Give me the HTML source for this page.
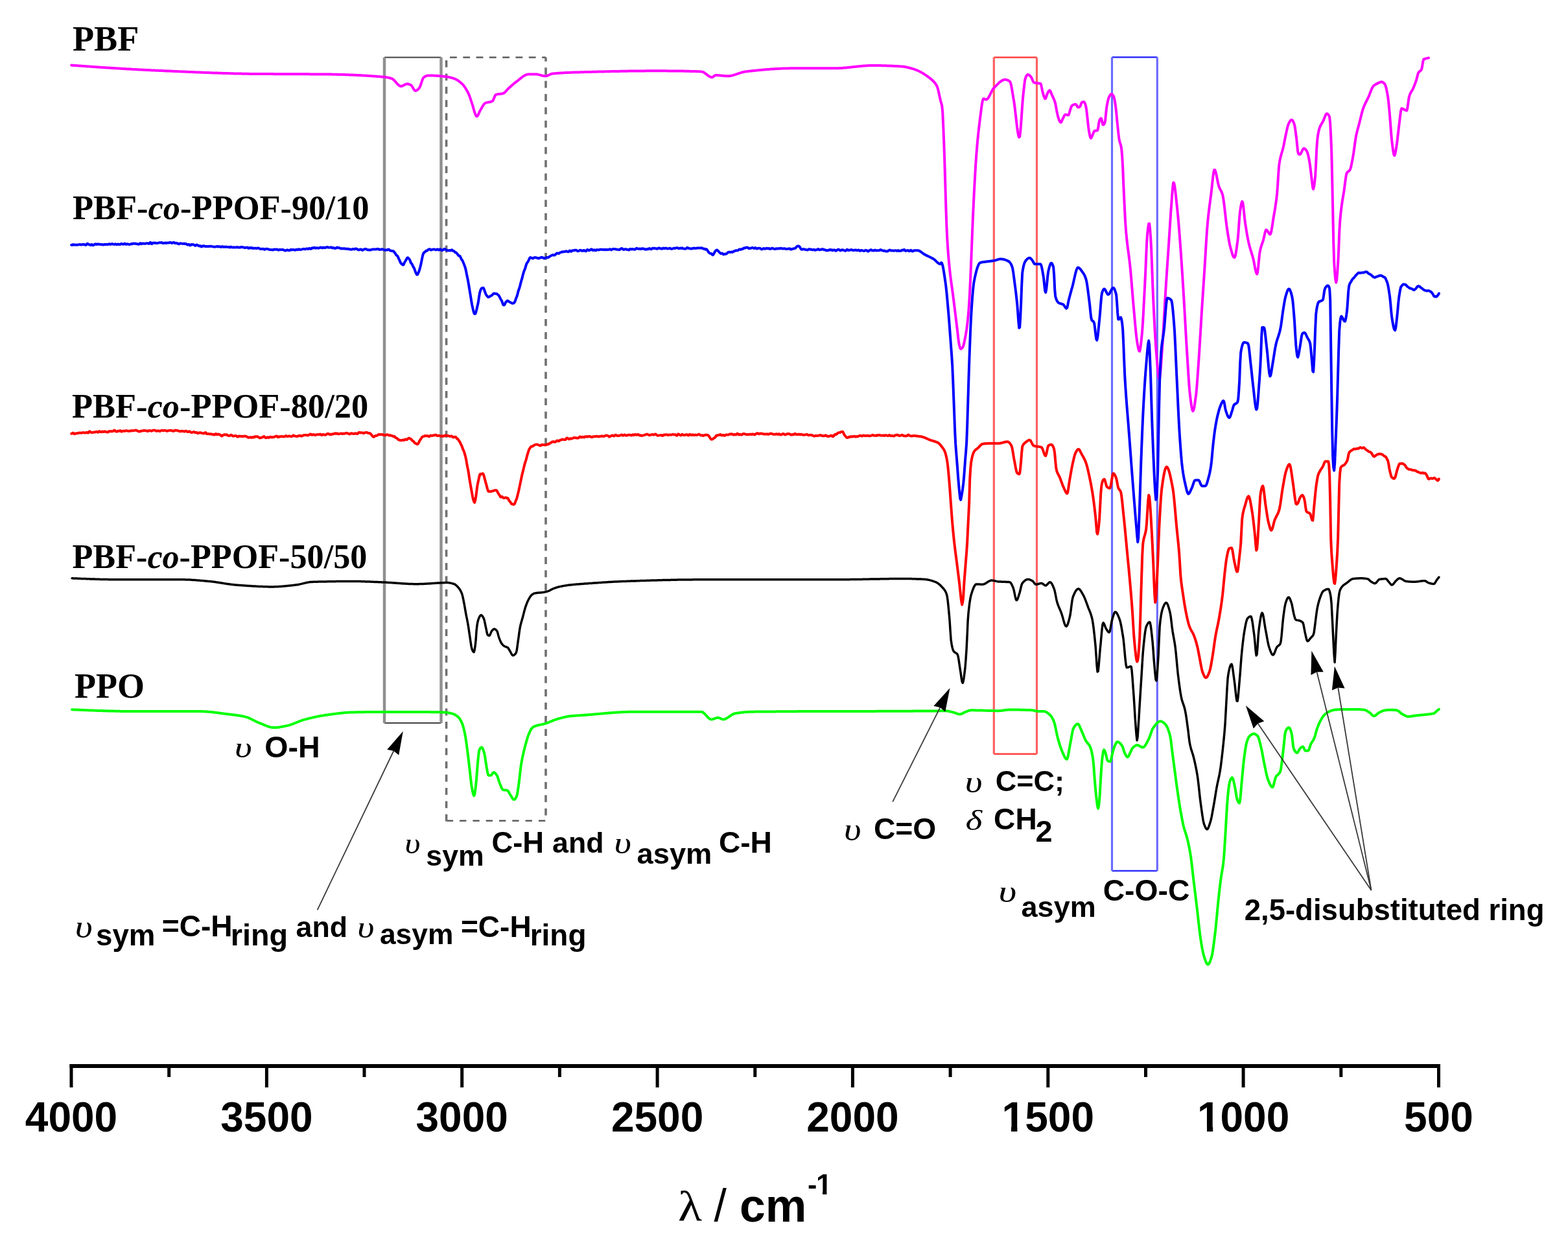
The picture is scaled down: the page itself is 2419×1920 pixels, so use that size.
<!DOCTYPE html>
<html><head><meta charset="utf-8"><title>FTIR spectra</title><style>html,body{margin:0;padding:0;background:#fff;}svg{display:block;}</style></head><body>
<svg width="2419" height="1920" viewBox="0 0 2419 1920">
<rect x="0" y="0" width="2419" height="1920" fill="#fff"/>
<defs><clipPath id="no1base"><path clip-rule="evenodd" d="M0 0H2419V1920H0Z M1548 1737.4h12v8.6h-12z M1569.4 1737.4h12v8.6h-12z M1850 1737.4h12v8.6h-12z M1871.2 1737.4h11v8.6h-11z M1260 1836.6h9v6.4h-9z M1275.4 1836.6h8v6.4h-8z"/></clipPath></defs>
<line x1="593" y1="88.5" x2="680.5" y2="88.5" stroke="#404040" stroke-width="2.2"/><line x1="593" y1="1115" x2="680.5" y2="1115" stroke="#404040" stroke-width="2.2"/><line x1="593" y1="88.5" x2="593" y2="1115" stroke="#909090" stroke-width="4.5"/><line x1="680.5" y1="88.5" x2="680.5" y2="1115" stroke="#909090" stroke-width="4.5"/>
<line x1="688.8" y1="88.5" x2="842" y2="88.5" stroke="#5c5c5c" stroke-width="2.6" stroke-dasharray="10.8 9.5" stroke-dashoffset="15.1"/>
<line x1="688.8" y1="1265.8" x2="842" y2="1265.8" stroke="#5c5c5c" stroke-width="2.6" stroke-dasharray="10.3 10" stroke-dashoffset="0"/>
<line x1="688.6" y1="88.5" x2="688.6" y2="1266.5" stroke="#707070" stroke-width="3.6" stroke-dasharray="10.8 9.6" stroke-dashoffset="15.9"/>
<line x1="842" y1="88.5" x2="842" y2="1266.5" stroke="#707070" stroke-width="3.6" stroke-dasharray="10.8 9.6" stroke-dashoffset="4.6"/>
<line x1="1533.3" y1="88.5" x2="1599.5" y2="88.5" stroke="#ff4040" stroke-width="2.6"/><line x1="1533.3" y1="1162.8" x2="1599.5" y2="1162.8" stroke="#ff4040" stroke-width="2.6"/><line x1="1533.3" y1="88.5" x2="1533.3" y2="1162.8" stroke="#ff6060" stroke-width="3.2"/><line x1="1599.5" y1="88.5" x2="1599.5" y2="1162.8" stroke="#ff6060" stroke-width="3.2"/>
<line x1="1715.5" y1="88.3" x2="1785.3" y2="88.3" stroke="#3030ff" stroke-width="2.6"/><line x1="1715.5" y1="1343" x2="1785.3" y2="1343" stroke="#3030ff" stroke-width="2.6"/><line x1="1715.5" y1="88.3" x2="1715.5" y2="1343" stroke="#6b6bff" stroke-width="3.2"/><line x1="1785.3" y1="88.3" x2="1785.3" y2="1343" stroke="#6b6bff" stroke-width="3.2"/>
<polyline fill="none" stroke="#ff00ff" stroke-width="4.0" stroke-linejoin="round" stroke-linecap="round" points="110.2,100.6 111.2,100.7 112.2,100.7 113.2,100.8 114.2,100.9 115.2,101.0 116.2,101.0 117.2,101.1 118.2,101.2 119.2,101.3 120.2,101.3 121.2,101.4 122.2,101.5 123.2,101.6 124.2,101.6 125.2,101.7 126.2,101.8 127.2,101.8 128.2,101.9 129.2,102.0 130.2,102.1 131.2,102.1 132.2,102.2 133.2,102.3 134.2,102.3 135.2,102.4 136.2,102.5 137.2,102.6 138.2,102.6 139.2,102.7 140.2,102.8 141.2,102.8 142.2,102.9 143.2,103.0 144.2,103.0 145.2,103.1 146.2,103.2 147.2,103.2 148.2,103.3 149.2,103.4 150.2,103.4 151.2,103.5 152.2,103.6 153.2,103.7 154.2,103.7 155.2,103.8 156.2,103.9 157.2,103.9 158.2,104.0 159.2,104.1 160.2,104.1 161.2,104.2 162.2,104.2 163.2,104.3 164.2,104.4 165.2,104.4 166.2,104.5 167.2,104.6 168.2,104.6 169.2,104.7 170.2,104.8 171.2,104.8 172.2,104.9 173.2,105.0 174.2,105.0 175.2,105.1 176.2,105.1 177.2,105.2 178.2,105.3 179.2,105.3 180.2,105.4 181.2,105.5 182.2,105.5 183.2,105.6 184.2,105.6 185.2,105.7 186.2,105.8 187.2,105.8 188.2,105.9 189.2,105.9 190.2,106.0 191.2,106.1 192.2,106.1 193.2,106.2 194.2,106.2 195.2,106.3 196.2,106.4 197.2,106.4 198.2,106.5 199.2,106.5 200.2,106.6 201.2,106.6 202.2,106.7 203.2,106.8 204.2,106.8 205.2,106.9 206.2,106.9 207.2,107.0 208.2,107.0 209.2,107.1 210.2,107.1 211.2,107.2 212.2,107.3 213.2,107.3 214.2,107.4 215.2,107.4 216.2,107.5 217.2,107.5 218.2,107.6 219.2,107.6 220.2,107.7 221.2,107.7 222.2,107.8 223.2,107.8 224.2,107.9 225.2,107.9 226.2,108.0 227.2,108.0 228.2,108.1 229.2,108.1 230.2,108.2 231.2,108.2 232.2,108.3 233.2,108.3 234.2,108.4 235.2,108.4 236.2,108.5 237.2,108.5 238.2,108.6 239.2,108.6 240.2,108.7 241.2,108.7 242.2,108.7 243.2,108.8 244.2,108.8 245.2,108.9 246.2,108.9 247.2,109.0 248.2,109.0 249.2,109.1 250.2,109.1 251.2,109.1 252.2,109.2 253.2,109.2 254.2,109.3 255.2,109.3 256.2,109.4 257.2,109.4 258.2,109.4 259.2,109.5 260.2,109.5 261.2,109.6 262.2,109.6 263.2,109.7 264.2,109.7 265.2,109.8 266.2,109.8 267.2,109.8 268.2,109.9 269.2,109.9 270.2,110.0 271.2,110.0 272.2,110.1 273.2,110.1 274.2,110.2 275.2,110.2 276.2,110.2 277.2,110.3 278.2,110.3 279.2,110.4 280.2,110.4 281.2,110.5 282.2,110.5 283.2,110.5 284.2,110.6 285.2,110.6 286.2,110.7 287.2,110.7 288.2,110.8 289.2,110.8 290.2,110.8 291.2,110.9 292.2,110.9 293.2,111.0 294.2,111.0 295.2,111.1 296.2,111.1 297.2,111.1 298.2,111.2 299.2,111.2 300.2,111.3 301.2,111.3 302.2,111.4 303.2,111.4 304.2,111.4 305.2,111.5 306.2,111.5 307.2,111.6 308.2,111.6 309.2,111.6 310.2,111.7 311.2,111.7 312.2,111.8 313.2,111.8 314.2,111.8 315.2,111.9 316.2,111.9 317.2,112.0 318.2,112.0 319.2,112.0 320.2,112.1 321.2,112.1 322.2,112.1 323.2,112.2 324.2,112.2 325.2,112.3 326.2,112.3 327.2,112.3 328.2,112.4 329.2,112.4 330.2,112.4 331.2,112.5 332.2,112.5 333.2,112.5 334.2,112.6 335.2,112.6 336.2,112.6 337.2,112.7 338.2,112.7 339.2,112.7 340.2,112.8 341.2,112.8 342.2,112.8 343.2,112.9 344.2,112.9 345.2,112.9 346.2,113.0 347.2,113.0 348.2,113.0 349.2,113.1 350.2,113.1 351.2,113.1 352.2,113.1 353.2,113.2 354.2,113.2 355.2,113.2 356.2,113.3 357.2,113.3 358.2,113.3 359.2,113.3 360.2,113.4 361.2,113.4 362.2,113.4 363.2,113.4 364.2,113.5 365.2,113.5 366.2,113.5 367.2,113.5 368.2,113.6 369.2,113.6 370.2,113.6 371.2,113.6 372.2,113.6 373.2,113.7 374.2,113.7 375.2,113.7 376.2,113.7 377.2,113.7 378.2,113.8 379.2,113.8 380.2,113.8 381.2,113.8 382.2,113.8 383.2,113.8 384.2,113.9 385.2,113.9 386.2,113.9 387.2,113.9 388.2,113.9 389.2,113.9 390.2,113.9 391.2,113.9 392.2,114.0 393.2,114.0 394.2,114.0 395.2,114.0 396.2,114.0 397.2,114.0 398.2,114.0 399.2,114.0 400.2,114.0 401.2,114.0 402.2,114.0 403.2,114.0 404.2,114.1 405.2,114.1 406.2,114.1 407.2,114.1 408.2,114.1 409.2,114.1 410.2,114.1 411.2,114.1 412.2,114.1 413.2,114.1 414.2,114.1 415.2,114.1 416.2,114.1 417.2,114.1 418.2,114.1 419.2,114.1 420.2,114.1 421.2,114.1 422.2,114.2 423.2,114.2 424.2,114.2 425.2,114.2 426.2,114.2 427.2,114.2 428.2,114.2 429.2,114.2 430.2,114.2 431.2,114.2 432.2,114.2 433.2,114.2 434.2,114.2 435.2,114.2 436.2,114.2 437.2,114.2 438.2,114.2 439.2,114.2 440.2,114.2 441.2,114.2 442.2,114.2 443.2,114.2 444.2,114.2 445.2,114.2 446.2,114.2 447.2,114.2 448.2,114.2 449.2,114.2 450.2,114.2 451.2,114.2 452.2,114.3 453.2,114.3 454.2,114.3 455.2,114.3 456.2,114.3 457.2,114.3 458.2,114.3 459.2,114.3 460.2,114.3 461.2,114.3 462.2,114.3 463.2,114.3 464.2,114.3 465.2,114.3 466.2,114.3 467.2,114.3 468.2,114.3 469.2,114.3 470.2,114.3 471.2,114.3 472.2,114.3 473.2,114.3 474.2,114.3 475.2,114.3 476.2,114.3 477.2,114.3 478.2,114.4 479.2,114.4 480.2,114.4 481.2,114.4 482.2,114.4 483.2,114.4 484.2,114.4 485.2,114.4 486.2,114.4 487.2,114.4 488.2,114.4 489.2,114.4 490.2,114.4 491.2,114.4 492.2,114.4 493.2,114.4 494.2,114.5 495.2,114.5 496.2,114.5 497.2,114.5 498.2,114.5 499.2,114.5 500.2,114.5 501.2,114.5 502.2,114.5 503.2,114.5 504.2,114.5 505.2,114.6 506.2,114.6 507.2,114.6 508.2,114.6 509.2,114.6 510.2,114.6 511.2,114.6 512.2,114.7 513.2,114.7 514.2,114.7 515.2,114.7 516.2,114.7 517.2,114.8 518.2,114.8 519.2,114.8 520.2,114.8 521.2,114.9 522.2,114.9 523.2,114.9 524.2,114.9 525.2,115.0 526.2,115.0 527.2,115.0 528.2,115.0 529.2,115.1 530.2,115.1 531.2,115.1 532.2,115.2 533.2,115.2 534.2,115.2 535.2,115.3 536.2,115.3 537.2,115.3 538.2,115.4 539.2,115.4 540.2,115.5 541.2,115.5 542.2,115.5 543.2,115.6 544.2,115.6 545.2,115.7 546.2,115.7 547.2,115.8 548.2,115.8 549.2,115.8 550.2,115.9 551.2,115.9 552.2,116.0 553.2,116.0 554.2,116.1 555.2,116.1 556.2,116.2 557.2,116.3 558.2,116.3 559.2,116.4 560.2,116.4 561.2,116.5 562.2,116.5 563.2,116.6 564.2,116.7 565.2,116.7 566.2,116.8 567.2,116.8 568.2,116.9 569.2,117.0 570.2,117.0 571.2,117.1 572.2,117.2 573.2,117.2 574.2,117.3 575.2,117.4 576.2,117.4 577.2,117.5 578.2,117.6 579.2,117.7 580.2,117.7 581.2,117.8 582.2,117.9 583.2,118.0 584.2,118.0 585.2,118.1 586.2,118.2 587.2,118.3 588.2,118.4 589.2,118.4 590.2,118.5 591.2,118.6 592.2,118.7 593.2,118.8 594.2,118.9 595.2,119.1 596.2,119.2 597.2,119.4 598.2,119.6 599.2,119.8 600.2,120.0 601.2,120.2 602.2,120.5 603.2,120.8 604.2,121.1 605.2,121.5 606.2,122.2 607.2,123.0 608.2,124.0 609.2,125.1 610.2,126.2 611.2,127.4 612.2,128.5 613.2,129.6 614.2,130.6 615.2,131.5 616.2,132.2 617.2,132.7 618.2,133.0 619.2,133.0 620.2,132.7 621.2,132.4 622.2,131.9 623.2,131.3 624.2,130.7 625.2,130.2 626.2,129.8 627.2,129.5 628.2,129.4 629.2,129.5 630.2,129.7 631.2,130.0 632.2,130.4 633.2,130.8 634.2,131.4 635.2,132.5 636.2,134.0 637.2,135.7 638.2,137.4 639.2,138.8 640.2,139.7 641.2,140.0 642.2,139.7 643.2,139.2 644.2,138.4 645.2,137.5 646.2,136.4 647.2,135.2 648.2,133.1 649.2,130.4 650.2,127.4 651.2,124.4 652.2,121.8 653.2,119.9 654.2,118.9 655.2,118.3 656.2,117.7 657.2,117.3 658.2,116.9 659.2,116.6 660.2,116.4 661.2,116.4 662.2,116.4 663.2,116.4 664.2,116.4 665.2,116.5 666.2,116.5 667.2,116.5 668.2,116.6 669.2,116.6 670.2,116.7 671.2,116.7 672.2,116.8 673.2,116.8 674.2,116.9 675.2,117.0 676.2,117.1 677.2,117.1 678.2,117.2 679.2,117.3 680.2,117.4 681.2,117.5 682.2,117.6 683.2,117.7 684.2,117.8 685.2,117.9 686.2,118.0 687.2,118.1 688.2,118.2 689.2,118.4 690.2,118.5 691.2,118.7 692.2,118.9 693.2,119.1 694.2,119.4 695.2,119.6 696.2,119.9 697.2,120.2 698.2,120.4 699.2,120.7 700.2,121.1 701.2,121.4 702.2,121.8 703.2,122.3 704.2,122.8 705.2,123.4 706.2,124.0 707.2,124.7 708.2,125.4 709.2,126.2 710.2,127.0 711.2,127.8 712.2,128.7 713.2,129.6 714.2,130.6 715.2,131.8 716.2,133.1 717.2,134.5 718.2,136.0 719.2,137.7 720.2,139.4 721.2,141.3 722.2,143.2 723.2,145.3 724.2,147.9 725.2,150.7 726.2,153.7 727.2,156.7 728.2,159.6 729.2,162.7 730.2,166.2 731.2,169.8 732.2,173.2 733.2,176.1 734.2,178.2 735.2,179.4 736.2,179.3 737.2,178.0 738.2,176.1 739.2,173.7 740.2,171.5 741.2,169.7 742.2,168.0 743.2,166.2 744.2,164.5 745.2,162.8 746.2,161.3 747.2,160.1 748.2,159.2 749.2,158.7 750.2,158.4 751.2,158.1 752.2,157.9 753.2,157.7 754.2,157.6 755.2,157.4 756.2,157.2 757.2,157.0 758.2,156.6 759.2,156.2 760.2,155.6 761.2,153.8 762.2,151.3 763.2,148.7 764.2,146.8 765.2,145.9 766.2,145.6 767.2,145.4 768.2,145.2 769.2,145.1 770.2,145.0 771.2,144.9 772.2,144.8 773.2,144.7 774.2,144.5 775.2,144.3 776.2,144.1 777.2,143.6 778.2,142.9 779.2,142.0 780.2,141.0 781.2,139.8 782.2,138.7 783.2,137.6 784.2,136.6 785.2,135.7 786.2,134.8 787.2,133.9 788.2,133.0 789.2,132.1 790.2,131.2 791.2,130.3 792.2,129.5 793.2,128.6 794.2,127.8 795.2,127.0 796.2,126.3 797.2,125.6 798.2,124.8 799.2,124.0 800.2,123.2 801.2,122.4 802.2,121.6 803.2,120.8 804.2,120.0 805.2,119.2 806.2,118.4 807.2,117.7 808.2,117.1 809.2,116.5 810.2,115.9 811.2,115.5 812.2,115.1 813.2,114.8 814.2,114.6 815.2,114.5 816.2,114.5 817.2,114.5 818.2,114.5 819.2,114.5 820.2,114.5 821.2,114.5 822.2,114.5 823.2,114.5 824.2,114.5 825.2,114.5 826.2,114.5 827.2,114.5 828.2,114.6 829.2,114.7 830.2,114.9 831.2,115.2 832.2,115.4 833.2,115.7 834.2,116.0 835.2,116.2 836.2,116.5 837.2,116.8 838.2,117.0 839.2,117.1 840.2,117.2 841.2,117.3 842.2,117.3 843.2,117.1 844.2,116.8 845.2,116.4 846.2,115.9 847.2,115.5 848.2,115.0 849.2,114.6 850.2,114.2 851.2,113.8 852.2,113.6 853.2,113.5 854.2,113.4 855.2,113.3 856.2,113.2 857.2,113.2 858.2,113.1 859.2,113.0 860.2,112.9 861.2,112.8 862.2,112.7 863.2,112.7 864.2,112.6 865.2,112.5 866.2,112.5 867.2,112.4 868.2,112.4 869.2,112.3 870.2,112.2 871.2,112.2 872.2,112.1 873.2,112.1 874.2,112.0 875.2,112.0 876.2,111.9 877.2,111.9 878.2,111.9 879.2,111.8 880.2,111.8 881.2,111.8 882.2,111.7 883.2,111.7 884.2,111.6 885.2,111.6 886.2,111.6 887.2,111.6 888.2,111.5 889.2,111.5 890.2,111.5 891.2,111.4 892.2,111.4 893.2,111.4 894.2,111.4 895.2,111.3 896.2,111.3 897.2,111.3 898.2,111.2 899.2,111.2 900.2,111.2 901.2,111.2 902.2,111.1 903.2,111.1 904.2,111.1 905.2,111.1 906.2,111.0 907.2,111.0 908.2,111.0 909.2,111.0 910.2,110.9 911.2,110.9 912.2,110.9 913.2,110.8 914.2,110.8 915.2,110.8 916.2,110.8 917.2,110.7 918.2,110.7 919.2,110.7 920.2,110.7 921.2,110.6 922.2,110.6 923.2,110.6 924.2,110.6 925.2,110.5 926.2,110.5 927.2,110.5 928.2,110.5 929.2,110.4 930.2,110.4 931.2,110.4 932.2,110.4 933.2,110.3 934.2,110.3 935.2,110.3 936.2,110.3 937.2,110.3 938.2,110.2 939.2,110.2 940.2,110.2 941.2,110.2 942.2,110.1 943.2,110.1 944.2,110.1 945.2,110.1 946.2,110.1 947.2,110.0 948.2,110.0 949.2,110.0 950.2,110.0 951.2,110.0 952.2,109.9 953.2,109.9 954.2,109.9 955.2,109.9 956.2,109.9 957.2,109.8 958.2,109.8 959.2,109.8 960.2,109.8 961.2,109.8 962.2,109.7 963.2,109.7 964.2,109.7 965.2,109.7 966.2,109.7 967.2,109.7 968.2,109.7 969.2,109.6 970.2,109.6 971.2,109.6 972.2,109.6 973.2,109.6 974.2,109.6 975.2,109.6 976.2,109.5 977.2,109.5 978.2,109.5 979.2,109.5 980.2,109.5 981.2,109.5 982.2,109.5 983.2,109.5 984.2,109.4 985.2,109.4 986.2,109.4 987.2,109.4 988.2,109.4 989.2,109.4 990.2,109.4 991.2,109.4 992.2,109.4 993.2,109.4 994.2,109.4 995.2,109.4 996.2,109.3 997.2,109.3 998.2,109.3 999.2,109.3 1000.2,109.3 1001.2,109.3 1002.2,109.3 1003.2,109.3 1004.2,109.3 1005.2,109.3 1006.2,109.3 1007.2,109.3 1008.2,109.3 1009.2,109.3 1010.2,109.3 1011.2,109.3 1012.2,109.3 1013.2,109.3 1014.2,109.3 1015.2,109.3 1016.2,109.3 1017.2,109.3 1018.2,109.3 1019.2,109.3 1020.2,109.3 1021.2,109.3 1022.2,109.3 1023.2,109.3 1024.2,109.3 1025.2,109.3 1026.2,109.3 1027.2,109.3 1028.2,109.3 1029.2,109.3 1030.2,109.4 1031.2,109.4 1032.2,109.4 1033.2,109.4 1034.2,109.4 1035.2,109.4 1036.2,109.4 1037.2,109.4 1038.2,109.4 1039.2,109.4 1040.2,109.4 1041.2,109.5 1042.2,109.5 1043.2,109.5 1044.2,109.5 1045.2,109.5 1046.2,109.5 1047.2,109.5 1048.2,109.5 1049.2,109.6 1050.2,109.6 1051.2,109.6 1052.2,109.6 1053.2,109.6 1054.2,109.6 1055.2,109.7 1056.2,109.7 1057.2,109.7 1058.2,109.7 1059.2,109.7 1060.2,109.8 1061.2,109.8 1062.2,109.8 1063.2,109.8 1064.2,109.9 1065.2,109.9 1066.2,109.9 1067.2,109.9 1068.2,110.0 1069.2,110.0 1070.2,110.0 1071.2,110.0 1072.2,110.1 1073.2,110.1 1074.2,110.1 1075.2,110.2 1076.2,110.2 1077.2,110.2 1078.2,110.3 1079.2,110.3 1080.2,110.3 1081.2,110.4 1082.2,110.4 1083.2,110.6 1084.2,110.9 1085.2,111.3 1086.2,111.9 1087.2,112.6 1088.2,113.3 1089.2,114.1 1090.2,114.8 1091.2,115.6 1092.2,116.4 1093.2,117.1 1094.2,117.7 1095.2,118.3 1096.2,118.7 1097.2,119.0 1098.2,119.2 1099.2,119.1 1100.2,118.5 1101.2,117.6 1102.2,116.8 1103.2,116.2 1104.2,116.0 1105.2,116.0 1106.2,116.1 1107.2,116.1 1108.2,116.2 1109.2,116.2 1110.2,116.3 1111.2,116.4 1112.2,116.5 1113.2,116.6 1114.2,116.7 1115.2,116.8 1116.2,116.9 1117.2,117.0 1118.2,117.1 1119.2,117.2 1120.2,117.2 1121.2,117.3 1122.2,117.3 1123.2,117.3 1124.2,117.2 1125.2,117.2 1126.2,117.0 1127.2,116.9 1128.2,116.7 1129.2,116.5 1130.2,116.2 1131.2,116.0 1132.2,115.7 1133.2,115.4 1134.2,115.0 1135.2,114.7 1136.2,114.4 1137.2,114.0 1138.2,113.7 1139.2,113.3 1140.2,113.0 1141.2,112.7 1142.2,112.4 1143.2,112.0 1144.2,111.7 1145.2,111.5 1146.2,111.2 1147.2,111.0 1148.2,110.8 1149.2,110.6 1150.2,110.4 1151.2,110.3 1152.2,110.2 1153.2,110.1 1154.2,110.0 1155.2,109.9 1156.2,109.7 1157.2,109.6 1158.2,109.5 1159.2,109.4 1160.2,109.3 1161.2,109.2 1162.2,109.1 1163.2,109.0 1164.2,108.9 1165.2,108.8 1166.2,108.7 1167.2,108.6 1168.2,108.5 1169.2,108.4 1170.2,108.3 1171.2,108.2 1172.2,108.1 1173.2,108.0 1174.2,107.9 1175.2,107.8 1176.2,107.7 1177.2,107.6 1178.2,107.5 1179.2,107.4 1180.2,107.3 1181.2,107.3 1182.2,107.2 1183.2,107.1 1184.2,107.0 1185.2,106.9 1186.2,106.9 1187.2,106.8 1188.2,106.7 1189.2,106.6 1190.2,106.6 1191.2,106.5 1192.2,106.4 1193.2,106.4 1194.2,106.3 1195.2,106.2 1196.2,106.2 1197.2,106.1 1198.2,106.1 1199.2,106.0 1200.2,106.0 1201.2,105.9 1202.2,105.9 1203.2,105.8 1204.2,105.8 1205.2,105.7 1206.2,105.7 1207.2,105.6 1208.2,105.6 1209.2,105.6 1210.2,105.5 1211.2,105.5 1212.2,105.5 1213.2,105.5 1214.2,105.4 1215.2,105.4 1216.2,105.4 1217.2,105.4 1218.2,105.3 1219.2,105.3 1220.2,105.3 1221.2,105.3 1222.2,105.3 1223.2,105.3 1224.2,105.3 1225.2,105.3 1226.2,105.3 1227.2,105.3 1228.2,105.3 1229.2,105.3 1230.2,105.3 1231.2,105.3 1232.2,105.3 1233.2,105.3 1234.2,105.3 1235.2,105.3 1236.2,105.3 1237.2,105.3 1238.2,105.3 1239.2,105.3 1240.2,105.3 1241.2,105.3 1242.2,105.3 1243.2,105.3 1244.2,105.3 1245.2,105.3 1246.2,105.3 1247.2,105.3 1248.2,105.3 1249.2,105.3 1250.2,105.3 1251.2,105.3 1252.2,105.3 1253.2,105.3 1254.2,105.3 1255.2,105.3 1256.2,105.3 1257.2,105.3 1258.2,105.3 1259.2,105.3 1260.2,105.3 1261.2,105.3 1262.2,105.3 1263.2,105.3 1264.2,105.3 1265.2,105.3 1266.2,105.3 1267.2,105.3 1268.2,105.3 1269.2,105.3 1270.2,105.3 1271.2,105.3 1272.2,105.3 1273.2,105.3 1274.2,105.3 1275.2,105.3 1276.2,105.3 1277.2,105.3 1278.2,105.3 1279.2,105.3 1280.2,105.3 1281.2,105.3 1282.2,105.3 1283.2,105.3 1284.2,105.3 1285.2,105.3 1286.2,105.3 1287.2,105.3 1288.2,105.3 1289.2,105.3 1290.2,105.3 1291.2,105.3 1292.2,105.2 1293.2,105.2 1294.2,105.2 1295.2,105.1 1296.2,105.1 1297.2,105.0 1298.2,104.9 1299.2,104.9 1300.2,104.8 1301.2,104.7 1302.2,104.6 1303.2,104.5 1304.2,104.5 1305.2,104.4 1306.2,104.3 1307.2,104.2 1308.2,104.1 1309.2,104.0 1310.2,103.9 1311.2,103.8 1312.2,103.7 1313.2,103.6 1314.2,103.4 1315.2,103.3 1316.2,103.2 1317.2,103.1 1318.2,103.0 1319.2,102.9 1320.2,102.8 1321.2,102.7 1322.2,102.6 1323.2,102.5 1324.2,102.4 1325.2,102.3 1326.2,102.2 1327.2,102.1 1328.2,102.0 1329.2,101.9 1330.2,101.8 1331.2,101.7 1332.2,101.6 1333.2,101.5 1334.2,101.5 1335.2,101.4 1336.2,101.3 1337.2,101.3 1338.2,101.2 1339.2,101.2 1340.2,101.1 1341.2,101.1 1342.2,101.1 1343.2,101.0 1344.2,101.0 1345.2,101.0 1346.2,101.0 1347.2,101.0 1348.2,101.0 1349.2,101.0 1350.2,101.0 1351.2,101.0 1352.2,101.0 1353.2,101.0 1354.2,101.1 1355.2,101.1 1356.2,101.1 1357.2,101.1 1358.2,101.1 1359.2,101.1 1360.2,101.2 1361.2,101.2 1362.2,101.2 1363.2,101.2 1364.2,101.3 1365.2,101.3 1366.2,101.3 1367.2,101.3 1368.2,101.4 1369.2,101.4 1370.2,101.4 1371.2,101.5 1372.2,101.5 1373.2,101.6 1374.2,101.6 1375.2,101.6 1376.2,101.7 1377.2,101.7 1378.2,101.8 1379.2,101.8 1380.2,101.9 1381.2,101.9 1382.2,102.0 1383.2,102.0 1384.2,102.1 1385.2,102.1 1386.2,102.2 1387.2,102.2 1388.2,102.3 1389.2,102.4 1390.2,102.4 1391.2,102.5 1392.2,102.6 1393.2,102.7 1394.2,102.8 1395.2,103.0 1396.2,103.2 1397.2,103.3 1398.2,103.5 1399.2,103.7 1400.2,104.0 1401.2,104.2 1402.2,104.5 1403.2,104.7 1404.2,105.0 1405.2,105.3 1406.2,105.5 1407.2,105.8 1408.2,106.1 1409.2,106.4 1410.2,106.7 1411.2,107.1 1412.2,107.4 1413.2,107.8 1414.2,108.2 1415.2,108.6 1416.2,109.0 1417.2,109.5 1418.2,109.9 1419.2,110.5 1420.2,111.0 1421.2,111.5 1422.2,112.1 1423.2,112.7 1424.2,113.3 1425.2,113.9 1426.2,114.6 1427.2,115.2 1428.2,115.9 1429.2,116.6 1430.2,117.3 1431.2,118.0 1432.2,118.8 1433.2,119.5 1434.2,120.3 1435.2,121.1 1436.2,121.9 1437.2,122.7 1438.2,123.5 1439.2,124.5 1440.2,125.5 1441.2,126.6 1442.2,127.8 1443.2,129.2 1444.2,130.7 1445.2,132.5 1446.2,134.7 1447.2,138.1 1448.2,142.4 1449.2,147.1 1450.2,151.7 1451.2,156.0 1452.2,159.2 1453.2,162.9 1454.2,172.8 1455.2,194.0 1456.2,218.5 1457.2,247.0 1458.2,280.0 1459.2,314.9 1460.2,344.6 1461.2,366.4 1462.2,382.4 1463.2,395.6 1464.2,406.8 1465.2,416.7 1466.2,425.4 1467.2,433.2 1468.2,440.5 1469.2,447.7 1470.2,455.1 1471.2,463.0 1472.2,471.0 1473.2,479.0 1474.2,487.1 1475.2,495.2 1476.2,503.3 1477.2,511.5 1478.2,520.7 1479.2,528.4 1480.2,533.2 1481.2,536.9 1482.2,538.0 1483.2,537.6 1484.2,536.8 1485.2,535.7 1486.2,533.4 1487.2,529.6 1488.2,524.9 1489.2,519.9 1490.2,514.4 1491.2,508.0 1492.2,500.5 1493.2,491.7 1494.2,481.3 1495.2,466.8 1496.2,448.5 1497.2,428.1 1498.2,403.3 1499.2,378.0 1500.2,352.8 1501.2,329.6 1502.2,308.5 1503.2,289.0 1504.2,271.0 1505.2,254.1 1506.2,239.5 1507.2,227.3 1508.2,216.2 1509.2,206.2 1510.2,197.2 1511.2,189.1 1512.2,181.1 1513.2,173.0 1514.2,165.3 1515.2,158.8 1516.2,154.2 1517.2,152.3 1518.2,152.4 1519.2,152.8 1520.2,153.2 1521.2,153.5 1522.2,153.4 1523.2,152.7 1524.2,151.6 1525.2,150.1 1526.2,148.3 1527.2,146.3 1528.2,144.3 1529.2,142.2 1530.2,140.3 1531.2,138.5 1532.2,137.0 1533.2,135.8 1534.2,134.8 1535.2,133.7 1536.2,132.7 1537.2,131.6 1538.2,130.6 1539.2,129.6 1540.2,128.6 1541.2,127.7 1542.2,126.8 1543.2,126.0 1544.2,125.3 1545.2,124.6 1546.2,124.1 1547.2,123.6 1548.2,123.2 1549.2,122.9 1550.2,122.8 1551.2,122.8 1552.2,122.9 1553.2,123.2 1554.2,123.5 1555.2,124.0 1556.2,124.5 1557.2,125.2 1558.2,126.0 1559.2,128.4 1560.2,132.5 1561.2,137.9 1562.2,144.0 1563.2,150.1 1564.2,155.9 1565.2,162.9 1566.2,171.2 1567.2,180.0 1568.2,188.8 1569.2,197.0 1570.2,203.9 1571.2,209.1 1572.2,211.7 1573.2,210.6 1574.2,202.9 1575.2,190.6 1576.2,176.1 1577.2,161.6 1578.2,149.6 1579.2,140.2 1580.2,130.9 1581.2,123.6 1582.2,119.9 1583.2,117.6 1584.2,116.0 1585.2,115.1 1586.2,115.1 1587.2,115.5 1588.2,116.2 1589.2,117.1 1590.2,118.1 1591.2,119.6 1592.2,121.9 1593.2,124.3 1594.2,126.3 1595.2,127.2 1596.2,127.5 1597.2,127.8 1598.2,128.0 1599.2,128.2 1600.2,128.3 1601.2,128.4 1602.2,128.5 1603.2,128.6 1604.2,128.7 1605.2,129.0 1606.2,130.9 1607.2,135.6 1608.2,140.8 1609.2,144.6 1610.2,147.7 1611.2,150.4 1612.2,152.2 1613.2,151.9 1614.2,149.0 1615.2,145.6 1616.2,143.5 1617.2,141.5 1618.2,140.0 1619.2,139.3 1620.2,140.1 1621.2,142.2 1622.2,144.8 1623.2,147.2 1624.2,149.3 1625.2,151.4 1626.2,153.7 1627.2,156.4 1628.2,160.0 1629.2,165.2 1630.2,170.9 1631.2,175.6 1632.2,179.7 1633.2,183.3 1634.2,185.9 1635.2,187.6 1636.2,188.8 1637.2,188.5 1638.2,186.4 1639.2,183.8 1640.2,181.8 1641.2,179.8 1642.2,177.9 1643.2,176.8 1644.2,176.7 1645.2,176.9 1646.2,177.2 1647.2,177.5 1648.2,177.6 1649.2,176.1 1650.2,172.3 1651.2,168.9 1652.2,166.1 1653.2,163.6 1654.2,162.5 1655.2,161.9 1656.2,161.5 1657.2,161.1 1658.2,160.9 1659.2,160.8 1660.2,161.2 1661.2,162.8 1662.2,164.5 1663.2,165.5 1664.2,165.4 1665.2,165.0 1666.2,164.4 1667.2,162.2 1668.2,159.1 1669.2,157.9 1670.2,157.4 1671.2,157.2 1672.2,157.1 1673.2,158.1 1674.2,160.5 1675.2,163.8 1676.2,169.6 1677.2,178.7 1678.2,187.6 1679.2,196.7 1680.2,203.4 1681.2,208.5 1682.2,212.3 1683.2,213.1 1684.2,211.3 1685.2,208.7 1686.2,206.5 1687.2,204.0 1688.2,202.2 1689.2,201.8 1690.2,201.6 1691.2,201.5 1692.2,201.3 1693.2,201.0 1694.2,197.0 1695.2,189.9 1696.2,185.7 1697.2,183.8 1698.2,182.5 1699.2,182.9 1700.2,187.5 1701.2,192.0 1702.2,192.5 1703.2,191.6 1704.2,190.2 1705.2,185.2 1706.2,174.5 1707.2,165.5 1708.2,160.0 1709.2,155.3 1710.2,151.6 1711.2,149.2 1712.2,147.4 1713.2,145.9 1714.2,145.0 1715.2,145.0 1716.2,145.8 1717.2,147.3 1718.2,149.2 1719.2,152.3 1720.2,157.9 1721.2,164.8 1722.2,173.5 1723.2,184.3 1724.2,194.4 1725.2,203.9 1726.2,212.6 1727.2,218.2 1728.2,221.2 1729.2,224.1 1730.2,229.8 1731.2,240.9 1732.2,258.6 1733.2,283.3 1734.2,304.8 1735.2,325.7 1736.2,344.0 1737.2,357.4 1738.2,368.0 1739.2,376.8 1740.2,384.7 1741.2,392.1 1742.2,399.8 1743.2,408.2 1744.2,418.2 1745.2,429.5 1746.2,441.6 1747.2,454.0 1748.2,466.0 1749.2,477.2 1750.2,488.3 1751.2,499.6 1752.2,510.2 1753.2,519.5 1754.2,526.8 1755.2,532.5 1756.2,537.6 1757.2,541.2 1758.2,541.7 1759.2,537.6 1760.2,530.0 1761.2,520.9 1762.2,510.1 1763.2,495.3 1764.2,477.7 1765.2,458.5 1766.2,439.1 1767.2,419.0 1768.2,394.9 1769.2,373.0 1770.2,359.5 1771.2,350.8 1772.2,344.9 1773.2,344.7 1774.2,353.6 1775.2,367.2 1776.2,385.0 1777.2,410.9 1778.2,438.7 1779.2,461.9 1780.2,482.3 1781.2,501.7 1782.2,519.5 1783.2,535.1 1784.2,547.9 1785.2,559.9 1786.2,571.3 1787.2,580.1 1788.2,584.7 1789.2,583.1 1790.2,574.7 1791.2,562.2 1792.2,547.8 1793.2,534.0 1794.2,519.0 1795.2,501.8 1796.2,483.8 1797.2,465.8 1798.2,449.0 1799.2,433.5 1800.2,418.5 1801.2,403.8 1802.2,389.2 1803.2,374.5 1804.2,359.2 1805.2,343.4 1806.2,328.2 1807.2,315.0 1808.2,301.2 1809.2,288.6 1810.2,281.5 1811.2,282.1 1812.2,286.9 1813.2,294.4 1814.2,303.5 1815.2,313.0 1816.2,322.1 1817.2,332.2 1818.2,343.5 1819.2,355.7 1820.2,368.5 1821.2,381.7 1822.2,395.6 1823.2,410.4 1824.2,425.8 1825.2,441.7 1826.2,457.8 1827.2,474.6 1828.2,492.2 1829.2,509.9 1830.2,527.1 1831.2,543.1 1832.2,559.1 1833.2,575.1 1834.2,589.9 1835.2,602.4 1836.2,611.6 1837.2,619.5 1838.2,626.6 1839.2,631.7 1840.2,634.0 1841.2,632.7 1842.2,628.8 1843.2,622.9 1844.2,615.9 1845.2,608.4 1846.2,598.4 1847.2,585.6 1848.2,571.4 1849.2,557.2 1850.2,542.1 1851.2,526.0 1852.2,509.3 1853.2,492.6 1854.2,476.5 1855.2,461.3 1856.2,446.5 1857.2,431.7 1858.2,416.5 1859.2,400.3 1860.2,383.7 1861.2,367.7 1862.2,353.4 1863.2,341.7 1864.2,332.0 1865.2,323.5 1866.2,315.7 1867.2,308.3 1868.2,300.8 1869.2,292.3 1870.2,282.7 1871.2,273.5 1872.2,266.1 1873.2,262.0 1874.2,262.0 1875.2,264.3 1876.2,268.1 1877.2,272.9 1878.2,278.0 1879.2,282.8 1880.2,286.8 1881.2,289.5 1882.2,291.6 1883.2,293.4 1884.2,295.3 1885.2,297.6 1886.2,300.7 1887.2,305.8 1888.2,312.8 1889.2,321.0 1890.2,329.9 1891.2,338.8 1892.2,347.0 1893.2,353.9 1894.2,360.3 1895.2,366.6 1896.2,372.4 1897.2,377.4 1898.2,381.4 1899.2,385.1 1900.2,388.7 1901.2,392.0 1902.2,394.7 1903.2,396.5 1904.2,397.3 1905.2,396.1 1906.2,392.4 1907.2,386.7 1908.2,379.8 1909.2,372.3 1910.2,362.8 1911.2,348.5 1912.2,334.2 1913.2,325.0 1914.2,318.6 1915.2,313.4 1916.2,310.7 1917.2,312.1 1918.2,318.6 1919.2,327.9 1920.2,337.5 1921.2,345.1 1922.2,351.5 1923.2,357.7 1924.2,363.5 1925.2,368.8 1926.2,373.6 1927.2,377.7 1928.2,381.4 1929.2,384.8 1930.2,388.1 1931.2,391.3 1932.2,394.6 1933.2,398.2 1934.2,402.6 1935.2,407.8 1936.2,413.1 1937.2,417.8 1938.2,421.2 1939.2,422.7 1940.2,419.6 1941.2,411.0 1942.2,400.2 1943.2,390.8 1944.2,385.5 1945.2,381.6 1946.2,378.4 1947.2,375.5 1948.2,372.6 1949.2,369.3 1950.2,365.0 1951.2,360.3 1952.2,356.4 1953.2,354.5 1954.2,354.7 1955.2,355.9 1956.2,357.5 1957.2,359.2 1958.2,360.6 1959.2,361.4 1960.2,360.6 1961.2,357.1 1962.2,351.7 1963.2,345.2 1964.2,338.6 1965.2,332.7 1966.2,327.0 1967.2,321.0 1968.2,314.4 1969.2,306.9 1970.2,298.0 1971.2,284.3 1972.2,268.3 1973.2,255.4 1974.2,248.7 1975.2,243.7 1976.2,239.7 1977.2,236.3 1978.2,233.0 1979.2,229.4 1980.2,225.1 1981.2,220.1 1982.2,214.9 1983.2,210.0 1984.2,205.3 1985.2,200.6 1986.2,196.3 1987.2,192.8 1988.2,190.4 1989.2,188.5 1990.2,186.7 1991.2,185.5 1992.2,184.8 1993.2,184.9 1994.2,185.9 1995.2,187.7 1996.2,190.0 1997.2,193.2 1998.2,199.1 1999.2,206.4 2000.2,214.2 2001.2,224.6 2002.2,233.7 2003.2,237.1 2004.2,238.0 2005.2,238.3 2006.2,237.7 2007.2,236.1 2008.2,234.0 2009.2,231.8 2010.2,230.0 2011.2,228.9 2012.2,228.9 2013.2,229.5 2014.2,230.5 2015.2,231.9 2016.2,233.4 2017.2,235.8 2018.2,239.5 2019.2,244.2 2020.2,249.4 2021.2,256.0 2022.2,264.2 2023.2,273.0 2024.2,281.0 2025.2,289.5 2026.2,291.6 2027.2,287.4 2028.2,280.0 2029.2,270.8 2030.2,252.3 2031.2,229.9 2032.2,216.0 2033.2,208.5 2034.2,202.9 2035.2,198.9 2036.2,196.1 2037.2,193.8 2038.2,191.9 2039.2,190.2 2040.2,188.6 2041.2,186.8 2042.2,184.6 2043.2,182.1 2044.2,179.4 2045.2,177.2 2046.2,175.6 2047.2,175.2 2048.2,175.7 2049.2,176.7 2050.2,178.3 2051.2,180.7 2052.2,190.8 2053.2,209.5 2054.2,233.6 2055.2,276.0 2056.2,323.7 2057.2,373.3 2058.2,404.3 2059.2,419.8 2060.2,430.9 2061.2,435.7 2062.2,431.7 2063.2,420.3 2064.2,405.6 2065.2,385.4 2066.2,358.7 2067.2,341.7 2068.2,330.7 2069.2,322.0 2070.2,314.3 2071.2,307.8 2072.2,302.0 2073.2,296.1 2074.2,288.8 2075.2,280.9 2076.2,273.7 2077.2,268.4 2078.2,266.1 2079.2,265.0 2080.2,264.3 2081.2,263.6 2082.2,262.6 2083.2,260.7 2084.2,257.3 2085.2,252.7 2086.2,247.4 2087.2,242.0 2088.2,236.1 2089.2,228.9 2090.2,221.5 2091.2,214.6 2092.2,209.0 2093.2,204.5 2094.2,200.6 2095.2,196.9 2096.2,193.3 2097.2,189.4 2098.2,185.3 2099.2,181.2 2100.2,177.1 2101.2,173.2 2102.2,169.7 2103.2,166.7 2104.2,164.2 2105.2,161.8 2106.2,159.7 2107.2,157.6 2108.2,155.7 2109.2,153.7 2110.2,151.7 2111.2,149.6 2112.2,147.2 2113.2,144.6 2114.2,142.0 2115.2,139.5 2116.2,137.1 2117.2,135.1 2118.2,133.4 2119.2,132.3 2120.2,131.5 2121.2,130.7 2122.2,130.1 2123.2,129.6 2124.2,129.1 2125.2,128.6 2126.2,128.1 2127.2,127.6 2128.2,127.2 2129.2,126.7 2130.2,126.5 2131.2,126.3 2132.2,126.4 2133.2,126.8 2134.2,127.4 2135.2,128.3 2136.2,129.4 2137.2,131.3 2138.2,134.5 2139.2,138.8 2140.2,143.9 2141.2,149.6 2142.2,157.9 2143.2,168.4 2144.2,179.5 2145.2,192.3 2146.2,206.0 2147.2,217.0 2148.2,225.0 2149.2,232.4 2150.2,237.9 2151.2,240.0 2152.2,237.9 2153.2,232.9 2154.2,226.9 2155.2,220.3 2156.2,212.0 2157.2,203.0 2158.2,194.7 2159.2,186.6 2160.2,177.8 2161.2,170.6 2162.2,167.3 2163.2,167.5 2164.2,167.9 2165.2,168.4 2166.2,168.9 2167.2,169.4 2168.2,169.9 2169.2,170.3 2170.2,170.5 2171.2,167.5 2172.2,160.6 2173.2,153.0 2174.2,148.1 2175.2,145.4 2176.2,143.3 2177.2,141.5 2178.2,139.9 2179.2,138.2 2180.2,136.2 2181.2,133.8 2182.2,131.3 2183.2,128.6 2184.2,125.8 2185.2,122.8 2186.2,119.0 2187.2,115.0 2188.2,112.2 2189.2,110.8 2190.2,110.0 2191.2,109.3 2192.2,108.4 2193.2,106.8 2194.2,101.7 2195.2,95.2 2196.2,91.6 2197.2,91.1 2198.2,90.7 2199.2,90.4 2200.2,90.2 2201.2,89.9 2202.2,89.7 2203.2,89.4 2204.1,89.2"/>
<polyline fill="none" stroke="#0000ff" stroke-width="4.0" stroke-linejoin="round" stroke-linecap="round" points="110.2,377.7 111.2,377.9 112.2,377.4 113.2,377.1 114.2,377.6 115.2,377.7 116.2,377.4 117.2,377.6 118.2,377.7 119.2,377.6 120.2,377.6 121.2,377.4 122.2,377.1 123.2,377.0 124.2,377.2 125.2,377.5 126.2,377.4 127.2,377.0 128.2,376.8 129.2,377.0 130.2,377.2 131.2,377.5 132.2,378.0 133.2,377.4 134.2,375.9 135.2,375.8 136.2,376.7 137.2,377.1 138.2,377.3 139.2,377.9 140.2,378.0 141.2,377.1 142.2,377.2 143.2,378.2 144.2,378.1 145.2,377.5 146.2,376.7 147.2,376.3 148.2,376.9 149.2,376.9 150.2,376.4 151.2,376.5 152.2,376.7 153.2,376.6 154.2,376.8 155.2,377.1 156.2,377.0 157.2,376.9 158.2,377.4 159.2,377.6 160.2,377.1 161.2,376.8 162.2,377.0 163.2,377.1 164.2,377.0 165.2,376.8 166.2,377.1 167.2,376.8 168.2,376.2 169.2,376.5 170.2,376.9 171.2,376.7 172.2,376.2 173.2,376.1 174.2,376.5 175.2,376.7 176.2,376.9 177.2,376.8 178.2,376.2 179.2,376.7 180.2,377.2 181.2,376.6 182.2,376.4 183.2,376.9 184.2,377.1 185.2,377.0 186.2,376.3 187.2,375.8 188.2,376.1 189.2,376.5 190.2,376.8 191.2,376.4 192.2,375.6 193.2,375.8 194.2,376.8 195.2,376.8 196.2,376.3 197.2,376.4 198.2,376.7 199.2,376.9 200.2,376.9 201.2,376.6 202.2,376.2 203.2,376.4 204.2,376.1 205.2,375.4 206.2,375.6 207.2,375.8 208.2,375.5 209.2,375.8 210.2,376.0 211.2,376.2 212.2,376.3 213.2,376.5 214.2,376.7 215.2,376.1 216.2,375.2 217.2,375.3 218.2,376.2 219.2,375.9 220.2,375.4 221.2,375.5 222.2,375.7 223.2,375.9 224.2,375.7 225.2,375.3 226.2,375.2 227.2,375.2 228.2,375.2 229.2,375.7 230.2,375.8 231.2,374.4 232.2,373.9 233.2,375.5 234.2,376.2 235.2,375.0 236.2,374.4 237.2,374.8 238.2,374.7 239.2,374.5 240.2,374.8 241.2,375.0 242.2,374.9 243.2,374.9 244.2,374.6 245.2,374.3 246.2,374.2 247.2,374.3 248.2,374.3 249.2,374.0 250.2,374.3 251.2,375.1 252.2,375.0 253.2,374.7 254.2,374.8 255.2,374.5 256.2,374.5 257.2,374.8 258.2,374.6 259.2,374.3 260.2,374.6 261.2,374.3 262.2,373.8 263.2,373.9 264.2,374.6 265.2,375.0 266.2,374.6 267.2,374.0 268.2,373.8 269.2,374.5 270.2,375.2 271.2,374.9 272.2,374.7 273.2,375.2 274.2,375.6 275.2,376.1 276.2,376.4 277.2,375.8 278.2,375.2 279.2,375.4 280.2,375.6 281.2,375.8 282.2,375.9 283.2,375.7 284.2,375.6 285.2,376.1 286.2,376.0 287.2,375.9 288.2,376.9 289.2,377.5 290.2,377.4 291.2,376.9 292.2,377.3 293.2,378.5 294.2,378.1 295.2,377.0 296.2,377.0 297.2,377.2 298.2,377.2 299.2,377.6 300.2,378.2 301.2,378.9 302.2,378.4 303.2,377.4 304.2,377.6 305.2,378.2 306.2,379.0 307.2,379.4 308.2,379.1 309.2,379.2 310.2,380.3 311.2,380.4 312.2,379.5 313.2,379.3 314.2,379.4 315.2,379.3 316.2,379.6 317.2,380.2 318.2,379.9 319.2,379.8 320.2,380.1 321.2,379.9 322.2,379.8 323.2,379.9 324.2,379.8 325.2,379.7 326.2,379.9 327.2,380.1 328.2,380.3 329.2,380.4 330.2,380.6 331.2,380.8 332.2,380.6 333.2,380.3 334.2,380.2 335.2,380.0 336.2,380.2 337.2,380.5 338.2,380.2 339.2,380.3 340.2,380.9 341.2,381.1 342.2,380.4 343.2,380.0 344.2,380.8 345.2,380.9 346.2,380.6 347.2,380.9 348.2,380.7 349.2,380.5 350.2,380.9 351.2,381.1 352.2,380.9 353.2,380.9 354.2,381.6 355.2,381.1 356.2,380.6 357.2,381.2 358.2,381.4 359.2,381.4 360.2,381.3 361.2,381.4 362.2,381.4 363.2,381.4 364.2,381.5 365.2,381.3 366.2,381.1 367.2,381.5 368.2,381.8 369.2,381.5 370.2,381.4 371.2,381.4 372.2,380.9 373.2,381.0 374.2,381.3 375.2,381.3 376.2,381.6 377.2,382.1 378.2,382.2 379.2,381.7 380.2,381.7 381.2,381.6 382.2,381.8 383.2,382.9 384.2,382.5 385.2,382.1 386.2,382.6 387.2,382.2 388.2,381.9 389.2,382.7 390.2,383.1 391.2,382.7 392.2,382.7 393.2,382.8 394.2,382.7 395.2,383.1 396.2,383.1 397.2,382.6 398.2,382.4 399.2,382.7 400.2,383.2 401.2,383.8 402.2,384.0 403.2,384.1 404.2,384.0 405.2,383.8 406.2,383.7 407.2,384.5 408.2,384.9 409.2,384.2 410.2,383.8 411.2,384.0 412.2,383.9 413.2,384.0 414.2,384.3 415.2,384.8 416.2,385.2 417.2,385.1 418.2,385.1 419.2,385.3 420.2,385.3 421.2,385.4 422.2,384.9 423.2,384.5 424.2,384.8 425.2,384.8 426.2,384.6 427.2,384.6 428.2,385.0 429.2,385.7 430.2,385.6 431.2,385.0 432.2,384.9 433.2,385.2 434.2,385.2 435.2,384.9 436.2,385.0 437.2,385.3 438.2,385.7 439.2,386.3 440.2,386.5 441.2,386.2 442.2,385.7 443.2,385.4 444.2,385.8 445.2,386.0 446.2,386.3 447.2,386.1 448.2,385.1 449.2,385.0 450.2,385.3 451.2,385.3 452.2,385.0 453.2,385.0 454.2,385.5 455.2,385.7 456.2,385.2 457.2,384.7 458.2,384.9 459.2,385.3 460.2,384.7 461.2,384.3 462.2,384.8 463.2,385.2 464.2,384.9 465.2,384.7 466.2,384.4 467.2,384.1 468.2,384.0 469.2,384.1 470.2,384.3 471.2,384.2 472.2,383.6 473.2,383.4 474.2,383.7 475.2,384.1 476.2,383.6 477.2,382.9 478.2,383.1 479.2,383.9 480.2,383.6 481.2,382.4 482.2,382.3 483.2,382.7 484.2,381.9 485.2,381.7 486.2,382.5 487.2,382.7 488.2,382.2 489.2,382.2 490.2,382.5 491.2,382.7 492.2,382.5 493.2,382.1 494.2,381.6 495.2,381.5 496.2,381.9 497.2,382.4 498.2,382.1 499.2,381.6 500.2,382.0 501.2,382.2 502.2,381.8 503.2,381.5 504.2,381.2 505.2,381.0 506.2,381.6 507.2,381.8 508.2,381.7 509.2,381.7 510.2,381.4 511.2,381.3 512.2,382.2 513.2,382.5 514.2,382.0 515.2,382.3 516.2,382.9 517.2,383.0 518.2,382.8 519.2,381.8 520.2,381.5 521.2,382.2 522.2,382.2 523.2,382.1 524.2,382.5 525.2,383.3 526.2,383.4 527.2,383.1 528.2,383.4 529.2,383.4 530.2,383.3 531.2,383.3 532.2,383.5 533.2,383.8 534.2,383.8 535.2,383.8 536.2,383.9 537.2,383.8 538.2,383.9 539.2,384.5 540.2,384.6 541.2,384.5 542.2,384.8 543.2,384.6 544.2,384.0 545.2,384.0 546.2,384.4 547.2,384.2 548.2,383.6 549.2,383.5 550.2,383.8 551.2,384.3 552.2,385.1 553.2,385.5 554.2,385.3 555.2,384.8 556.2,384.4 557.2,384.6 558.2,385.4 559.2,385.9 560.2,385.3 561.2,384.6 562.2,384.3 563.2,384.1 564.2,384.0 565.2,384.3 566.2,385.0 567.2,385.4 568.2,385.2 569.2,385.5 570.2,385.6 571.2,385.3 572.2,385.4 573.2,385.1 574.2,384.5 575.2,384.5 576.2,384.5 577.2,384.4 578.2,384.4 579.2,384.6 580.2,384.5 581.2,384.2 582.2,384.0 583.2,383.9 584.2,384.4 585.2,384.9 586.2,384.8 587.2,384.8 588.2,384.7 589.2,384.3 590.2,384.4 591.2,384.9 592.2,385.2 593.2,385.5 594.2,385.8 595.2,385.4 596.2,385.4 597.2,385.6 598.2,385.1 599.2,384.6 600.2,384.8 601.2,385.8 602.2,386.6 603.2,386.8 604.2,386.8 605.2,387.1 606.2,387.2 607.2,387.4 608.2,388.7 609.2,390.0 610.2,391.4 611.2,393.3 612.2,394.0 613.2,394.6 614.2,396.7 615.2,399.1 616.2,401.1 617.2,403.4 618.2,405.6 619.2,406.7 620.2,407.3 621.2,408.4 622.2,408.6 623.2,406.7 624.2,404.5 625.2,403.0 626.2,401.2 627.2,399.5 628.2,397.9 629.2,397.4 630.2,398.4 631.2,399.4 632.2,400.7 633.2,403.6 634.2,405.9 635.2,406.6 636.2,408.5 637.2,410.9 638.2,412.4 639.2,414.3 640.2,417.2 641.2,419.9 642.2,422.1 643.2,423.5 644.2,423.3 645.2,421.2 646.2,418.9 647.2,416.0 648.2,412.3 649.2,408.2 650.2,403.4 651.2,398.3 652.2,393.7 653.2,390.6 654.2,389.4 655.2,388.9 656.2,387.9 657.2,386.8 658.2,386.7 659.2,386.5 660.2,385.4 661.2,384.7 662.2,384.3 663.2,384.3 664.2,385.1 665.2,385.6 666.2,385.2 667.2,384.8 668.2,384.6 669.2,384.4 670.2,384.5 671.2,385.0 672.2,385.4 673.2,385.1 674.2,384.6 675.2,384.5 676.2,385.1 677.2,385.6 678.2,384.9 679.2,384.1 680.2,385.1 681.2,386.1 682.2,386.0 683.2,385.7 684.2,385.0 685.2,384.0 686.2,383.9 687.2,384.5 688.2,385.3 689.2,386.0 690.2,386.1 691.2,386.2 692.2,386.4 693.2,386.1 694.2,386.1 695.2,386.5 696.2,385.9 697.2,385.4 698.2,386.4 699.2,387.0 700.2,387.0 701.2,388.2 702.2,389.2 703.2,389.3 704.2,390.0 705.2,391.1 706.2,392.5 707.2,394.0 708.2,394.5 709.2,394.6 710.2,396.0 711.2,398.4 712.2,400.4 713.2,401.5 714.2,403.4 715.2,406.1 716.2,408.5 717.2,411.1 718.2,414.4 719.2,419.0 720.2,424.2 721.2,428.7 722.2,433.8 723.2,439.6 724.2,445.9 725.2,452.0 726.2,458.0 727.2,464.4 728.2,470.1 729.2,474.7 730.2,479.1 731.2,482.5 732.2,484.1 733.2,483.9 734.2,481.6 735.2,477.8 736.2,473.3 737.2,469.2 738.2,464.0 739.2,456.8 740.2,451.1 741.2,447.9 742.2,445.5 743.2,444.4 744.2,444.2 745.2,443.7 746.2,444.7 747.2,447.2 748.2,450.3 749.2,452.9 750.2,455.0 751.2,456.2 752.2,457.3 753.2,458.2 754.2,458.1 755.2,457.5 756.2,456.8 757.2,456.1 758.2,455.8 759.2,455.3 760.2,454.0 761.2,452.8 762.2,452.5 763.2,452.7 764.2,453.0 765.2,452.9 766.2,452.9 767.2,453.8 768.2,454.6 769.2,455.3 770.2,456.8 771.2,458.8 772.2,461.0 773.2,462.5 774.2,464.2 775.2,467.3 776.2,469.9 777.2,470.6 778.2,470.1 779.2,468.2 780.2,466.1 781.2,465.2 782.2,464.1 783.2,463.7 784.2,464.6 785.2,465.2 786.2,465.6 787.2,466.3 788.2,466.8 789.2,467.3 790.2,467.7 791.2,467.8 792.2,467.6 793.2,466.9 794.2,465.4 795.2,462.9 796.2,459.9 797.2,457.5 798.2,454.6 799.2,450.4 800.2,447.1 801.2,444.5 802.2,441.0 803.2,437.1 804.2,433.3 805.2,429.9 806.2,426.1 807.2,422.1 808.2,418.9 809.2,416.3 810.2,413.7 811.2,410.4 812.2,407.2 813.2,405.2 814.2,404.0 815.2,402.2 816.2,400.0 817.2,397.8 818.2,397.0 819.2,397.6 820.2,397.8 821.2,398.4 822.2,398.6 823.2,397.8 824.2,397.3 825.2,397.2 826.2,397.1 827.2,397.4 828.2,397.7 829.2,398.0 830.2,398.4 831.2,398.4 832.2,397.9 833.2,397.7 834.2,397.2 835.2,396.8 836.2,396.8 837.2,397.1 838.2,397.9 839.2,398.4 840.2,398.3 841.2,397.8 842.2,397.5 843.2,397.0 844.2,396.9 845.2,397.2 846.2,396.8 847.2,396.1 848.2,395.5 849.2,394.7 850.2,394.2 851.2,393.9 852.2,393.3 853.2,393.2 854.2,393.5 855.2,393.6 856.2,393.1 857.2,392.1 858.2,391.1 859.2,390.6 860.2,390.5 861.2,390.8 862.2,391.0 863.2,390.2 864.2,389.4 865.2,389.1 866.2,388.8 867.2,388.3 868.2,388.4 869.2,388.4 870.2,388.0 871.2,387.9 872.2,387.9 873.2,387.4 874.2,387.5 875.2,388.0 876.2,388.3 877.2,388.2 878.2,387.1 879.2,386.6 880.2,387.6 881.2,387.8 882.2,386.8 883.2,386.3 884.2,386.4 885.2,386.2 886.2,386.0 887.2,385.8 888.2,385.8 889.2,385.8 890.2,386.6 891.2,387.3 892.2,387.1 893.2,386.8 894.2,386.3 895.2,385.7 896.2,385.9 897.2,386.6 898.2,387.0 899.2,386.9 900.2,386.1 901.2,386.0 902.2,386.6 903.2,387.3 904.2,387.2 905.2,386.0 906.2,385.0 907.2,385.3 908.2,386.2 909.2,386.1 910.2,385.6 911.2,385.1 912.2,384.3 913.2,384.6 914.2,385.8 915.2,386.1 916.2,385.6 917.2,385.3 918.2,386.0 919.2,386.2 920.2,385.3 921.2,385.1 922.2,385.3 923.2,385.4 924.2,385.3 925.2,385.0 926.2,384.8 927.2,384.8 928.2,384.8 929.2,384.9 930.2,385.1 931.2,385.2 932.2,384.8 933.2,384.9 934.2,385.3 935.2,385.0 936.2,384.9 937.2,385.2 938.2,385.1 939.2,384.9 940.2,384.5 941.2,384.3 942.2,384.9 943.2,385.4 944.2,384.8 945.2,384.0 946.2,384.1 947.2,384.1 948.2,384.2 949.2,384.2 950.2,384.2 951.2,384.7 952.2,384.8 953.2,384.8 954.2,385.1 955.2,385.3 956.2,384.7 957.2,383.8 958.2,383.4 959.2,383.1 960.2,383.6 961.2,384.6 962.2,385.0 963.2,384.8 964.2,384.3 965.2,384.1 966.2,384.4 967.2,385.0 968.2,384.9 969.2,385.0 970.2,385.6 971.2,384.7 972.2,383.9 973.2,384.3 974.2,384.5 975.2,384.2 976.2,384.0 977.2,384.4 978.2,384.5 979.2,384.8 980.2,384.5 981.2,383.3 982.2,382.8 983.2,383.2 984.2,383.7 985.2,383.9 986.2,383.7 987.2,383.5 988.2,384.0 989.2,384.1 990.2,383.3 991.2,383.3 992.2,383.7 993.2,383.6 994.2,383.9 995.2,384.6 996.2,384.8 997.2,384.1 998.2,383.9 999.2,384.5 1000.2,384.1 1001.2,383.3 1002.2,383.1 1003.2,383.7 1004.2,384.4 1005.2,384.1 1006.2,383.1 1007.2,382.7 1008.2,383.0 1009.2,382.9 1010.2,382.8 1011.2,383.2 1012.2,383.3 1013.2,383.8 1014.2,383.7 1015.2,382.8 1016.2,382.5 1017.2,382.6 1018.2,383.1 1019.2,383.4 1020.2,383.3 1021.2,383.7 1022.2,383.3 1023.2,382.6 1024.2,383.1 1025.2,383.3 1026.2,382.8 1027.2,382.6 1028.2,382.9 1029.2,383.5 1030.2,383.4 1031.2,383.2 1032.2,383.2 1033.2,382.7 1034.2,383.1 1035.2,383.8 1036.2,383.8 1037.2,383.7 1038.2,383.3 1039.2,382.8 1040.2,382.8 1041.2,383.0 1042.2,382.7 1043.2,382.4 1044.2,382.2 1045.2,382.2 1046.2,382.8 1047.2,383.4 1048.2,383.0 1049.2,382.6 1050.2,383.0 1051.2,382.9 1052.2,382.4 1053.2,382.9 1054.2,383.5 1055.2,383.6 1056.2,383.6 1057.2,383.8 1058.2,383.6 1059.2,382.7 1060.2,381.8 1061.2,382.2 1062.2,382.8 1063.2,383.0 1064.2,383.3 1065.2,383.4 1066.2,383.5 1067.2,383.6 1068.2,383.1 1069.2,383.0 1070.2,382.7 1071.2,382.6 1072.2,382.9 1073.2,382.9 1074.2,382.9 1075.2,382.6 1076.2,382.5 1077.2,382.5 1078.2,382.5 1079.2,382.4 1080.2,382.4 1081.2,382.6 1082.2,382.3 1083.2,382.4 1084.2,383.3 1085.2,383.7 1086.2,383.5 1087.2,384.1 1088.2,384.6 1089.2,384.3 1090.2,384.5 1091.2,385.9 1092.2,387.5 1093.2,388.9 1094.2,390.0 1095.2,390.8 1096.2,390.9 1097.2,390.9 1098.2,391.9 1099.2,393.2 1100.2,393.0 1101.2,391.3 1102.2,389.4 1103.2,387.7 1104.2,386.6 1105.2,385.6 1106.2,385.4 1107.2,386.3 1108.2,387.4 1109.2,388.4 1110.2,389.4 1111.2,390.3 1112.2,391.0 1113.2,391.1 1114.2,390.6 1115.2,391.5 1116.2,392.4 1117.2,391.9 1118.2,391.7 1119.2,391.8 1120.2,391.5 1121.2,391.1 1122.2,390.0 1123.2,389.1 1124.2,388.8 1125.2,388.8 1126.2,389.0 1127.2,389.0 1128.2,388.5 1129.2,388.5 1130.2,388.9 1131.2,388.2 1132.2,387.5 1133.2,387.3 1134.2,386.7 1135.2,386.2 1136.2,386.3 1137.2,386.4 1138.2,386.2 1139.2,385.6 1140.2,384.7 1141.2,384.5 1142.2,384.9 1143.2,384.4 1144.2,384.1 1145.2,384.3 1146.2,383.8 1147.2,382.7 1148.2,382.4 1149.2,382.6 1150.2,382.1 1151.2,381.7 1152.2,381.7 1153.2,381.6 1154.2,382.5 1155.2,383.3 1156.2,383.0 1157.2,382.7 1158.2,382.9 1159.2,382.5 1160.2,382.0 1161.2,382.1 1162.2,382.4 1163.2,383.1 1164.2,382.9 1165.2,382.1 1166.2,382.5 1167.2,383.4 1168.2,383.5 1169.2,383.0 1170.2,382.7 1171.2,382.9 1172.2,382.7 1173.2,383.2 1174.2,384.2 1175.2,384.5 1176.2,384.1 1177.2,383.6 1178.2,383.1 1179.2,383.2 1180.2,383.7 1181.2,383.5 1182.2,382.9 1183.2,382.7 1184.2,383.2 1185.2,383.5 1186.2,383.0 1187.2,383.3 1188.2,384.0 1189.2,383.8 1190.2,383.1 1191.2,382.7 1192.2,382.9 1193.2,383.5 1194.2,383.9 1195.2,383.9 1196.2,383.9 1197.2,383.4 1198.2,383.3 1199.2,383.7 1200.2,383.4 1201.2,383.0 1202.2,383.4 1203.2,383.3 1204.2,382.8 1205.2,383.0 1206.2,383.3 1207.2,383.5 1208.2,383.6 1209.2,383.3 1210.2,383.2 1211.2,383.6 1212.2,383.8 1213.2,383.9 1214.2,383.9 1215.2,383.7 1216.2,383.7 1217.2,383.4 1218.2,383.3 1219.2,384.1 1220.2,384.7 1221.2,384.3 1222.2,383.8 1223.2,383.9 1224.2,383.5 1225.2,383.2 1226.2,383.1 1227.2,382.7 1228.2,381.6 1229.2,380.3 1230.2,379.7 1231.2,379.5 1232.2,379.5 1233.2,380.1 1234.2,381.5 1235.2,383.4 1236.2,384.5 1237.2,384.7 1238.2,384.5 1239.2,384.3 1240.2,384.2 1241.2,384.6 1242.2,385.0 1243.2,385.1 1244.2,385.2 1245.2,385.4 1246.2,385.4 1247.2,384.7 1248.2,384.1 1249.2,384.6 1250.2,384.7 1251.2,384.6 1252.2,385.1 1253.2,385.3 1254.2,385.2 1255.2,385.0 1256.2,385.1 1257.2,385.6 1258.2,385.8 1259.2,385.2 1260.2,385.1 1261.2,384.9 1262.2,384.1 1263.2,384.6 1264.2,385.4 1265.2,385.1 1266.2,384.9 1267.2,384.9 1268.2,384.3 1269.2,384.1 1270.2,384.7 1271.2,385.2 1272.2,385.1 1273.2,385.4 1274.2,386.2 1275.2,386.3 1276.2,386.0 1277.2,386.2 1278.2,386.1 1279.2,385.2 1280.2,385.1 1281.2,385.6 1282.2,385.2 1283.2,385.3 1284.2,386.2 1285.2,386.1 1286.2,385.5 1287.2,385.4 1288.2,385.8 1289.2,386.7 1290.2,386.7 1291.2,385.7 1292.2,385.1 1293.2,384.7 1294.2,384.9 1295.2,385.7 1296.2,386.5 1297.2,386.2 1298.2,385.4 1299.2,385.3 1300.2,385.5 1301.2,385.8 1302.2,386.0 1303.2,386.5 1304.2,386.9 1305.2,386.3 1306.2,385.2 1307.2,384.8 1308.2,385.5 1309.2,386.2 1310.2,385.9 1311.2,385.6 1312.2,385.6 1313.2,385.1 1314.2,385.3 1315.2,385.9 1316.2,385.9 1317.2,385.8 1318.2,385.9 1319.2,385.7 1320.2,385.5 1321.2,385.8 1322.2,386.3 1323.2,386.0 1324.2,385.5 1325.2,385.8 1326.2,386.7 1327.2,386.8 1328.2,386.1 1329.2,386.0 1330.2,386.3 1331.2,386.6 1332.2,386.9 1333.2,387.0 1334.2,386.6 1335.2,385.9 1336.2,385.9 1337.2,386.3 1338.2,387.0 1339.2,387.7 1340.2,387.2 1341.2,386.1 1342.2,385.8 1343.2,385.3 1344.2,385.3 1345.2,386.3 1346.2,386.4 1347.2,386.2 1348.2,386.5 1349.2,385.9 1350.2,385.6 1351.2,386.3 1352.2,386.4 1353.2,386.2 1354.2,386.2 1355.2,386.3 1356.2,386.2 1357.2,385.7 1358.2,385.1 1359.2,385.4 1360.2,386.1 1361.2,386.2 1362.2,386.6 1363.2,386.9 1364.2,386.5 1365.2,386.8 1366.2,387.4 1367.2,387.5 1368.2,387.6 1369.2,387.6 1370.2,386.9 1371.2,386.2 1372.2,385.6 1373.2,385.7 1374.2,386.4 1375.2,386.6 1376.2,386.5 1377.2,386.5 1378.2,386.5 1379.2,386.7 1380.2,386.6 1381.2,386.3 1382.2,386.3 1383.2,386.8 1384.2,387.0 1385.2,386.2 1386.2,386.3 1387.2,387.1 1388.2,386.8 1389.2,386.7 1390.2,386.8 1391.2,385.9 1392.2,385.6 1393.2,385.9 1394.2,385.2 1395.2,385.1 1396.2,386.3 1397.2,387.0 1398.2,386.7 1399.2,386.3 1400.2,386.1 1401.2,386.3 1402.2,387.0 1403.2,387.2 1404.2,386.4 1405.2,385.8 1406.2,386.6 1407.2,387.4 1408.2,387.4 1409.2,386.9 1410.2,386.4 1411.2,386.1 1412.2,386.3 1413.2,386.3 1414.2,386.3 1415.2,386.3 1416.2,386.3 1417.2,386.5 1418.2,386.9 1419.2,387.4 1420.2,388.0 1421.2,388.7 1422.2,389.5 1423.2,390.3 1424.2,391.0 1425.2,391.7 1426.2,392.3 1427.2,392.9 1428.2,393.4 1429.2,393.9 1430.2,394.4 1431.2,394.9 1432.2,395.3 1433.2,395.8 1434.2,396.3 1435.2,396.8 1436.2,397.2 1437.2,397.8 1438.2,398.3 1439.2,398.9 1440.2,399.4 1441.2,400.1 1442.2,400.9 1443.2,401.9 1444.2,402.8 1445.2,403.8 1446.2,404.8 1447.2,405.6 1448.2,406.3 1449.2,406.9 1450.2,407.2 1451.2,407.0 1452.2,405.0 1453.2,406.0 1454.2,409.1 1455.2,413.9 1456.2,419.8 1457.2,426.4 1458.2,433.2 1459.2,440.4 1460.2,449.5 1461.2,459.8 1462.2,471.0 1463.2,482.5 1464.2,494.6 1465.2,507.9 1466.2,521.6 1467.2,535.2 1468.2,548.0 1469.2,563.7 1470.2,586.5 1471.2,612.5 1472.2,638.4 1473.2,665.1 1474.2,684.9 1475.2,698.2 1476.2,710.3 1477.2,723.7 1478.2,737.0 1479.2,748.8 1480.2,759.3 1481.2,768.6 1482.2,770.8 1483.2,765.7 1484.2,760.1 1485.2,753.6 1486.2,745.8 1487.2,735.3 1488.2,721.4 1489.2,707.8 1490.2,696.2 1491.2,681.8 1492.2,655.9 1493.2,623.8 1494.2,590.9 1495.2,560.0 1496.2,532.7 1497.2,507.5 1498.2,486.9 1499.2,471.2 1500.2,457.2 1501.2,445.5 1502.2,436.9 1503.2,431.4 1504.2,426.6 1505.2,422.2 1506.2,418.3 1507.2,414.7 1508.2,411.7 1509.2,409.2 1510.2,407.2 1511.2,405.8 1512.2,405.1 1513.2,404.8 1514.2,404.5 1515.2,404.4 1516.2,404.2 1517.2,404.1 1518.2,403.9 1519.2,403.8 1520.2,403.7 1521.2,403.5 1522.2,403.4 1523.2,403.3 1524.2,403.2 1525.2,403.0 1526.2,402.9 1527.2,402.8 1528.2,402.7 1529.2,402.6 1530.2,402.5 1531.2,402.3 1532.2,402.2 1533.2,402.0 1534.2,401.8 1535.2,401.6 1536.2,401.3 1537.2,401.0 1538.2,400.6 1539.2,400.3 1540.2,400.0 1541.2,399.8 1542.2,399.6 1543.2,399.5 1544.2,399.5 1545.2,399.6 1546.2,399.7 1547.2,399.8 1548.2,400.0 1549.2,400.2 1550.2,400.5 1551.2,400.9 1552.2,401.2 1553.2,401.7 1554.2,402.1 1555.2,402.6 1556.2,403.1 1557.2,403.9 1558.2,405.0 1559.2,406.5 1560.2,408.3 1561.2,410.6 1562.2,414.2 1563.2,420.1 1564.2,427.4 1565.2,435.2 1566.2,442.8 1567.2,450.8 1568.2,459.4 1569.2,468.7 1570.2,481.2 1571.2,495.6 1572.2,505.7 1573.2,504.8 1574.2,488.6 1575.2,467.2 1576.2,440.5 1577.2,420.7 1578.2,414.5 1579.2,409.7 1580.2,406.3 1581.2,403.9 1582.2,402.3 1583.2,401.1 1584.2,400.0 1585.2,399.1 1586.2,398.4 1587.2,397.9 1588.2,397.7 1589.2,397.9 1590.2,398.6 1591.2,399.8 1592.2,401.1 1593.2,402.4 1594.2,404.3 1595.2,406.2 1596.2,407.3 1597.2,407.3 1598.2,407.3 1599.2,407.3 1600.2,407.3 1601.2,407.3 1602.2,407.3 1603.2,407.3 1604.2,407.3 1605.2,407.3 1606.2,408.8 1607.2,412.5 1608.2,417.7 1609.2,423.3 1610.2,430.0 1611.2,439.9 1612.2,448.5 1613.2,451.0 1614.2,446.1 1615.2,436.8 1616.2,426.6 1617.2,418.8 1618.2,414.6 1619.2,410.8 1620.2,407.8 1621.2,405.9 1622.2,405.7 1623.2,406.8 1624.2,409.1 1625.2,412.2 1626.2,424.6 1627.2,446.2 1628.2,457.2 1629.2,460.5 1630.2,463.0 1631.2,464.9 1632.2,466.2 1633.2,467.0 1634.2,467.6 1635.2,467.9 1636.2,468.2 1637.2,468.5 1638.2,468.8 1639.2,469.1 1640.2,469.6 1641.2,470.5 1642.2,472.0 1643.2,473.6 1644.2,474.9 1645.2,475.7 1646.2,474.7 1647.2,470.6 1648.2,465.4 1649.2,460.9 1650.2,457.2 1651.2,453.5 1652.2,449.9 1653.2,446.3 1654.2,442.8 1655.2,438.9 1656.2,434.6 1657.2,430.1 1658.2,425.6 1659.2,421.4 1660.2,417.7 1661.2,414.9 1662.2,413.1 1663.2,412.6 1664.2,412.9 1665.2,413.6 1666.2,414.6 1667.2,415.8 1668.2,417.1 1669.2,418.5 1670.2,419.9 1671.2,421.3 1672.2,422.9 1673.2,424.8 1674.2,427.1 1675.2,429.8 1676.2,433.7 1677.2,439.5 1678.2,446.6 1679.2,454.4 1680.2,462.2 1681.2,470.4 1682.2,480.6 1683.2,489.6 1684.2,493.6 1685.2,494.7 1686.2,495.3 1687.2,496.2 1688.2,499.0 1689.2,506.3 1690.2,515.3 1691.2,522.6 1692.2,524.7 1693.2,520.6 1694.2,512.5 1695.2,502.4 1696.2,492.4 1697.2,481.5 1698.2,468.4 1699.2,457.1 1700.2,451.4 1701.2,448.6 1702.2,446.6 1703.2,445.6 1704.2,445.8 1705.2,447.2 1706.2,449.1 1707.2,451.3 1708.2,453.1 1709.2,454.2 1710.2,454.1 1711.2,453.2 1712.2,451.6 1713.2,449.7 1714.2,447.8 1715.2,446.0 1716.2,444.6 1717.2,443.8 1718.2,444.1 1719.2,445.6 1720.2,448.0 1721.2,451.3 1722.2,455.4 1723.2,467.3 1724.2,483.0 1725.2,492.6 1726.2,492.5 1727.2,491.1 1728.2,489.8 1729.2,489.5 1730.2,492.6 1731.2,498.7 1732.2,508.7 1733.2,529.5 1734.2,555.3 1735.2,578.7 1736.2,595.4 1737.2,610.0 1738.2,623.3 1739.2,635.8 1740.2,648.1 1741.2,660.6 1742.2,673.7 1743.2,687.0 1744.2,700.4 1745.2,713.7 1746.2,726.8 1747.2,739.8 1748.2,752.6 1749.2,765.3 1750.2,777.9 1751.2,790.3 1752.2,802.3 1753.2,813.6 1754.2,825.9 1755.2,836.0 1756.2,829.6 1757.2,804.9 1758.2,778.6 1759.2,747.0 1760.2,716.0 1761.2,689.6 1762.2,664.8 1763.2,642.2 1764.2,622.6 1765.2,605.3 1766.2,589.5 1767.2,575.4 1768.2,563.2 1769.2,551.2 1770.2,539.4 1771.2,530.1 1772.2,525.4 1773.2,533.3 1774.2,556.1 1775.2,582.2 1776.2,615.5 1777.2,647.4 1778.2,674.3 1779.2,699.0 1780.2,721.7 1781.2,742.6 1782.2,758.6 1783.2,770.7 1784.2,767.5 1785.2,750.5 1786.2,725.4 1787.2,673.7 1788.2,623.9 1789.2,584.2 1790.2,560.4 1791.2,543.6 1792.2,533.2 1793.2,526.0 1794.2,520.0 1795.2,513.5 1796.2,504.7 1797.2,492.6 1798.2,479.6 1799.2,468.3 1800.2,461.0 1801.2,459.6 1802.2,459.8 1803.2,460.1 1804.2,460.6 1805.2,461.3 1806.2,462.2 1807.2,463.3 1808.2,467.8 1809.2,476.1 1810.2,486.9 1811.2,498.8 1812.2,513.6 1813.2,533.5 1814.2,555.9 1815.2,578.0 1816.2,598.7 1817.2,620.3 1818.2,641.3 1819.2,660.3 1820.2,675.9 1821.2,690.1 1822.2,703.0 1823.2,713.9 1824.2,722.5 1825.2,729.5 1826.2,735.4 1827.2,740.5 1828.2,745.0 1829.2,749.4 1830.2,753.8 1831.2,757.7 1832.2,760.4 1833.2,761.6 1834.2,761.2 1835.2,759.8 1836.2,757.9 1837.2,755.7 1838.2,753.5 1839.2,751.3 1840.2,748.4 1841.2,745.3 1842.2,742.6 1843.2,740.9 1844.2,740.6 1845.2,740.6 1846.2,740.6 1847.2,740.6 1848.2,740.6 1849.2,740.6 1850.2,741.7 1851.2,743.9 1852.2,746.4 1853.2,748.4 1854.2,749.4 1855.2,749.4 1856.2,749.4 1857.2,749.4 1858.2,749.4 1859.2,749.4 1860.2,749.1 1861.2,747.4 1862.2,744.7 1863.2,741.2 1864.2,737.5 1865.2,733.8 1866.2,729.6 1867.2,724.5 1868.2,718.5 1869.2,710.2 1870.2,699.4 1871.2,688.4 1872.2,679.3 1873.2,671.1 1874.2,663.6 1875.2,657.0 1876.2,651.3 1877.2,646.3 1878.2,641.8 1879.2,637.7 1880.2,633.9 1881.2,630.4 1882.2,627.4 1883.2,624.9 1884.2,622.7 1885.2,620.6 1886.2,618.9 1887.2,618.0 1888.2,618.9 1889.2,623.6 1890.2,629.6 1891.2,633.9 1892.2,636.7 1893.2,639.4 1894.2,641.8 1895.2,643.4 1896.2,644.2 1897.2,643.6 1898.2,641.6 1899.2,638.6 1900.2,635.4 1901.2,632.3 1902.2,628.4 1903.2,625.3 1904.2,623.9 1905.2,623.1 1906.2,622.6 1907.2,622.1 1908.2,621.4 1909.2,620.1 1910.2,615.6 1911.2,602.8 1912.2,586.3 1913.2,559.3 1914.2,543.6 1915.2,537.9 1916.2,533.6 1917.2,530.5 1918.2,528.6 1919.2,528.0 1920.2,528.0 1921.2,528.2 1922.2,528.4 1923.2,528.7 1924.2,529.1 1925.2,529.6 1926.2,532.4 1927.2,539.4 1928.2,548.8 1929.2,558.6 1930.2,567.3 1931.2,576.7 1932.2,586.3 1933.2,595.0 1934.2,603.7 1935.2,613.0 1936.2,621.7 1937.2,628.3 1938.2,631.8 1939.2,630.1 1940.2,622.0 1941.2,609.7 1942.2,595.7 1943.2,582.3 1944.2,566.9 1945.2,546.3 1946.2,519.0 1947.2,505.0 1948.2,505.0 1949.2,505.0 1950.2,505.3 1951.2,509.6 1952.2,517.5 1953.2,527.0 1954.2,535.9 1955.2,545.0 1956.2,555.9 1957.2,566.8 1958.2,575.5 1959.2,580.2 1960.2,579.3 1961.2,574.4 1962.2,567.9 1963.2,561.9 1964.2,555.9 1965.2,549.5 1966.2,543.1 1967.2,537.1 1968.2,532.0 1969.2,527.8 1970.2,524.3 1971.2,521.3 1972.2,518.3 1973.2,515.2 1974.2,511.7 1975.2,507.5 1976.2,502.0 1977.2,495.1 1978.2,487.6 1979.2,480.2 1980.2,473.8 1981.2,467.7 1982.2,462.1 1983.2,457.8 1984.2,454.4 1985.2,451.2 1986.2,448.4 1987.2,446.4 1988.2,445.5 1989.2,445.9 1990.2,447.4 1991.2,449.9 1992.2,453.2 1993.2,457.0 1994.2,462.8 1995.2,472.6 1996.2,484.5 1997.2,497.9 1998.2,515.2 1999.2,531.2 2000.2,541.1 2001.2,548.6 2002.2,550.9 2003.2,547.9 2004.2,542.3 2005.2,536.7 2006.2,530.6 2007.2,523.6 2008.2,517.6 2009.2,514.6 2010.2,513.8 2011.2,513.2 2012.2,513.0 2013.2,513.5 2014.2,514.9 2015.2,517.0 2016.2,519.2 2017.2,521.2 2018.2,522.8 2019.2,524.4 2020.2,526.5 2021.2,529.6 2022.2,537.5 2023.2,548.8 2024.2,560.0 2025.2,572.3 2026.2,573.6 2027.2,556.7 2028.2,534.3 2029.2,506.0 2030.2,484.6 2031.2,476.9 2032.2,471.7 2033.2,468.0 2034.2,465.9 2035.2,465.1 2036.2,464.6 2037.2,464.3 2038.2,464.0 2039.2,463.6 2040.2,463.0 2041.2,461.5 2042.2,455.3 2043.2,448.1 2044.2,444.7 2045.2,443.1 2046.2,441.8 2047.2,440.9 2048.2,440.4 2049.2,440.6 2050.2,442.1 2051.2,445.3 2052.2,463.1 2053.2,532.0 2054.2,600.8 2055.2,663.9 2056.2,705.8 2057.2,720.7 2058.2,725.6 2059.2,713.8 2060.2,690.3 2061.2,665.9 2062.2,640.1 2063.2,610.4 2064.2,574.0 2065.2,538.7 2066.2,509.8 2067.2,497.9 2068.2,490.6 2069.2,487.8 2070.2,488.5 2071.2,490.2 2072.2,492.3 2073.2,494.3 2074.2,495.5 2075.2,495.4 2076.2,491.6 2077.2,485.6 2078.2,478.1 2079.2,464.2 2080.2,449.0 2081.2,441.0 2082.2,437.9 2083.2,436.0 2084.2,434.5 2085.2,432.8 2086.2,431.1 2087.2,429.7 2088.2,429.0 2089.2,427.9 2090.2,426.6 2091.2,425.3 2092.2,424.1 2093.2,423.1 2094.2,422.1 2095.2,421.1 2096.2,420.6 2097.2,420.8 2098.2,421.0 2099.2,420.9 2100.2,420.6 2101.2,420.6 2102.2,420.5 2103.2,420.4 2104.2,420.2 2105.2,419.6 2106.2,419.4 2107.2,419.3 2108.2,419.2 2109.2,419.8 2110.2,421.0 2111.2,421.7 2112.2,422.2 2113.2,422.9 2114.2,423.3 2115.2,423.8 2116.2,424.8 2117.2,425.9 2118.2,426.7 2119.2,427.3 2120.2,427.8 2121.2,427.9 2122.2,427.5 2123.2,426.8 2124.2,426.4 2125.2,426.3 2126.2,425.9 2127.2,425.4 2128.2,425.3 2129.2,425.0 2130.2,424.8 2131.2,425.1 2132.2,425.5 2133.2,426.2 2134.2,427.1 2135.2,427.4 2136.2,427.7 2137.2,428.9 2138.2,431.0 2139.2,433.3 2140.2,436.0 2141.2,439.5 2142.2,445.0 2143.2,451.5 2144.2,458.3 2145.2,468.3 2146.2,479.8 2147.2,489.0 2148.2,495.4 2149.2,501.0 2150.2,505.5 2151.2,508.4 2152.2,509.4 2153.2,505.7 2154.2,497.9 2155.2,489.2 2156.2,479.2 2157.2,467.6 2158.2,458.6 2159.2,452.4 2160.2,446.4 2161.2,442.4 2162.2,441.2 2163.2,440.0 2164.2,438.8 2165.2,438.4 2166.2,438.5 2167.2,438.8 2168.2,439.0 2169.2,439.5 2170.2,440.8 2171.2,442.0 2172.2,442.5 2173.2,443.1 2174.2,444.1 2175.2,444.6 2176.2,444.7 2177.2,445.1 2178.2,445.5 2179.2,445.9 2180.2,446.8 2181.2,447.4 2182.2,446.8 2183.2,445.9 2184.2,445.2 2185.2,443.9 2186.2,442.5 2187.2,441.6 2188.2,441.2 2189.2,441.4 2190.2,442.0 2191.2,442.9 2192.2,443.8 2193.2,444.4 2194.2,445.1 2195.2,446.0 2196.2,446.8 2197.2,447.3 2198.2,447.7 2199.2,448.1 2200.2,448.5 2201.2,448.5 2202.2,448.4 2203.2,448.2 2204.2,448.3 2205.2,448.7 2206.2,449.2 2207.2,449.8 2208.2,450.5 2209.2,451.7 2210.2,453.1 2211.2,454.9 2212.2,456.7 2213.2,457.4 2214.2,457.3 2215.2,457.5 2216.2,457.5 2217.2,456.6 2218.2,455.3 2219.2,453.8 2219.9,452.6"/>
<polyline fill="none" stroke="#ff0000" stroke-width="4.0" stroke-linejoin="round" stroke-linecap="round" points="110.2,668.8 111.2,668.4 112.2,667.8 113.2,667.7 114.2,669.0 115.2,669.2 116.2,668.6 117.2,668.5 118.2,668.3 119.2,668.1 120.2,668.2 121.2,667.9 122.2,667.4 123.2,667.4 124.2,667.6 125.2,667.7 126.2,667.6 127.2,667.3 128.2,667.1 129.2,667.1 130.2,667.4 131.2,667.5 132.2,667.4 133.2,667.0 134.2,666.8 135.2,667.5 136.2,667.5 137.2,666.1 138.2,665.2 139.2,665.8 140.2,666.6 141.2,667.0 142.2,667.1 143.2,667.0 144.2,666.7 145.2,666.4 146.2,666.4 147.2,666.3 148.2,665.7 149.2,665.7 150.2,666.4 151.2,666.7 152.2,665.8 153.2,665.1 154.2,665.6 155.2,666.1 156.2,666.2 157.2,665.8 158.2,665.4 159.2,665.9 160.2,666.0 161.2,665.2 162.2,665.5 163.2,666.1 164.2,666.0 165.2,666.4 166.2,666.7 167.2,665.9 168.2,665.0 169.2,665.0 170.2,665.3 171.2,665.2 172.2,665.0 173.2,665.2 174.2,665.1 175.2,664.4 176.2,663.5 177.2,663.8 178.2,665.0 179.2,665.6 180.2,665.6 181.2,665.1 182.2,664.6 183.2,664.9 184.2,664.6 185.2,664.0 186.2,664.5 187.2,665.4 188.2,665.4 189.2,664.9 190.2,664.5 191.2,664.5 192.2,664.9 193.2,664.6 194.2,664.2 195.2,664.2 196.2,664.2 197.2,664.7 198.2,664.9 199.2,664.7 200.2,664.8 201.2,664.5 202.2,664.2 203.2,664.1 204.2,664.2 205.2,664.3 206.2,664.1 207.2,663.8 208.2,663.8 209.2,663.5 210.2,663.4 211.2,664.0 212.2,664.7 213.2,665.0 214.2,665.4 215.2,665.7 216.2,664.9 217.2,664.6 218.2,664.8 219.2,664.5 220.2,664.3 221.2,664.2 222.2,663.8 223.2,663.7 224.2,664.2 225.2,664.2 226.2,664.2 227.2,665.0 228.2,665.0 229.2,664.3 230.2,663.9 231.2,664.0 232.2,664.3 233.2,664.7 234.2,664.6 235.2,664.0 236.2,663.7 237.2,663.6 238.2,663.4 239.2,663.6 240.2,664.2 241.2,664.8 242.2,664.8 243.2,664.3 244.2,664.2 245.2,664.6 246.2,665.0 247.2,664.8 248.2,664.2 249.2,663.7 250.2,663.7 251.2,664.0 252.2,664.2 253.2,663.9 254.2,663.7 255.2,663.9 256.2,664.3 257.2,664.7 258.2,664.7 259.2,664.3 260.2,663.9 261.2,663.9 262.2,663.8 263.2,663.8 264.2,664.0 265.2,664.2 266.2,664.5 267.2,664.8 268.2,664.7 269.2,664.1 270.2,663.6 271.2,663.7 272.2,663.7 273.2,663.7 274.2,664.4 275.2,664.6 276.2,664.7 277.2,665.2 278.2,665.3 279.2,664.9 280.2,664.6 281.2,665.0 282.2,665.1 283.2,665.0 284.2,665.6 285.2,665.3 286.2,664.6 287.2,664.8 288.2,665.2 289.2,666.0 290.2,666.1 291.2,665.3 292.2,665.3 293.2,665.8 294.2,666.4 295.2,667.0 296.2,666.9 297.2,666.6 298.2,666.2 299.2,665.9 300.2,666.6 301.2,667.2 302.2,666.9 303.2,666.8 304.2,667.6 305.2,668.3 306.2,667.6 307.2,667.3 308.2,667.5 309.2,667.2 310.2,667.4 311.2,667.9 312.2,668.1 313.2,668.2 314.2,668.6 315.2,668.3 316.2,667.2 317.2,667.1 318.2,668.3 319.2,669.2 320.2,669.1 321.2,668.9 322.2,669.0 323.2,669.4 324.2,669.5 325.2,669.2 326.2,669.2 327.2,670.0 328.2,670.1 329.2,669.8 330.2,670.6 331.2,670.5 332.2,669.3 333.2,669.1 334.2,670.0 335.2,670.3 336.2,669.6 337.2,669.5 338.2,670.3 339.2,670.3 340.2,670.8 341.2,672.2 342.2,672.5 343.2,671.5 344.2,671.0 345.2,670.6 346.2,670.2 347.2,670.5 348.2,670.6 349.2,670.2 350.2,670.5 351.2,671.4 352.2,671.8 353.2,672.0 354.2,672.0 355.2,671.4 356.2,670.8 357.2,670.9 358.2,671.8 359.2,672.5 360.2,672.6 361.2,672.4 362.2,672.0 363.2,672.0 364.2,672.0 365.2,672.5 366.2,673.6 367.2,673.6 368.2,672.7 369.2,672.6 370.2,672.7 371.2,672.7 372.2,672.9 373.2,672.9 374.2,672.8 375.2,672.9 376.2,672.9 377.2,672.6 378.2,672.5 379.2,672.9 380.2,673.3 381.2,673.7 382.2,674.3 383.2,674.9 384.2,674.7 385.2,674.4 386.2,674.3 387.2,674.4 388.2,674.9 389.2,674.6 390.2,674.0 391.2,674.6 392.2,674.3 393.2,673.2 394.2,673.3 395.2,673.6 396.2,673.2 397.2,673.3 398.2,673.8 399.2,674.5 400.2,675.2 401.2,675.5 402.2,675.0 403.2,674.8 404.2,674.7 405.2,674.2 406.2,673.4 407.2,673.0 408.2,673.7 409.2,674.8 410.2,675.3 411.2,675.0 412.2,674.4 413.2,674.2 414.2,674.9 415.2,674.9 416.2,674.1 417.2,673.7 418.2,673.9 419.2,674.5 420.2,674.4 421.2,674.0 422.2,674.1 423.2,674.0 424.2,673.4 425.2,672.8 426.2,672.5 427.2,672.7 428.2,673.9 429.2,674.3 430.2,673.3 431.2,673.3 432.2,673.4 433.2,673.1 434.2,673.0 435.2,673.1 436.2,673.4 437.2,673.2 438.2,673.2 439.2,673.3 440.2,672.6 441.2,672.0 442.2,672.5 443.2,673.1 444.2,673.0 445.2,672.6 446.2,672.3 447.2,672.6 448.2,673.0 449.2,673.1 450.2,673.3 451.2,672.5 452.2,671.5 453.2,671.6 454.2,672.4 455.2,672.6 456.2,672.7 457.2,672.9 458.2,673.1 459.2,672.8 460.2,672.1 461.2,672.1 462.2,672.0 463.2,671.7 464.2,672.3 465.2,672.7 466.2,672.2 467.2,671.7 468.2,671.3 469.2,670.9 470.2,670.9 471.2,671.0 472.2,671.0 473.2,671.0 474.2,671.4 475.2,671.3 476.2,670.9 477.2,670.6 478.2,669.7 479.2,669.4 480.2,670.2 481.2,670.8 482.2,670.5 483.2,670.0 484.2,670.2 485.2,670.8 486.2,671.0 487.2,670.8 488.2,670.4 489.2,670.0 490.2,669.9 491.2,670.1 492.2,670.2 493.2,669.7 494.2,669.6 495.2,670.5 496.2,671.1 497.2,670.6 498.2,670.1 499.2,670.1 500.2,670.4 501.2,670.7 502.2,670.8 503.2,670.1 504.2,669.3 505.2,669.0 506.2,668.8 507.2,669.2 508.2,670.1 509.2,670.0 510.2,669.6 511.2,670.1 512.2,669.8 513.2,669.2 514.2,669.3 515.2,669.2 516.2,668.5 517.2,668.3 518.2,668.9 519.2,668.8 520.2,668.2 521.2,669.0 522.2,669.4 523.2,669.0 524.2,668.9 525.2,668.7 526.2,668.4 527.2,668.9 528.2,669.1 529.2,668.6 530.2,668.7 531.2,668.8 532.2,668.4 533.2,668.1 534.2,667.8 535.2,668.0 536.2,668.5 537.2,668.5 538.2,668.9 539.2,669.6 540.2,669.0 541.2,668.4 542.2,668.3 543.2,668.5 544.2,668.8 545.2,668.7 546.2,669.1 547.2,668.9 548.2,668.3 549.2,668.4 550.2,668.8 551.2,669.2 552.2,668.4 553.2,667.2 554.2,666.8 555.2,667.0 556.2,667.4 557.2,667.3 558.2,667.2 559.2,667.4 560.2,668.1 561.2,668.3 562.2,667.5 563.2,667.2 564.2,667.1 565.2,666.8 566.2,666.9 567.2,667.5 568.2,668.1 569.2,668.0 570.2,667.9 571.2,668.5 572.2,669.4 573.2,670.7 574.2,672.0 575.2,673.1 576.2,673.8 577.2,673.6 578.2,672.5 579.2,671.9 580.2,671.9 581.2,671.8 582.2,671.4 583.2,670.5 584.2,670.0 585.2,670.0 586.2,670.2 587.2,670.2 588.2,669.9 589.2,669.9 590.2,670.3 591.2,670.5 592.2,670.9 593.2,671.3 594.2,671.3 595.2,671.0 596.2,670.5 597.2,670.2 598.2,670.4 599.2,671.0 600.2,671.5 601.2,671.3 602.2,671.2 603.2,671.8 604.2,671.9 605.2,672.1 606.2,672.9 607.2,673.2 608.2,672.8 609.2,673.6 610.2,674.9 611.2,675.4 612.2,675.7 613.2,676.7 614.2,677.8 615.2,678.1 616.2,678.7 617.2,679.0 618.2,679.0 619.2,679.1 620.2,679.0 621.2,678.5 622.2,678.6 623.2,678.9 624.2,678.4 625.2,677.6 626.2,677.6 627.2,678.1 628.2,677.8 629.2,676.7 630.2,675.9 631.2,675.6 632.2,676.3 633.2,676.7 634.2,677.1 635.2,678.7 636.2,679.7 637.2,680.1 638.2,681.0 639.2,682.3 640.2,683.4 641.2,683.8 642.2,684.2 643.2,685.0 644.2,684.9 645.2,684.0 646.2,682.4 647.2,680.1 648.2,678.4 649.2,677.0 650.2,675.5 651.2,674.0 652.2,673.3 653.2,673.1 654.2,672.8 655.2,672.2 656.2,672.0 657.2,672.2 658.2,672.2 659.2,672.1 660.2,672.4 661.2,672.9 662.2,673.3 663.2,672.4 664.2,671.6 665.2,671.7 666.2,671.9 667.2,671.8 668.2,671.5 669.2,671.3 670.2,671.3 671.2,671.0 672.2,670.6 673.2,671.0 674.2,671.8 675.2,672.2 676.2,671.8 677.2,671.6 678.2,672.0 679.2,672.5 680.2,672.7 681.2,672.4 682.2,672.2 683.2,672.8 684.2,672.8 685.2,672.1 686.2,671.6 687.2,671.3 688.2,671.4 689.2,671.7 690.2,671.9 691.2,672.1 692.2,672.2 693.2,672.6 694.2,672.9 695.2,672.8 696.2,672.4 697.2,672.6 698.2,673.9 699.2,674.4 700.2,674.1 701.2,674.0 702.2,673.7 703.2,674.0 704.2,675.4 705.2,676.6 706.2,676.9 707.2,678.2 708.2,680.1 709.2,681.2 710.2,683.3 711.2,685.5 712.2,687.1 713.2,690.0 714.2,692.9 715.2,694.8 716.2,697.4 717.2,700.9 718.2,704.3 719.2,709.0 720.2,715.1 721.2,720.4 722.2,725.1 723.2,731.1 724.2,738.1 725.2,744.2 726.2,749.8 727.2,755.4 728.2,761.0 729.2,766.5 730.2,770.7 731.2,773.7 732.2,774.9 733.2,771.7 734.2,765.8 735.2,758.4 736.2,750.5 737.2,745.0 738.2,740.4 739.2,735.8 740.2,731.9 741.2,730.9 742.2,731.5 743.2,731.0 744.2,730.3 745.2,730.4 746.2,732.5 747.2,736.1 748.2,740.0 749.2,743.6 750.2,747.1 751.2,750.9 752.2,754.8 753.2,757.6 754.2,758.0 755.2,757.6 756.2,758.0 757.2,758.1 758.2,757.7 759.2,757.3 760.2,757.1 761.2,757.0 762.2,756.7 763.2,756.1 764.2,755.9 765.2,756.0 766.2,756.4 767.2,757.9 768.2,760.0 769.2,761.7 770.2,763.1 771.2,764.8 772.2,766.4 773.2,766.5 774.2,765.8 775.2,766.3 776.2,767.7 777.2,768.1 778.2,767.8 779.2,767.5 780.2,767.2 781.2,767.7 782.2,768.2 783.2,768.1 784.2,769.4 785.2,771.7 786.2,773.1 787.2,774.0 788.2,775.7 789.2,777.2 790.2,777.4 791.2,777.5 792.2,778.0 793.2,777.8 794.2,776.5 795.2,773.7 796.2,771.0 797.2,768.8 798.2,765.1 799.2,760.9 800.2,756.9 801.2,752.2 802.2,747.4 803.2,742.6 804.2,737.8 805.2,733.1 806.2,729.1 807.2,725.0 808.2,720.9 809.2,716.7 810.2,713.1 811.2,710.3 812.2,706.9 813.2,702.6 814.2,699.4 815.2,696.2 816.2,693.2 817.2,691.6 818.2,690.2 819.2,688.9 820.2,688.4 821.2,688.4 822.2,688.0 823.2,687.1 824.2,686.5 825.2,686.0 826.2,685.6 827.2,685.4 828.2,685.4 829.2,685.5 830.2,686.0 831.2,686.4 832.2,686.6 833.2,687.3 834.2,687.2 835.2,685.9 836.2,685.8 837.2,686.1 838.2,685.9 839.2,685.8 840.2,686.2 841.2,686.4 842.2,686.1 843.2,686.0 844.2,685.2 845.2,684.7 846.2,685.0 847.2,684.5 848.2,683.6 849.2,683.3 850.2,682.3 851.2,681.6 852.2,681.6 853.2,681.2 854.2,681.0 855.2,681.5 856.2,681.7 857.2,681.4 858.2,680.4 859.2,679.6 860.2,679.6 861.2,680.2 862.2,680.3 863.2,679.4 864.2,678.7 865.2,678.6 866.2,678.2 867.2,677.6 868.2,677.7 869.2,677.9 870.2,677.9 871.2,678.1 872.2,678.0 873.2,677.0 874.2,675.5 875.2,675.4 876.2,676.2 877.2,676.9 878.2,677.3 879.2,676.6 880.2,676.2 881.2,676.6 882.2,676.5 883.2,676.0 884.2,675.5 885.2,674.9 886.2,675.0 887.2,675.3 888.2,675.1 889.2,675.4 890.2,675.7 891.2,675.6 892.2,675.6 893.2,674.8 894.2,673.6 895.2,673.6 896.2,674.3 897.2,674.5 898.2,674.0 899.2,673.7 900.2,674.3 901.2,674.4 902.2,673.5 903.2,673.3 904.2,673.5 905.2,673.2 906.2,673.5 907.2,673.4 908.2,672.9 909.2,673.0 910.2,673.2 911.2,673.5 912.2,674.1 913.2,674.2 914.2,673.8 915.2,673.3 916.2,673.1 917.2,673.3 918.2,673.2 919.2,672.7 920.2,672.8 921.2,672.9 922.2,673.0 923.2,673.3 924.2,673.4 925.2,673.0 926.2,672.7 927.2,672.7 928.2,672.7 929.2,672.5 930.2,672.8 931.2,672.9 932.2,672.7 933.2,672.2 934.2,671.7 935.2,671.5 936.2,671.5 937.2,671.9 938.2,672.1 939.2,673.1 940.2,673.6 941.2,672.8 942.2,672.5 943.2,672.2 944.2,671.5 945.2,671.4 946.2,672.1 947.2,672.5 948.2,671.8 949.2,670.8 950.2,670.7 951.2,671.5 952.2,672.1 953.2,671.9 954.2,671.9 955.2,671.9 956.2,671.5 957.2,671.2 958.2,670.8 959.2,670.5 960.2,671.1 961.2,671.7 962.2,671.4 963.2,670.6 964.2,670.6 965.2,671.3 966.2,671.7 967.2,671.5 968.2,670.9 969.2,670.7 970.2,670.7 971.2,670.7 972.2,670.8 973.2,671.2 974.2,671.6 975.2,670.9 976.2,670.3 977.2,670.9 978.2,670.9 979.2,670.1 980.2,670.1 981.2,670.6 982.2,670.8 983.2,670.2 984.2,669.9 985.2,670.4 986.2,671.3 987.2,671.5 988.2,671.2 989.2,671.8 990.2,672.0 991.2,671.5 992.2,671.4 993.2,671.2 994.2,670.9 995.2,670.5 996.2,670.2 997.2,669.8 998.2,669.6 999.2,670.0 1000.2,670.4 1001.2,671.0 1002.2,671.3 1003.2,670.8 1004.2,670.6 1005.2,670.3 1006.2,669.9 1007.2,670.3 1008.2,670.7 1009.2,670.3 1010.2,669.6 1011.2,669.4 1012.2,670.1 1013.2,671.0 1014.2,671.5 1015.2,671.7 1016.2,671.6 1017.2,671.4 1018.2,671.2 1019.2,670.9 1020.2,671.0 1021.2,671.8 1022.2,672.1 1023.2,671.0 1024.2,670.4 1025.2,670.8 1026.2,670.5 1027.2,670.3 1028.2,670.2 1029.2,670.4 1030.2,671.1 1031.2,671.0 1032.2,670.5 1033.2,670.4 1034.2,670.6 1035.2,670.7 1036.2,670.4 1037.2,670.0 1038.2,670.0 1039.2,670.3 1040.2,670.4 1041.2,670.2 1042.2,670.5 1043.2,671.3 1044.2,671.9 1045.2,670.8 1046.2,669.3 1047.2,669.6 1048.2,670.4 1049.2,671.0 1050.2,671.5 1051.2,670.8 1052.2,669.8 1053.2,670.2 1054.2,670.8 1055.2,671.1 1056.2,671.1 1057.2,670.7 1058.2,670.5 1059.2,670.1 1060.2,670.3 1061.2,671.3 1062.2,671.6 1063.2,670.4 1064.2,669.8 1065.2,670.4 1066.2,670.8 1067.2,671.0 1068.2,670.4 1069.2,670.3 1070.2,671.0 1071.2,671.1 1072.2,670.7 1073.2,670.6 1074.2,670.9 1075.2,670.9 1076.2,670.6 1077.2,670.0 1078.2,669.6 1079.2,670.2 1080.2,671.0 1081.2,671.4 1082.2,671.3 1083.2,671.1 1084.2,671.8 1085.2,672.0 1086.2,671.2 1087.2,670.9 1088.2,670.9 1089.2,670.6 1090.2,670.7 1091.2,671.0 1092.2,671.1 1093.2,671.8 1094.2,673.3 1095.2,674.8 1096.2,676.6 1097.2,677.6 1098.2,677.5 1099.2,677.3 1100.2,676.6 1101.2,675.7 1102.2,675.3 1103.2,674.6 1104.2,673.1 1105.2,671.5 1106.2,671.4 1107.2,671.6 1108.2,671.0 1109.2,670.8 1110.2,670.6 1111.2,670.0 1112.2,670.7 1113.2,671.6 1114.2,671.2 1115.2,670.9 1116.2,671.2 1117.2,671.8 1118.2,671.7 1119.2,670.8 1120.2,670.4 1121.2,670.6 1122.2,670.6 1123.2,670.6 1124.2,670.3 1125.2,669.8 1126.2,669.4 1127.2,669.5 1128.2,669.3 1129.2,669.4 1130.2,669.9 1131.2,670.5 1132.2,670.4 1133.2,669.9 1134.2,670.2 1135.2,670.5 1136.2,669.8 1137.2,668.7 1138.2,668.8 1139.2,670.0 1140.2,670.5 1141.2,669.9 1142.2,669.7 1143.2,670.5 1144.2,670.6 1145.2,669.9 1146.2,669.2 1147.2,668.9 1148.2,669.2 1149.2,669.2 1150.2,669.7 1151.2,670.1 1152.2,670.1 1153.2,670.2 1154.2,669.9 1155.2,669.9 1156.2,670.1 1157.2,669.7 1158.2,669.6 1159.2,670.0 1160.2,669.9 1161.2,669.4 1162.2,669.4 1163.2,670.0 1164.2,670.5 1165.2,669.9 1166.2,669.1 1167.2,668.6 1168.2,668.2 1169.2,668.3 1170.2,669.1 1171.2,669.2 1172.2,668.6 1173.2,668.4 1174.2,668.8 1175.2,668.8 1176.2,668.7 1177.2,669.2 1178.2,669.5 1179.2,669.6 1180.2,669.6 1181.2,669.6 1182.2,669.6 1183.2,669.3 1184.2,669.5 1185.2,669.7 1186.2,669.5 1187.2,669.2 1188.2,668.6 1189.2,668.4 1190.2,668.8 1191.2,669.2 1192.2,669.6 1193.2,669.7 1194.2,669.8 1195.2,669.8 1196.2,669.7 1197.2,669.5 1198.2,669.3 1199.2,669.7 1200.2,670.0 1201.2,669.2 1202.2,669.3 1203.2,670.1 1204.2,670.3 1205.2,670.5 1206.2,669.9 1207.2,669.1 1208.2,668.9 1209.2,669.2 1210.2,670.1 1211.2,670.5 1212.2,670.0 1213.2,669.8 1214.2,669.4 1215.2,668.9 1216.2,668.9 1217.2,668.9 1218.2,669.3 1219.2,670.0 1220.2,670.5 1221.2,670.6 1222.2,670.1 1223.2,670.1 1224.2,670.3 1225.2,669.7 1226.2,668.7 1227.2,669.2 1228.2,670.0 1229.2,669.8 1230.2,670.2 1231.2,670.1 1232.2,669.5 1233.2,669.8 1234.2,670.3 1235.2,670.0 1236.2,669.7 1237.2,670.1 1238.2,670.4 1239.2,670.8 1240.2,670.8 1241.2,670.5 1242.2,670.4 1243.2,670.3 1244.2,669.9 1245.2,669.9 1246.2,670.6 1247.2,671.2 1248.2,671.2 1249.2,670.9 1250.2,670.7 1251.2,670.9 1252.2,671.0 1253.2,671.2 1254.2,671.9 1255.2,672.3 1256.2,672.6 1257.2,672.4 1258.2,671.7 1259.2,671.9 1260.2,672.0 1261.2,672.1 1262.2,672.0 1263.2,671.6 1264.2,671.3 1265.2,671.2 1266.2,671.1 1267.2,671.6 1268.2,672.1 1269.2,672.2 1270.2,672.1 1271.2,672.2 1272.2,672.0 1273.2,671.3 1274.2,671.5 1275.2,672.2 1276.2,672.7 1277.2,673.0 1278.2,672.8 1279.2,672.7 1280.2,672.5 1281.2,672.1 1282.2,671.7 1283.2,671.8 1284.2,673.0 1285.2,673.3 1286.2,672.1 1287.2,670.9 1288.2,670.0 1289.2,669.8 1290.2,669.9 1291.2,669.2 1292.2,668.0 1293.2,667.4 1294.2,667.2 1295.2,667.1 1296.2,666.8 1297.2,666.1 1298.2,665.9 1299.2,665.6 1300.2,665.9 1301.2,667.7 1302.2,670.0 1303.2,671.4 1304.2,672.5 1305.2,674.0 1306.2,674.8 1307.2,675.1 1308.2,675.0 1309.2,673.9 1310.2,673.7 1311.2,674.1 1312.2,673.4 1313.2,673.1 1314.2,673.4 1315.2,673.4 1316.2,673.3 1317.2,673.0 1318.2,672.8 1319.2,673.3 1320.2,673.6 1321.2,673.1 1322.2,673.2 1323.2,673.2 1324.2,672.7 1325.2,672.3 1326.2,671.8 1327.2,671.8 1328.2,672.1 1329.2,672.5 1330.2,672.4 1331.2,671.7 1332.2,671.5 1333.2,671.7 1334.2,672.1 1335.2,672.2 1336.2,671.9 1337.2,672.0 1338.2,671.8 1339.2,671.9 1340.2,672.2 1341.2,672.2 1342.2,672.2 1343.2,672.0 1344.2,671.7 1345.2,671.3 1346.2,670.8 1347.2,671.1 1348.2,671.8 1349.2,671.6 1350.2,671.4 1351.2,672.0 1352.2,671.9 1353.2,671.1 1354.2,671.1 1355.2,671.3 1356.2,670.9 1357.2,671.0 1358.2,671.5 1359.2,671.6 1360.2,671.7 1361.2,671.6 1362.2,671.3 1363.2,671.7 1364.2,672.1 1365.2,671.4 1366.2,671.1 1367.2,671.4 1368.2,671.6 1369.2,672.0 1370.2,672.1 1371.2,671.4 1372.2,670.8 1373.2,671.8 1374.2,672.2 1375.2,671.8 1376.2,672.0 1377.2,672.2 1378.2,672.4 1379.2,672.6 1380.2,671.8 1381.2,671.1 1382.2,671.0 1383.2,670.8 1384.2,670.7 1385.2,670.9 1386.2,671.3 1387.2,672.1 1388.2,672.0 1389.2,671.6 1390.2,671.5 1391.2,670.9 1392.2,670.8 1393.2,671.6 1394.2,672.2 1395.2,672.2 1396.2,672.2 1397.2,672.4 1398.2,672.5 1399.2,672.1 1400.2,671.1 1401.2,670.5 1402.2,671.2 1403.2,671.9 1404.2,672.1 1405.2,672.3 1406.2,672.4 1407.2,672.4 1408.2,672.2 1409.2,672.0 1410.2,672.1 1411.2,671.9 1412.2,672.2 1413.2,672.3 1414.2,672.4 1415.2,672.6 1416.2,672.7 1417.2,672.8 1418.2,672.9 1419.2,673.1 1420.2,673.2 1421.2,673.3 1422.2,673.5 1423.2,673.8 1424.2,674.1 1425.2,674.4 1426.2,674.8 1427.2,675.2 1428.2,675.6 1429.2,676.1 1430.2,676.5 1431.2,677.0 1432.2,677.5 1433.2,677.9 1434.2,678.3 1435.2,678.7 1436.2,679.0 1437.2,679.3 1438.2,679.6 1439.2,679.9 1440.2,680.2 1441.2,680.5 1442.2,680.8 1443.2,681.2 1444.2,681.5 1445.2,681.9 1446.2,682.4 1447.2,682.9 1448.2,683.6 1449.2,684.5 1450.2,685.5 1451.2,686.7 1452.2,687.9 1453.2,689.3 1454.2,690.6 1455.2,692.0 1456.2,693.5 1457.2,695.4 1458.2,697.9 1459.2,701.4 1460.2,705.7 1461.2,711.0 1462.2,718.3 1463.2,728.2 1464.2,739.6 1465.2,752.0 1466.2,766.3 1467.2,780.1 1468.2,793.7 1469.2,806.2 1470.2,817.3 1471.2,827.5 1472.2,836.9 1473.2,845.4 1474.2,853.3 1475.2,860.8 1476.2,868.5 1477.2,876.4 1478.2,884.4 1479.2,892.5 1480.2,900.9 1481.2,910.4 1482.2,919.7 1483.2,927.6 1484.2,932.5 1485.2,928.6 1486.2,919.8 1487.2,902.4 1488.2,888.5 1489.2,875.8 1490.2,863.0 1491.2,850.8 1492.2,836.1 1493.2,814.8 1494.2,795.3 1495.2,774.7 1496.2,739.0 1497.2,722.6 1498.2,712.9 1499.2,707.4 1500.2,703.1 1501.2,699.8 1502.2,697.4 1503.2,695.7 1504.2,694.5 1505.2,693.5 1506.2,692.8 1507.2,692.1 1508.2,691.3 1509.2,690.4 1510.2,689.4 1511.2,688.3 1512.2,687.2 1513.2,686.2 1514.2,685.4 1515.2,684.8 1516.2,684.6 1517.2,684.5 1518.2,684.3 1519.2,684.2 1520.2,684.1 1521.2,684.0 1522.2,683.9 1523.2,683.9 1524.2,683.8 1525.2,683.8 1526.2,683.8 1527.2,683.8 1528.2,683.8 1529.2,683.8 1530.2,683.8 1531.2,683.8 1532.2,683.8 1533.2,683.8 1534.2,683.8 1535.2,683.8 1536.2,683.8 1537.2,683.8 1538.2,683.8 1539.2,683.8 1540.2,683.8 1541.2,683.8 1542.2,683.7 1543.2,683.5 1544.2,683.3 1545.2,683.1 1546.2,682.8 1547.2,682.5 1548.2,682.3 1549.2,682.0 1550.2,681.7 1551.2,681.5 1552.2,681.4 1553.2,681.2 1554.2,681.2 1555.2,681.4 1556.2,681.9 1557.2,682.8 1558.2,683.9 1559.2,685.3 1560.2,687.0 1561.2,689.6 1562.2,694.6 1563.2,700.7 1564.2,706.8 1565.2,712.0 1566.2,717.5 1567.2,722.8 1568.2,727.2 1569.2,729.4 1570.2,730.2 1571.2,730.8 1572.2,731.2 1573.2,729.9 1574.2,721.7 1575.2,711.0 1576.2,697.9 1577.2,688.7 1578.2,686.5 1579.2,684.9 1580.2,683.8 1581.2,682.9 1582.2,682.2 1583.2,681.4 1584.2,680.6 1585.2,679.9 1586.2,679.3 1587.2,678.8 1588.2,678.6 1589.2,678.9 1590.2,680.1 1591.2,681.9 1592.2,684.0 1593.2,685.8 1594.2,687.0 1595.2,687.5 1596.2,687.8 1597.2,688.1 1598.2,688.3 1599.2,688.4 1600.2,688.5 1601.2,688.7 1602.2,688.8 1603.2,688.9 1604.2,689.1 1605.2,689.4 1606.2,689.7 1607.2,690.2 1608.2,691.9 1609.2,694.6 1610.2,697.7 1611.2,700.5 1612.2,702.5 1613.2,703.0 1614.2,700.4 1615.2,695.6 1616.2,690.6 1617.2,687.5 1618.2,686.8 1619.2,686.2 1620.2,685.9 1621.2,685.6 1622.2,685.7 1623.2,686.4 1624.2,687.9 1625.2,690.0 1626.2,692.6 1627.2,699.5 1628.2,710.9 1629.2,721.2 1630.2,726.0 1631.2,728.8 1632.2,730.9 1633.2,732.8 1634.2,734.6 1635.2,736.9 1636.2,739.5 1637.2,742.3 1638.2,745.0 1639.2,747.7 1640.2,750.2 1641.2,752.4 1642.2,754.6 1643.2,756.8 1644.2,758.8 1645.2,760.3 1646.2,761.0 1647.2,759.2 1648.2,753.4 1649.2,746.2 1650.2,740.0 1651.2,734.4 1652.2,728.6 1653.2,723.0 1654.2,717.8 1655.2,713.2 1656.2,708.9 1657.2,704.8 1658.2,701.2 1659.2,698.5 1660.2,696.6 1661.2,695.0 1662.2,693.6 1663.2,692.8 1664.2,692.7 1665.2,693.6 1666.2,695.3 1667.2,697.4 1668.2,699.4 1669.2,701.2 1670.2,702.9 1671.2,704.7 1672.2,706.5 1673.2,708.6 1674.2,710.8 1675.2,713.3 1676.2,716.3 1677.2,719.9 1678.2,724.0 1679.2,728.3 1680.2,732.9 1681.2,737.5 1682.2,742.3 1683.2,747.5 1684.2,753.0 1685.2,758.9 1686.2,765.4 1687.2,772.6 1688.2,780.5 1689.2,788.9 1690.2,797.8 1691.2,809.9 1692.2,821.5 1693.2,823.6 1694.2,818.7 1695.2,809.9 1696.2,798.9 1697.2,780.5 1698.2,761.4 1699.2,750.1 1700.2,744.4 1701.2,741.7 1702.2,739.8 1703.2,739.0 1704.2,739.7 1705.2,742.7 1706.2,746.6 1707.2,749.9 1708.2,751.3 1709.2,751.9 1710.2,752.4 1711.2,752.8 1712.2,752.9 1713.2,751.1 1714.2,746.0 1715.2,739.5 1716.2,733.6 1717.2,730.2 1718.2,730.3 1719.2,731.4 1720.2,733.2 1721.2,735.4 1722.2,738.0 1723.2,742.6 1724.2,748.1 1725.2,752.4 1726.2,754.3 1727.2,755.5 1728.2,756.7 1729.2,759.0 1730.2,764.7 1731.2,773.1 1732.2,783.0 1733.2,792.9 1734.2,802.2 1735.2,812.2 1736.2,822.6 1737.2,833.3 1738.2,844.1 1739.2,854.8 1740.2,865.1 1741.2,875.3 1742.2,886.0 1743.2,897.0 1744.2,908.2 1745.2,920.0 1746.2,932.5 1747.2,946.7 1748.2,963.3 1749.2,979.2 1750.2,991.0 1751.2,1001.0 1752.2,1010.2 1753.2,1017.2 1754.2,1020.5 1755.2,1018.4 1756.2,1010.6 1757.2,998.7 1758.2,983.6 1759.2,954.2 1760.2,919.3 1761.2,888.1 1762.2,856.9 1763.2,839.1 1764.2,832.5 1765.2,828.3 1766.2,825.0 1767.2,821.4 1768.2,815.8 1769.2,804.2 1770.2,787.5 1771.2,771.9 1772.2,763.5 1773.2,766.3 1774.2,776.9 1775.2,792.3 1776.2,809.3 1777.2,826.5 1778.2,847.4 1779.2,868.3 1780.2,893.1 1781.2,916.4 1782.2,929.0 1783.2,924.7 1784.2,908.7 1785.2,887.2 1786.2,865.7 1787.2,839.9 1788.2,815.8 1789.2,796.9 1790.2,779.6 1791.2,764.9 1792.2,754.2 1793.2,746.9 1794.2,740.2 1795.2,734.2 1796.2,729.0 1797.2,724.8 1798.2,721.8 1799.2,720.2 1800.2,720.1 1801.2,721.1 1802.2,723.0 1803.2,725.7 1804.2,729.1 1805.2,733.0 1806.2,737.5 1807.2,742.3 1808.2,747.4 1809.2,752.6 1810.2,759.2 1811.2,768.1 1812.2,778.6 1813.2,790.0 1814.2,801.5 1815.2,812.7 1816.2,822.7 1817.2,832.1 1818.2,842.0 1819.2,853.4 1820.2,869.1 1821.2,886.1 1822.2,896.2 1823.2,904.2 1824.2,911.0 1825.2,917.5 1826.2,924.3 1827.2,930.7 1828.2,936.7 1829.2,942.2 1830.2,947.1 1831.2,951.8 1832.2,956.2 1833.2,960.3 1834.2,963.8 1835.2,966.7 1836.2,969.1 1837.2,971.1 1838.2,972.9 1839.2,974.6 1840.2,976.4 1841.2,978.4 1842.2,980.8 1843.2,983.6 1844.2,986.6 1845.2,989.9 1846.2,993.5 1847.2,997.4 1848.2,1001.8 1849.2,1007.0 1850.2,1012.3 1851.2,1017.3 1852.2,1022.8 1853.2,1028.2 1854.2,1033.0 1855.2,1036.4 1856.2,1038.9 1857.2,1041.2 1858.2,1043.2 1859.2,1044.6 1860.2,1045.2 1861.2,1044.9 1862.2,1043.9 1863.2,1042.2 1864.2,1040.0 1865.2,1037.6 1866.2,1034.9 1867.2,1031.0 1868.2,1026.0 1869.2,1020.4 1870.2,1014.7 1871.2,1008.5 1872.2,1001.5 1873.2,994.3 1874.2,987.2 1875.2,980.9 1876.2,975.5 1877.2,970.6 1878.2,966.0 1879.2,961.3 1880.2,956.2 1881.2,950.6 1882.2,944.6 1883.2,938.4 1884.2,931.7 1885.2,924.4 1886.2,916.3 1887.2,906.4 1888.2,895.6 1889.2,885.6 1890.2,876.9 1891.2,868.5 1892.2,861.3 1893.2,856.1 1894.2,851.6 1895.2,847.9 1896.2,845.9 1897.2,845.5 1898.2,845.2 1899.2,845.0 1900.2,845.1 1901.2,848.0 1902.2,853.7 1903.2,860.3 1904.2,865.9 1905.2,870.4 1906.2,875.1 1907.2,879.2 1908.2,881.7 1909.2,881.3 1910.2,875.6 1911.2,866.7 1912.2,857.5 1913.2,849.1 1914.2,838.6 1915.2,818.8 1916.2,800.8 1917.2,793.5 1918.2,788.4 1919.2,784.7 1920.2,781.5 1921.2,778.1 1922.2,774.5 1923.2,771.0 1924.2,768.0 1925.2,766.0 1926.2,765.2 1927.2,766.5 1928.2,769.8 1929.2,774.7 1930.2,780.3 1931.2,786.3 1932.2,792.4 1933.2,800.0 1934.2,808.6 1935.2,817.6 1936.2,827.2 1937.2,839.8 1938.2,848.7 1939.2,846.4 1940.2,834.5 1941.2,818.2 1942.2,802.4 1943.2,782.8 1944.2,765.4 1945.2,758.2 1946.2,753.5 1947.2,750.4 1948.2,749.4 1949.2,752.7 1950.2,760.0 1951.2,768.8 1952.2,777.1 1953.2,783.8 1954.2,790.5 1955.2,796.9 1956.2,802.4 1957.2,806.7 1958.2,810.5 1959.2,814.1 1960.2,816.7 1961.2,817.8 1962.2,816.9 1963.2,814.2 1964.2,810.4 1965.2,806.4 1966.2,802.8 1967.2,800.3 1968.2,798.2 1969.2,796.3 1970.2,794.4 1971.2,792.4 1972.2,790.0 1973.2,787.2 1974.2,783.3 1975.2,777.5 1976.2,770.7 1977.2,763.4 1978.2,756.5 1979.2,750.6 1980.2,744.8 1981.2,739.1 1982.2,733.8 1983.2,729.3 1984.2,726.0 1985.2,723.2 1986.2,720.5 1987.2,718.2 1988.2,716.7 1989.2,716.0 1990.2,717.4 1991.2,721.5 1992.2,727.5 1993.2,734.5 1994.2,741.5 1995.2,748.3 1996.2,756.3 1997.2,764.4 1998.2,771.0 1999.2,776.7 2000.2,777.7 2001.2,777.1 2002.2,776.1 2003.2,773.9 2004.2,770.8 2005.2,768.3 2006.2,766.6 2007.2,765.1 2008.2,764.0 2009.2,763.6 2010.2,764.5 2011.2,766.7 2012.2,769.6 2013.2,774.7 2014.2,782.4 2015.2,788.1 2016.2,789.5 2017.2,790.1 2018.2,790.5 2019.2,790.8 2020.2,791.3 2021.2,792.3 2022.2,795.0 2023.2,798.8 2024.2,802.0 2025.2,802.7 2026.2,794.2 2027.2,782.0 2028.2,771.7 2029.2,761.0 2030.2,751.7 2031.2,744.6 2032.2,738.5 2033.2,733.7 2034.2,730.6 2035.2,728.5 2036.2,726.7 2037.2,725.0 2038.2,723.4 2039.2,722.0 2040.2,720.4 2041.2,718.6 2042.2,716.1 2043.2,713.5 2044.2,711.8 2045.2,711.5 2046.2,711.5 2047.2,711.5 2048.2,711.5 2049.2,711.5 2050.2,716.3 2051.2,733.9 2052.2,775.2 2053.2,831.7 2054.2,852.6 2055.2,866.3 2056.2,878.8 2057.2,890.5 2058.2,898.6 2059.2,900.0 2060.2,893.1 2061.2,880.9 2062.2,867.3 2063.2,850.9 2064.2,828.3 2065.2,785.9 2066.2,745.5 2067.2,729.7 2068.2,721.5 2069.2,719.9 2070.2,718.9 2071.2,718.3 2072.2,717.8 2073.2,717.4 2074.2,716.7 2075.2,715.4 2076.2,714.1 2077.2,712.6 2078.2,710.8 2079.2,707.6 2080.2,701.8 2081.2,698.4 2082.2,696.9 2083.2,695.8 2084.2,695.1 2085.2,694.6 2086.2,694.0 2087.2,693.3 2088.2,692.5 2089.2,692.3 2090.2,692.5 2091.2,692.6 2092.2,692.2 2093.2,691.7 2094.2,691.7 2095.2,692.0 2096.2,691.4 2097.2,690.5 2098.2,690.1 2099.2,690.1 2100.2,690.7 2101.2,691.1 2102.2,690.8 2103.2,690.3 2104.2,690.3 2105.2,691.1 2106.2,692.4 2107.2,693.4 2108.2,694.0 2109.2,694.6 2110.2,695.3 2111.2,696.1 2112.2,696.7 2113.2,697.0 2114.2,697.2 2115.2,698.0 2116.2,699.3 2117.2,701.1 2118.2,702.8 2119.2,703.8 2120.2,703.9 2121.2,703.4 2122.2,702.6 2123.2,701.8 2124.2,701.1 2125.2,700.7 2126.2,700.6 2127.2,700.1 2128.2,699.9 2129.2,700.2 2130.2,700.2 2131.2,700.4 2132.2,700.9 2133.2,701.5 2134.2,702.1 2135.2,703.1 2136.2,703.8 2137.2,704.0 2138.2,704.9 2139.2,706.8 2140.2,708.7 2141.2,710.7 2142.2,715.3 2143.2,721.6 2144.2,726.6 2145.2,730.5 2146.2,734.3 2147.2,736.3 2148.2,736.8 2149.2,737.6 2150.2,738.1 2151.2,737.8 2152.2,736.5 2153.2,733.5 2154.2,729.4 2155.2,725.6 2156.2,722.4 2157.2,719.3 2158.2,716.8 2159.2,715.1 2160.2,714.8 2161.2,715.1 2162.2,714.9 2163.2,714.6 2164.2,714.9 2165.2,715.8 2166.2,716.4 2167.2,717.0 2168.2,718.5 2169.2,720.2 2170.2,721.6 2171.2,722.3 2172.2,723.0 2173.2,723.7 2174.2,723.9 2175.2,724.0 2176.2,724.1 2177.2,724.3 2178.2,724.8 2179.2,725.2 2180.2,725.1 2181.2,725.3 2182.2,725.6 2183.2,725.5 2184.2,725.8 2185.2,726.7 2186.2,727.3 2187.2,727.6 2188.2,728.1 2189.2,728.5 2190.2,728.8 2191.2,729.4 2192.2,729.7 2193.2,729.5 2194.2,729.1 2195.2,729.1 2196.2,729.7 2197.2,729.7 2198.2,729.5 2199.2,730.3 2200.2,731.6 2201.2,733.3 2202.2,735.6 2203.2,738.1 2204.2,738.7 2205.2,738.5 2206.2,738.1 2207.2,737.5 2208.2,737.5 2209.2,737.9 2210.2,738.0 2211.2,737.5 2212.2,737.1 2213.2,737.2 2214.2,737.9 2215.2,739.0 2216.2,739.8 2217.2,740.6 2218.2,741.2 2219.2,740.1 2219.9,738.5"/>
<polyline fill="none" stroke="#000000" stroke-width="3.5" stroke-linejoin="round" stroke-linecap="round" points="111.1,891.8 112.1,891.8 113.1,891.9 114.1,891.9 115.1,892.0 116.1,892.0 117.1,892.0 118.1,892.1 119.1,892.1 120.1,892.2 121.1,892.2 122.1,892.2 123.1,892.3 124.1,892.3 125.1,892.4 126.1,892.4 127.1,892.4 128.1,892.5 129.1,892.5 130.1,892.5 131.1,892.6 132.1,892.6 133.1,892.7 134.1,892.7 135.1,892.7 136.1,892.8 137.1,892.8 138.1,892.8 139.1,892.9 140.1,892.9 141.1,893.0 142.1,893.0 143.1,893.0 144.1,893.1 145.1,893.1 146.1,893.1 147.1,893.2 148.1,893.2 149.1,893.2 150.1,893.2 151.1,893.3 152.1,893.3 153.1,893.3 154.1,893.4 155.1,893.4 156.1,893.4 157.1,893.4 158.1,893.5 159.1,893.5 160.1,893.5 161.1,893.5 162.1,893.6 163.1,893.6 164.1,893.6 165.1,893.6 166.1,893.6 167.1,893.7 168.1,893.7 169.1,893.7 170.1,893.7 171.1,893.7 172.1,893.7 173.1,893.7 174.1,893.7 175.1,893.8 176.1,893.8 177.1,893.8 178.1,893.8 179.1,893.8 180.1,893.8 181.1,893.8 182.1,893.8 183.1,893.8 184.1,893.8 185.1,893.8 186.1,893.8 187.1,893.8 188.1,893.8 189.1,893.8 190.1,893.8 191.1,893.8 192.1,893.8 193.1,893.8 194.1,893.8 195.1,893.8 196.1,893.8 197.1,893.8 198.1,893.8 199.1,893.8 200.1,893.8 201.1,893.8 202.1,893.8 203.1,893.8 204.1,893.8 205.1,893.8 206.1,893.8 207.1,893.8 208.1,893.8 209.1,893.8 210.1,893.8 211.1,893.8 212.1,893.8 213.1,893.8 214.1,893.8 215.1,893.8 216.1,893.8 217.1,893.8 218.1,893.8 219.1,893.8 220.1,893.8 221.1,893.8 222.1,893.8 223.1,893.8 224.1,893.8 225.1,893.8 226.1,893.8 227.1,893.8 228.1,893.8 229.1,893.8 230.1,893.8 231.1,893.8 232.1,893.8 233.1,893.8 234.1,893.8 235.1,893.8 236.1,893.8 237.1,893.8 238.1,893.8 239.1,893.8 240.1,893.8 241.1,893.8 242.1,893.8 243.1,893.8 244.1,893.8 245.1,893.8 246.1,893.8 247.1,893.8 248.1,893.8 249.1,893.8 250.1,893.8 251.1,893.8 252.1,893.8 253.1,893.8 254.1,893.8 255.1,893.8 256.1,893.8 257.1,893.8 258.1,893.8 259.1,893.8 260.1,893.8 261.1,893.8 262.1,893.8 263.1,893.8 264.1,893.8 265.1,893.8 266.1,893.8 267.1,893.8 268.1,893.8 269.1,893.8 270.1,893.8 271.1,893.8 272.1,893.8 273.1,893.8 274.1,893.8 275.1,893.8 276.1,893.8 277.1,893.8 278.1,893.8 279.1,893.8 280.1,893.8 281.1,893.8 282.1,893.8 283.1,893.8 284.1,893.8 285.1,893.8 286.1,893.9 287.1,893.9 288.1,893.9 289.1,894.0 290.1,894.0 291.1,894.0 292.1,894.1 293.1,894.1 294.1,894.2 295.1,894.2 296.1,894.3 297.1,894.4 298.1,894.4 299.1,894.5 300.1,894.6 301.1,894.6 302.1,894.7 303.1,894.8 304.1,894.9 305.1,895.0 306.1,895.0 307.1,895.1 308.1,895.2 309.1,895.3 310.1,895.4 311.1,895.5 312.1,895.6 313.1,895.6 314.1,895.7 315.1,895.8 316.1,895.9 317.1,896.0 318.1,896.1 319.1,896.2 320.1,896.3 321.1,896.4 322.1,896.4 323.1,896.5 324.1,896.6 325.1,896.7 326.1,896.8 327.1,896.9 328.1,897.1 329.1,897.2 330.1,897.3 331.1,897.5 332.1,897.6 333.1,897.7 334.1,897.9 335.1,898.0 336.1,898.2 337.1,898.3 338.1,898.5 339.1,898.7 340.1,898.8 341.1,899.0 342.1,899.1 343.1,899.3 344.1,899.5 345.1,899.6 346.1,899.8 347.1,899.9 348.1,900.1 349.1,900.2 350.1,900.4 351.1,900.5 352.1,900.7 353.1,900.8 354.1,901.0 355.1,901.1 356.1,901.2 357.1,901.4 358.1,901.5 359.1,901.6 360.1,901.7 361.1,901.8 362.1,901.9 363.1,902.0 364.1,902.1 365.1,902.2 366.1,902.2 367.1,902.3 368.1,902.4 369.1,902.5 370.1,902.5 371.1,902.6 372.1,902.7 373.1,902.7 374.1,902.8 375.1,902.9 376.1,903.0 377.1,903.0 378.1,903.1 379.1,903.2 380.1,903.2 381.1,903.3 382.1,903.4 383.1,903.5 384.1,903.5 385.1,903.6 386.1,903.6 387.1,903.7 388.1,903.8 389.1,903.8 390.1,903.9 391.1,904.0 392.1,904.0 393.1,904.1 394.1,904.1 395.1,904.2 396.1,904.2 397.1,904.3 398.1,904.3 399.1,904.4 400.1,904.4 401.1,904.5 402.1,904.5 403.1,904.5 404.1,904.6 405.1,904.6 406.1,904.7 407.1,904.7 408.1,904.7 409.1,904.7 410.1,904.8 411.1,904.8 412.1,904.8 413.1,904.8 414.1,904.9 415.1,904.9 416.1,904.9 417.1,904.9 418.1,904.9 419.1,904.9 420.1,904.9 421.1,904.9 422.1,904.9 423.1,904.9 424.1,904.8 425.1,904.8 426.1,904.8 427.1,904.7 428.1,904.7 429.1,904.7 430.1,904.6 431.1,904.5 432.1,904.5 433.1,904.4 434.1,904.3 435.1,904.3 436.1,904.2 437.1,904.1 438.1,904.0 439.1,903.9 440.1,903.8 441.1,903.7 442.1,903.6 443.1,903.5 444.1,903.4 445.1,903.3 446.1,903.2 447.1,903.1 448.1,903.0 449.1,902.9 450.1,902.8 451.1,902.7 452.1,902.6 453.1,902.4 454.1,902.3 455.1,902.2 456.1,902.1 457.1,902.0 458.1,901.8 459.1,901.7 460.1,901.5 461.1,901.3 462.1,901.1 463.1,900.9 464.1,900.6 465.1,900.4 466.1,900.1 467.1,899.9 468.1,899.7 469.1,899.4 470.1,899.2 471.1,898.9 472.1,898.7 473.1,898.5 474.1,898.3 475.1,898.1 476.1,897.9 477.1,897.8 478.1,897.6 479.1,897.5 480.1,897.5 481.1,897.4 482.1,897.4 483.1,897.3 484.1,897.3 485.1,897.3 486.1,897.3 487.1,897.2 488.1,897.2 489.1,897.2 490.1,897.2 491.1,897.1 492.1,897.1 493.1,897.1 494.1,897.1 495.1,897.0 496.1,897.0 497.1,897.0 498.1,897.0 499.1,897.0 500.1,896.9 501.1,896.9 502.1,896.9 503.1,896.9 504.1,896.9 505.1,896.8 506.1,896.8 507.1,896.8 508.1,896.8 509.1,896.8 510.1,896.8 511.1,896.7 512.1,896.7 513.1,896.7 514.1,896.7 515.1,896.7 516.1,896.7 517.1,896.7 518.1,896.7 519.1,896.6 520.1,896.6 521.1,896.6 522.1,896.6 523.1,896.6 524.1,896.6 525.1,896.6 526.1,896.6 527.1,896.6 528.1,896.6 529.1,896.6 530.1,896.5 531.1,896.5 532.1,896.5 533.1,896.5 534.1,896.5 535.1,896.5 536.1,896.5 537.1,896.5 538.1,896.5 539.1,896.5 540.1,896.5 541.1,896.5 542.1,896.5 543.1,896.5 544.1,896.5 545.1,896.5 546.1,896.5 547.1,896.5 548.1,896.5 549.1,896.5 550.1,896.5 551.1,896.5 552.1,896.6 553.1,896.6 554.1,896.6 555.1,896.6 556.1,896.6 557.1,896.7 558.1,896.7 559.1,896.7 560.1,896.7 561.1,896.8 562.1,896.8 563.1,896.8 564.1,896.9 565.1,896.9 566.1,896.9 567.1,897.0 568.1,897.0 569.1,897.0 570.1,897.1 571.1,897.1 572.1,897.2 573.1,897.2 574.1,897.2 575.1,897.3 576.1,897.3 577.1,897.4 578.1,897.4 579.1,897.5 580.1,897.5 581.1,897.5 582.1,897.6 583.1,897.6 584.1,897.7 585.1,897.7 586.1,897.8 587.1,897.8 588.1,897.8 589.1,897.9 590.1,897.9 591.1,898.0 592.1,898.0 593.1,898.0 594.1,898.1 595.1,898.1 596.1,898.2 597.1,898.3 598.1,898.3 599.1,898.4 600.1,898.4 601.1,898.5 602.1,898.6 603.1,898.6 604.1,898.7 605.1,898.8 606.1,898.8 607.1,898.9 608.1,899.0 609.1,899.1 610.1,899.1 611.1,899.2 612.1,899.3 613.1,899.3 614.1,899.4 615.1,899.5 616.1,899.5 617.1,899.6 618.1,899.7 619.1,899.8 620.1,899.8 621.1,899.9 622.1,899.9 623.1,900.0 624.1,900.1 625.1,900.1 626.1,900.2 627.1,900.2 628.1,900.3 629.1,900.3 630.1,900.4 631.1,900.4 632.1,900.5 633.1,900.5 634.1,900.5 635.1,900.6 636.1,900.6 637.1,900.6 638.1,900.7 639.1,900.7 640.1,900.7 641.1,900.7 642.1,900.7 643.1,900.7 644.1,900.7 645.1,900.7 646.1,900.7 647.1,900.6 648.1,900.6 649.1,900.6 650.1,900.6 651.1,900.5 652.1,900.5 653.1,900.4 654.1,900.4 655.1,900.3 656.1,900.3 657.1,900.2 658.1,900.2 659.1,900.1 660.1,900.1 661.1,900.0 662.1,899.9 663.1,899.9 664.1,899.8 665.1,899.7 666.1,899.7 667.1,899.6 668.1,899.5 669.1,899.5 670.1,899.4 671.1,899.3 672.1,899.3 673.1,899.2 674.1,899.2 675.1,899.1 676.1,899.0 677.1,899.0 678.1,898.9 679.1,898.9 680.1,898.8 681.1,898.8 682.1,898.8 683.1,898.7 684.1,898.7 685.1,898.7 686.1,898.6 687.1,898.6 688.1,898.6 689.1,898.6 690.1,898.6 691.1,898.6 692.1,898.7 693.1,898.8 694.1,898.9 695.1,899.1 696.1,899.4 697.1,899.6 698.1,899.9 699.1,900.2 700.1,900.5 701.1,900.9 702.1,901.4 703.1,902.1 704.1,903.0 705.1,903.9 706.1,905.0 707.1,906.1 708.1,907.3 709.1,908.7 710.1,910.3 711.1,912.2 712.1,914.4 713.1,917.1 714.1,921.2 715.1,926.2 716.1,931.2 717.1,936.8 718.1,942.6 719.1,948.1 720.1,953.0 721.1,958.0 722.1,963.6 723.1,970.1 724.1,977.0 725.1,983.5 726.1,990.4 727.1,996.8 728.1,1000.9 729.1,1003.3 730.1,1005.1 731.1,1005.7 732.1,1002.6 733.1,996.1 734.1,987.0 735.1,972.2 736.1,963.6 737.1,958.4 738.1,954.9 739.1,952.6 740.1,950.6 741.1,949.2 742.1,948.6 743.1,948.9 744.1,949.9 745.1,951.5 746.1,953.3 747.1,956.1 748.1,960.7 749.1,965.6 750.1,970.2 751.1,975.3 752.1,978.8 753.1,979.6 754.1,980.1 755.1,980.2 756.1,978.9 757.1,976.3 758.1,973.9 759.1,972.5 760.1,971.5 761.1,970.6 762.1,970.1 763.1,970.0 764.1,970.5 765.1,971.3 766.1,972.4 767.1,973.8 768.1,977.1 769.1,981.0 770.1,984.1 771.1,986.7 772.1,989.1 773.1,991.1 774.1,992.7 775.1,993.9 776.1,995.0 777.1,995.9 778.1,996.6 779.1,997.0 780.1,997.4 781.1,997.7 782.1,998.1 783.1,998.6 784.1,999.6 785.1,1001.2 786.1,1003.0 787.1,1004.7 788.1,1006.5 789.1,1008.4 790.1,1010.0 791.1,1010.8 792.1,1010.7 793.1,1010.2 794.1,1009.4 795.1,1008.3 796.1,1007.0 797.1,1003.8 798.1,997.0 799.1,989.4 800.1,982.4 801.1,975.0 802.1,968.5 803.1,963.7 804.1,959.9 805.1,956.5 806.1,953.1 807.1,949.3 808.1,945.3 809.1,941.4 810.1,937.9 811.1,934.8 812.1,932.1 813.1,929.6 814.1,927.3 815.1,925.3 816.1,923.4 817.1,921.6 818.1,920.0 819.1,918.7 820.1,917.7 821.1,916.9 822.1,916.2 823.1,915.6 824.1,915.1 825.1,914.9 826.1,914.7 827.1,914.5 828.1,914.4 829.1,914.3 830.1,914.2 831.1,914.1 832.1,914.0 833.1,913.9 834.1,913.9 835.1,913.8 836.1,913.7 837.1,913.6 838.1,913.4 839.1,913.3 840.1,913.1 841.1,912.9 842.1,912.7 843.1,912.4 844.1,912.1 845.1,911.9 846.1,911.5 847.1,911.1 848.1,910.6 849.1,910.0 850.1,909.5 851.1,908.9 852.1,908.4 853.1,908.0 854.1,907.6 855.1,907.2 856.1,906.9 857.1,906.5 858.1,906.2 859.1,905.9 860.1,905.6 861.1,905.3 862.1,905.1 863.1,904.8 864.1,904.6 865.1,904.4 866.1,904.2 867.1,904.0 868.1,903.8 869.1,903.6 870.1,903.4 871.1,903.2 872.1,903.1 873.1,902.9 874.1,902.8 875.1,902.6 876.1,902.5 877.1,902.3 878.1,902.2 879.1,902.1 880.1,902.0 881.1,901.9 882.1,901.8 883.1,901.7 884.1,901.6 885.1,901.5 886.1,901.4 887.1,901.3 888.1,901.2 889.1,901.1 890.1,901.0 891.1,901.0 892.1,900.9 893.1,900.8 894.1,900.7 895.1,900.7 896.1,900.6 897.1,900.5 898.1,900.4 899.1,900.4 900.1,900.3 901.1,900.2 902.1,900.1 903.1,900.1 904.1,900.0 905.1,899.9 906.1,899.9 907.1,899.8 908.1,899.7 909.1,899.6 910.1,899.6 911.1,899.5 912.1,899.4 913.1,899.4 914.1,899.3 915.1,899.2 916.1,899.1 917.1,899.1 918.1,899.0 919.1,898.9 920.1,898.9 921.1,898.8 922.1,898.7 923.1,898.7 924.1,898.6 925.1,898.5 926.1,898.4 927.1,898.4 928.1,898.3 929.1,898.3 930.1,898.2 931.1,898.1 932.1,898.1 933.1,898.0 934.1,897.9 935.1,897.9 936.1,897.8 937.1,897.7 938.1,897.7 939.1,897.6 940.1,897.6 941.1,897.5 942.1,897.5 943.1,897.4 944.1,897.3 945.1,897.3 946.1,897.2 947.1,897.2 948.1,897.1 949.1,897.1 950.1,897.0 951.1,897.0 952.1,896.9 953.1,896.9 954.1,896.8 955.1,896.8 956.1,896.7 957.1,896.7 958.1,896.7 959.1,896.6 960.1,896.6 961.1,896.5 962.1,896.5 963.1,896.5 964.1,896.4 965.1,896.4 966.1,896.4 967.1,896.3 968.1,896.3 969.1,896.3 970.1,896.2 971.1,896.2 972.1,896.2 973.1,896.1 974.1,896.1 975.1,896.1 976.1,896.0 977.1,896.0 978.1,896.0 979.1,895.9 980.1,895.9 981.1,895.9 982.1,895.8 983.1,895.8 984.1,895.8 985.1,895.7 986.1,895.7 987.1,895.7 988.1,895.6 989.1,895.6 990.1,895.6 991.1,895.5 992.1,895.5 993.1,895.5 994.1,895.4 995.1,895.4 996.1,895.4 997.1,895.3 998.1,895.3 999.1,895.3 1000.1,895.3 1001.1,895.2 1002.1,895.2 1003.1,895.2 1004.1,895.1 1005.1,895.1 1006.1,895.1 1007.1,895.0 1008.1,895.0 1009.1,895.0 1010.1,895.0 1011.1,894.9 1012.1,894.9 1013.1,894.9 1014.1,894.8 1015.1,894.8 1016.1,894.8 1017.1,894.8 1018.1,894.7 1019.1,894.7 1020.1,894.7 1021.1,894.7 1022.1,894.6 1023.1,894.6 1024.1,894.6 1025.1,894.6 1026.1,894.5 1027.1,894.5 1028.1,894.5 1029.1,894.5 1030.1,894.4 1031.1,894.4 1032.1,894.4 1033.1,894.4 1034.1,894.4 1035.1,894.3 1036.1,894.3 1037.1,894.3 1038.1,894.3 1039.1,894.3 1040.1,894.2 1041.1,894.2 1042.1,894.2 1043.1,894.2 1044.1,894.2 1045.1,894.1 1046.1,894.1 1047.1,894.1 1048.1,894.1 1049.1,894.1 1050.1,894.1 1051.1,894.0 1052.1,894.0 1053.1,894.0 1054.1,894.0 1055.1,894.0 1056.1,894.0 1057.1,894.0 1058.1,893.9 1059.1,893.9 1060.1,893.9 1061.1,893.9 1062.1,893.9 1063.1,893.9 1064.1,893.9 1065.1,893.9 1066.1,893.9 1067.1,893.9 1068.1,893.9 1069.1,893.8 1070.1,893.8 1071.1,893.8 1072.1,893.8 1073.1,893.8 1074.1,893.8 1075.1,893.8 1076.1,893.8 1077.1,893.8 1078.1,893.8 1079.1,893.8 1080.1,893.8 1081.1,893.8 1082.1,893.8 1083.1,893.8 1084.1,893.8 1085.1,893.8 1086.1,893.8 1087.1,893.8 1088.1,893.8 1089.1,893.8 1090.1,893.8 1091.1,893.8 1092.1,893.8 1093.1,893.8 1094.1,893.8 1095.1,893.8 1096.1,893.8 1097.1,893.8 1098.1,893.8 1099.1,893.8 1100.1,893.8 1101.1,893.8 1102.1,893.8 1103.1,893.8 1104.1,893.8 1105.1,893.8 1106.1,893.8 1107.1,893.8 1108.1,893.8 1109.1,893.8 1110.1,893.8 1111.1,893.8 1112.1,893.8 1113.1,893.8 1114.1,893.8 1115.1,893.8 1116.1,893.8 1117.1,893.8 1118.1,893.8 1119.1,893.8 1120.1,893.8 1121.1,893.8 1122.1,893.8 1123.1,893.8 1124.1,893.8 1125.1,893.8 1126.1,893.8 1127.1,893.8 1128.1,893.8 1129.1,893.8 1130.1,893.8 1131.1,893.8 1132.1,893.8 1133.1,893.8 1134.1,893.8 1135.1,893.8 1136.1,893.8 1137.1,893.8 1138.1,893.8 1139.1,893.8 1140.1,893.8 1141.1,893.8 1142.1,893.8 1143.1,893.8 1144.1,893.8 1145.1,893.8 1146.1,893.8 1147.1,893.8 1148.1,893.8 1149.1,893.8 1150.1,893.8 1151.1,893.8 1152.1,893.8 1153.1,893.8 1154.1,893.8 1155.1,893.8 1156.1,893.8 1157.1,893.8 1158.1,893.8 1159.1,893.8 1160.1,893.8 1161.1,893.8 1162.1,893.8 1163.1,893.8 1164.1,893.8 1165.1,893.8 1166.1,893.8 1167.1,893.8 1168.1,893.8 1169.1,893.8 1170.1,893.8 1171.1,893.8 1172.1,893.8 1173.1,893.8 1174.1,893.8 1175.1,893.8 1176.1,893.8 1177.1,893.8 1178.1,893.8 1179.1,893.8 1180.1,893.8 1181.1,893.8 1182.1,893.8 1183.1,893.8 1184.1,893.8 1185.1,893.8 1186.1,893.8 1187.1,893.8 1188.1,893.8 1189.1,893.8 1190.1,893.8 1191.1,893.8 1192.1,893.8 1193.1,893.8 1194.1,893.8 1195.1,893.8 1196.1,893.8 1197.1,893.8 1198.1,893.8 1199.1,893.8 1200.1,893.8 1201.1,893.8 1202.1,893.8 1203.1,893.8 1204.1,893.8 1205.1,893.8 1206.1,893.8 1207.1,893.8 1208.1,893.8 1209.1,893.8 1210.1,893.8 1211.1,893.8 1212.1,893.8 1213.1,893.8 1214.1,893.8 1215.1,893.8 1216.1,893.8 1217.1,893.8 1218.1,893.8 1219.1,893.8 1220.1,893.8 1221.1,893.8 1222.1,893.8 1223.1,893.8 1224.1,893.8 1225.1,893.8 1226.1,893.8 1227.1,893.8 1228.1,893.8 1229.1,893.8 1230.1,893.8 1231.1,893.8 1232.1,893.8 1233.1,893.8 1234.1,893.8 1235.1,893.8 1236.1,893.8 1237.1,893.8 1238.1,893.8 1239.1,893.8 1240.1,893.8 1241.1,893.8 1242.1,893.8 1243.1,893.8 1244.1,893.8 1245.1,893.8 1246.1,893.8 1247.1,893.8 1248.1,893.8 1249.1,893.8 1250.1,893.8 1251.1,893.8 1252.1,893.8 1253.1,893.8 1254.1,893.8 1255.1,893.8 1256.1,893.8 1257.1,893.8 1258.1,893.8 1259.1,893.8 1260.1,893.8 1261.1,893.8 1262.1,893.8 1263.1,893.8 1264.1,893.8 1265.1,893.8 1266.1,893.8 1267.1,893.8 1268.1,893.8 1269.1,893.8 1270.1,893.8 1271.1,893.8 1272.1,893.8 1273.1,893.8 1274.1,893.8 1275.1,893.8 1276.1,893.8 1277.1,893.8 1278.1,893.8 1279.1,893.8 1280.1,893.8 1281.1,893.8 1282.1,893.8 1283.1,893.8 1284.1,893.8 1285.1,893.8 1286.1,893.8 1287.1,893.8 1288.1,893.8 1289.1,893.8 1290.1,893.8 1291.1,893.8 1292.1,893.8 1293.1,893.8 1294.1,893.8 1295.1,893.8 1296.1,893.8 1297.1,893.8 1298.1,893.8 1299.1,893.8 1300.1,893.8 1301.1,893.8 1302.1,893.7 1303.1,893.7 1304.1,893.7 1305.1,893.7 1306.1,893.7 1307.1,893.7 1308.1,893.7 1309.1,893.7 1310.1,893.7 1311.1,893.7 1312.1,893.6 1313.1,893.6 1314.1,893.6 1315.1,893.6 1316.1,893.6 1317.1,893.6 1318.1,893.6 1319.1,893.5 1320.1,893.5 1321.1,893.5 1322.1,893.5 1323.1,893.5 1324.1,893.5 1325.1,893.4 1326.1,893.4 1327.1,893.4 1328.1,893.4 1329.1,893.4 1330.1,893.4 1331.1,893.3 1332.1,893.3 1333.1,893.3 1334.1,893.3 1335.1,893.3 1336.1,893.3 1337.1,893.2 1338.1,893.2 1339.1,893.2 1340.1,893.2 1341.1,893.2 1342.1,893.1 1343.1,893.1 1344.1,893.1 1345.1,893.1 1346.1,893.1 1347.1,893.0 1348.1,893.0 1349.1,893.0 1350.1,893.0 1351.1,893.0 1352.1,893.0 1353.1,892.9 1354.1,892.9 1355.1,892.9 1356.1,892.9 1357.1,892.9 1358.1,892.8 1359.1,892.8 1360.1,892.8 1361.1,892.8 1362.1,892.8 1363.1,892.8 1364.1,892.8 1365.1,892.7 1366.1,892.7 1367.1,892.7 1368.1,892.7 1369.1,892.7 1370.1,892.7 1371.1,892.7 1372.1,892.6 1373.1,892.6 1374.1,892.6 1375.1,892.6 1376.1,892.6 1377.1,892.6 1378.1,892.6 1379.1,892.6 1380.1,892.6 1381.1,892.6 1382.1,892.5 1383.1,892.5 1384.1,892.5 1385.1,892.5 1386.1,892.5 1387.1,892.5 1388.1,892.5 1389.1,892.5 1390.1,892.5 1391.1,892.5 1392.1,892.5 1393.1,892.5 1394.1,892.5 1395.1,892.5 1396.1,892.5 1397.1,892.5 1398.1,892.5 1399.1,892.5 1400.1,892.5 1401.1,892.5 1402.1,892.6 1403.1,892.6 1404.1,892.6 1405.1,892.6 1406.1,892.6 1407.1,892.7 1408.1,892.7 1409.1,892.7 1410.1,892.7 1411.1,892.8 1412.1,892.8 1413.1,892.8 1414.1,892.9 1415.1,892.9 1416.1,892.9 1417.1,893.0 1418.1,893.0 1419.1,893.1 1420.1,893.1 1421.1,893.1 1422.1,893.2 1423.1,893.2 1424.1,893.3 1425.1,893.3 1426.1,893.4 1427.1,893.5 1428.1,893.5 1429.1,893.7 1430.1,893.8 1431.1,894.0 1432.1,894.2 1433.1,894.4 1434.1,894.6 1435.1,894.9 1436.1,895.1 1437.1,895.4 1438.1,895.7 1439.1,896.1 1440.1,896.4 1441.1,896.8 1442.1,897.1 1443.1,897.5 1444.1,897.9 1445.1,898.4 1446.1,899.0 1447.1,899.6 1448.1,900.4 1449.1,901.2 1450.1,902.1 1451.1,903.0 1452.1,904.0 1453.1,905.1 1454.1,906.2 1455.1,907.3 1456.1,908.4 1457.1,909.7 1458.1,911.3 1459.1,913.2 1460.1,915.6 1461.1,919.2 1462.1,926.1 1463.1,935.4 1464.1,945.8 1465.1,957.5 1466.1,973.1 1467.1,986.7 1468.1,993.5 1469.1,998.4 1470.1,1002.0 1471.1,1004.1 1472.1,1005.3 1473.1,1006.1 1474.1,1006.7 1475.1,1007.2 1476.1,1008.0 1477.1,1009.2 1478.1,1012.2 1479.1,1017.9 1480.1,1024.8 1481.1,1031.6 1482.1,1037.8 1483.1,1045.1 1484.1,1051.1 1485.1,1053.3 1486.1,1050.6 1487.1,1044.8 1488.1,1037.2 1489.1,1028.4 1490.1,1015.8 1491.1,1000.6 1492.1,980.2 1493.1,957.6 1494.1,944.7 1495.1,935.6 1496.1,928.0 1497.1,922.1 1498.1,917.7 1499.1,914.5 1500.1,911.4 1501.1,908.6 1502.1,906.1 1503.1,904.1 1504.1,902.5 1505.1,901.4 1506.1,900.9 1507.1,900.9 1508.1,900.9 1509.1,901.0 1510.1,901.0 1511.1,901.1 1512.1,901.2 1513.1,901.2 1514.1,901.3 1515.1,901.3 1516.1,901.3 1517.1,901.1 1518.1,900.8 1519.1,900.4 1520.1,899.9 1521.1,899.3 1522.1,898.6 1523.1,898.0 1524.1,897.3 1525.1,896.7 1526.1,896.2 1527.1,895.7 1528.1,895.3 1529.1,895.1 1530.1,895.1 1531.1,895.2 1532.1,895.3 1533.1,895.5 1534.1,895.7 1535.1,895.9 1536.1,896.1 1537.1,896.4 1538.1,896.6 1539.1,896.8 1540.1,896.9 1541.1,897.0 1542.1,897.0 1543.1,897.1 1544.1,897.1 1545.1,897.2 1546.1,897.2 1547.1,897.2 1548.1,897.2 1549.1,897.3 1550.1,897.3 1551.1,897.3 1552.1,897.4 1553.1,897.4 1554.1,897.5 1555.1,897.5 1556.1,897.6 1557.1,897.7 1558.1,897.9 1559.1,898.7 1560.1,900.1 1561.1,902.0 1562.1,904.2 1563.1,906.5 1564.1,909.9 1565.1,914.6 1566.1,919.6 1567.1,923.7 1568.1,925.7 1569.1,925.2 1570.1,923.2 1571.1,920.3 1572.1,917.1 1573.1,914.0 1574.1,910.0 1575.1,905.7 1576.1,901.8 1577.1,899.5 1578.1,898.3 1579.1,897.2 1580.1,896.2 1581.1,895.4 1582.1,894.7 1583.1,894.1 1584.1,893.7 1585.1,893.5 1586.1,893.4 1587.1,893.5 1588.1,893.7 1589.1,894.1 1590.1,894.5 1591.1,895.0 1592.1,895.6 1593.1,896.1 1594.1,897.1 1595.1,898.5 1596.1,899.8 1597.1,900.9 1598.1,901.3 1599.1,901.2 1600.1,901.1 1601.1,900.8 1602.1,900.5 1603.1,900.2 1604.1,899.9 1605.1,899.7 1606.1,899.5 1607.1,899.5 1608.1,899.9 1609.1,900.5 1610.1,901.4 1611.1,902.2 1612.1,902.8 1613.1,903.0 1614.1,902.7 1615.1,901.9 1616.1,900.8 1617.1,899.7 1618.1,898.7 1619.1,898.0 1620.1,897.8 1621.1,898.3 1622.1,899.4 1623.1,901.0 1624.1,903.0 1625.1,905.3 1626.1,907.8 1627.1,911.0 1628.1,915.7 1629.1,921.0 1630.1,925.9 1631.1,929.6 1632.1,932.5 1633.1,935.1 1634.1,937.5 1635.1,939.8 1636.1,942.2 1637.1,944.6 1638.1,947.4 1639.1,950.8 1640.1,954.4 1641.1,958.0 1642.1,961.3 1643.1,963.9 1644.1,965.5 1645.1,966.0 1646.1,965.0 1647.1,962.9 1648.1,959.9 1649.1,956.4 1650.1,952.5 1651.1,948.0 1652.1,941.0 1653.1,932.9 1654.1,925.7 1655.1,921.1 1656.1,918.5 1657.1,916.2 1658.1,914.0 1659.1,912.2 1660.1,910.6 1661.1,909.4 1662.1,908.5 1663.1,908.1 1664.1,908.1 1665.1,908.6 1666.1,909.6 1667.1,910.9 1668.1,912.4 1669.1,914.1 1670.1,915.9 1671.1,917.6 1672.1,919.5 1673.1,921.7 1674.1,924.1 1675.1,926.7 1676.1,929.4 1677.1,932.2 1678.1,934.9 1679.1,937.6 1680.1,940.0 1681.1,942.4 1682.1,945.0 1683.1,947.8 1684.1,951.2 1685.1,955.2 1686.1,960.9 1687.1,968.3 1688.1,977.0 1689.1,986.4 1690.1,996.5 1691.1,1011.2 1692.1,1026.3 1693.1,1036.0 1694.1,1035.2 1695.1,1026.4 1696.1,1014.0 1697.1,1002.4 1698.1,992.2 1699.1,980.6 1700.1,970.0 1701.1,962.5 1702.1,960.4 1703.1,961.6 1704.1,963.9 1705.1,966.6 1706.1,969.0 1707.1,970.6 1708.1,972.2 1709.1,973.7 1710.1,974.8 1711.1,975.3 1712.1,973.8 1713.1,969.4 1714.1,963.6 1715.1,958.1 1716.1,954.2 1717.1,950.9 1718.1,947.8 1719.1,945.3 1720.1,943.8 1721.1,943.7 1722.1,944.4 1723.1,945.8 1724.1,947.6 1725.1,949.8 1726.1,952.2 1727.1,954.8 1728.1,958.0 1729.1,962.2 1730.1,967.3 1731.1,973.0 1732.1,979.1 1733.1,985.6 1734.1,995.0 1735.1,1006.1 1736.1,1016.8 1737.1,1025.2 1738.1,1029.4 1739.1,1029.4 1740.1,1029.2 1741.1,1028.8 1742.1,1028.4 1743.1,1028.0 1744.1,1027.8 1745.1,1027.9 1746.1,1034.1 1747.1,1046.2 1748.1,1060.3 1749.1,1073.7 1750.1,1089.6 1751.1,1106.1 1752.1,1120.6 1753.1,1133.0 1754.1,1141.7 1755.1,1136.5 1756.1,1121.2 1757.1,1105.5 1758.1,1088.4 1759.1,1072.3 1760.1,1056.6 1761.1,1040.8 1762.1,1024.1 1763.1,1008.7 1764.1,996.8 1765.1,987.2 1766.1,978.6 1767.1,971.7 1768.1,967.0 1769.1,964.6 1770.1,962.7 1771.1,961.1 1772.1,959.9 1773.1,959.3 1774.1,959.8 1775.1,964.1 1776.1,971.5 1777.1,980.6 1778.1,990.0 1779.1,1002.5 1780.1,1016.9 1781.1,1028.4 1782.1,1039.7 1783.1,1048.2 1784.1,1049.8 1785.1,1041.1 1786.1,1026.3 1787.1,1010.1 1788.1,987.1 1789.1,966.3 1790.1,956.7 1791.1,949.7 1792.1,944.3 1793.1,940.3 1794.1,937.4 1795.1,934.9 1796.1,932.7 1797.1,931.0 1798.1,929.8 1799.1,929.4 1800.1,930.0 1801.1,931.6 1802.1,934.1 1803.1,937.2 1804.1,940.9 1805.1,944.8 1806.1,950.4 1807.1,958.5 1808.1,967.0 1809.1,974.1 1810.1,979.9 1811.1,985.3 1812.1,991.1 1813.1,997.8 1814.1,1006.6 1815.1,1017.2 1816.1,1028.1 1817.1,1038.2 1818.1,1046.4 1819.1,1054.2 1820.1,1061.5 1821.1,1068.1 1822.1,1073.8 1823.1,1078.4 1824.1,1081.9 1825.1,1084.8 1826.1,1087.6 1827.1,1090.7 1828.1,1094.6 1829.1,1099.8 1830.1,1105.9 1831.1,1112.8 1832.1,1120.2 1833.1,1127.8 1834.1,1136.5 1835.1,1144.4 1836.1,1149.3 1837.1,1153.4 1838.1,1156.9 1839.1,1160.0 1840.1,1163.1 1841.1,1166.5 1842.1,1170.5 1843.1,1174.9 1844.1,1179.4 1845.1,1184.2 1846.1,1189.4 1847.1,1195.2 1848.1,1202.1 1849.1,1210.5 1850.1,1219.8 1851.1,1229.0 1852.1,1237.4 1853.1,1244.6 1854.1,1251.8 1855.1,1258.7 1856.1,1264.8 1857.1,1269.5 1858.1,1272.5 1859.1,1274.9 1860.1,1276.9 1861.1,1278.3 1862.1,1278.9 1863.1,1278.4 1864.1,1276.7 1865.1,1274.2 1866.1,1271.1 1867.1,1267.9 1868.1,1264.5 1869.1,1260.1 1870.1,1254.9 1871.1,1249.4 1872.1,1243.7 1873.1,1238.1 1874.1,1232.1 1875.1,1225.9 1876.1,1219.7 1877.1,1214.0 1878.1,1208.9 1879.1,1204.3 1880.1,1199.8 1881.1,1195.0 1882.1,1189.5 1883.1,1183.1 1884.1,1175.5 1885.1,1167.1 1886.1,1158.2 1887.1,1148.9 1888.1,1139.2 1889.1,1128.5 1890.1,1115.5 1891.1,1097.3 1892.1,1079.2 1893.1,1060.6 1894.1,1045.9 1895.1,1038.8 1896.1,1033.7 1897.1,1029.6 1898.1,1026.5 1899.1,1024.6 1900.1,1024.2 1901.1,1027.3 1902.1,1033.7 1903.1,1041.5 1904.1,1049.1 1905.1,1056.6 1906.1,1066.0 1907.1,1074.9 1908.1,1080.9 1909.1,1081.3 1910.1,1074.4 1911.1,1063.2 1912.1,1051.5 1913.1,1039.7 1914.1,1026.2 1915.1,1013.2 1916.1,1002.7 1917.1,993.4 1918.1,985.0 1919.1,977.6 1920.1,971.5 1921.1,966.1 1922.1,961.2 1923.1,957.1 1924.1,954.4 1925.1,953.2 1926.1,952.2 1927.1,951.4 1928.1,950.9 1929.1,950.6 1930.1,950.8 1931.1,953.7 1932.1,959.1 1933.1,966.1 1934.1,973.7 1935.1,981.0 1936.1,991.3 1937.1,1003.1 1938.1,1010.9 1939.1,1009.3 1940.1,997.1 1941.1,981.7 1942.1,970.8 1943.1,963.5 1944.1,956.7 1945.1,951.0 1946.1,946.9 1947.1,945.2 1948.1,946.6 1949.1,950.7 1950.1,956.6 1951.1,963.2 1952.1,969.4 1953.1,974.6 1954.1,980.1 1955.1,985.7 1956.1,991.0 1957.1,995.4 1958.1,998.7 1959.1,1001.6 1960.1,1004.3 1961.1,1006.7 1962.1,1008.6 1963.1,1009.8 1964.1,1010.1 1965.1,1009.1 1966.1,1007.1 1967.1,1004.6 1968.1,1001.8 1969.1,999.4 1970.1,997.7 1971.1,996.6 1972.1,995.9 1973.1,995.2 1974.1,994.2 1975.1,992.9 1976.1,989.0 1977.1,980.4 1978.1,969.2 1979.1,958.1 1980.1,949.3 1981.1,942.0 1982.1,935.5 1983.1,930.8 1984.1,927.7 1985.1,925.0 1986.1,922.8 1987.1,921.4 1988.1,921.0 1989.1,921.9 1990.1,923.7 1991.1,926.2 1992.1,929.0 1993.1,932.3 1994.1,937.5 1995.1,943.0 1996.1,947.4 1997.1,951.3 1998.1,954.5 1999.1,955.8 2000.1,956.2 2001.1,956.4 2002.1,956.6 2003.1,956.8 2004.1,957.0 2005.1,957.3 2006.1,957.6 2007.1,958.1 2008.1,958.7 2009.1,959.5 2010.1,960.5 2011.1,964.0 2012.1,969.5 2013.1,974.6 2014.1,979.1 2015.1,983.8 2016.1,987.4 2017.1,988.9 2018.1,988.5 2019.1,987.6 2020.1,986.3 2021.1,985.0 2022.1,983.8 2023.1,982.8 2024.1,981.8 2025.1,980.6 2026.1,978.9 2027.1,975.8 2028.1,968.4 2029.1,960.5 2030.1,952.6 2031.1,944.7 2032.1,938.4 2033.1,933.7 2034.1,929.6 2035.1,926.0 2036.1,922.9 2037.1,920.2 2038.1,917.6 2039.1,915.2 2040.1,913.2 2041.1,911.8 2042.1,911.1 2043.1,910.5 2044.1,909.9 2045.1,909.4 2046.1,909.0 2047.1,908.7 2048.1,908.5 2049.1,908.4 2050.1,908.9 2051.1,911.3 2052.1,915.4 2053.1,920.8 2054.1,930.7 2055.1,950.1 2056.1,969.6 2057.1,990.2 2058.1,1009.4 2059.1,1021.4 2060.1,1005.2 2061.1,981.7 2062.1,962.9 2063.1,945.2 2064.1,932.7 2065.1,922.4 2066.1,914.7 2067.1,910.7 2068.1,908.3 2069.1,906.5 2070.1,905.2 2071.1,904.0 2072.1,903.0 2073.1,902.1 2074.1,901.4 2075.1,900.7 2076.1,900.0 2077.1,899.4 2078.1,898.7 2079.1,897.9 2080.1,897.1 2081.1,896.2 2082.1,895.4 2083.1,894.6 2084.1,893.9 2085.1,893.3 2086.1,892.9 2087.1,892.6 2088.1,892.5 2089.1,892.4 2090.1,892.3 2091.1,892.2 2092.1,892.1 2093.1,892.0 2094.1,892.0 2095.1,891.9 2096.1,891.9 2097.1,891.8 2098.1,891.8 2099.1,891.8 2100.1,891.8 2101.1,891.8 2102.1,891.8 2103.1,891.9 2104.1,892.0 2105.1,892.1 2106.1,892.2 2107.1,892.3 2108.1,892.4 2109.1,892.6 2110.1,892.8 2111.1,893.4 2112.1,894.2 2113.1,895.2 2114.1,896.1 2115.1,896.9 2116.1,897.5 2117.1,898.1 2118.1,898.7 2119.1,899.2 2120.1,899.5 2121.1,899.7 2122.1,899.4 2123.1,898.6 2124.1,897.5 2125.1,896.2 2126.1,895.0 2127.1,894.0 2128.1,893.4 2129.1,893.3 2130.1,893.1 2131.1,893.0 2132.1,892.9 2133.1,892.8 2134.1,892.7 2135.1,892.7 2136.1,892.6 2137.1,892.6 2138.1,892.6 2139.1,893.2 2140.1,894.3 2141.1,895.6 2142.1,896.9 2143.1,898.0 2144.1,899.3 2145.1,900.5 2146.1,901.6 2147.1,902.1 2148.1,901.9 2149.1,901.1 2150.1,900.0 2151.1,898.7 2152.1,897.3 2153.1,896.2 2154.1,895.3 2155.1,894.3 2156.1,893.4 2157.1,892.6 2158.1,892.0 2159.1,891.8 2160.1,891.9 2161.1,892.2 2162.1,892.7 2163.1,893.3 2164.1,893.9 2165.1,894.6 2166.1,895.2 2167.1,895.7 2168.1,896.2 2169.1,896.5 2170.1,896.6 2171.1,896.7 2172.1,896.8 2173.1,896.9 2174.1,897.0 2175.1,897.0 2176.1,897.1 2177.1,897.2 2178.1,897.2 2179.1,897.3 2180.1,897.3 2181.1,897.3 2182.1,897.3 2183.1,897.3 2184.1,897.2 2185.1,897.1 2186.1,897.0 2187.1,896.9 2188.1,896.8 2189.1,896.6 2190.1,896.5 2191.1,896.3 2192.1,896.2 2193.1,896.0 2194.1,895.9 2195.1,895.8 2196.1,895.8 2197.1,895.7 2198.1,895.7 2199.1,896.0 2200.1,896.5 2201.1,897.2 2202.1,897.9 2203.1,898.5 2204.1,898.9 2205.1,899.2 2206.1,899.5 2207.1,899.8 2208.1,900.0 2209.1,900.2 2210.1,900.4 2211.1,900.5 2212.1,900.5 2213.1,899.9 2214.1,898.5 2215.1,896.8 2216.1,895.1 2217.1,893.7 2218.1,892.4 2219.1,891.2 2219.9,890.2"/>
<polyline fill="none" stroke="#00ff00" stroke-width="4.0" stroke-linejoin="round" stroke-linecap="round" points="111.1,1094.3 112.1,1094.3 113.1,1094.4 114.1,1094.4 115.1,1094.5 116.1,1094.5 117.1,1094.6 118.1,1094.6 119.1,1094.6 120.1,1094.7 121.1,1094.7 122.1,1094.8 123.1,1094.8 124.1,1094.8 125.1,1094.9 126.1,1094.9 127.1,1095.0 128.1,1095.0 129.1,1095.0 130.1,1095.1 131.1,1095.1 132.1,1095.2 133.1,1095.2 134.1,1095.2 135.1,1095.3 136.1,1095.3 137.1,1095.4 138.1,1095.4 139.1,1095.4 140.1,1095.5 141.1,1095.5 142.1,1095.6 143.1,1095.6 144.1,1095.6 145.1,1095.7 146.1,1095.7 147.1,1095.7 148.1,1095.8 149.1,1095.8 150.1,1095.9 151.1,1095.9 152.1,1095.9 153.1,1096.0 154.1,1096.0 155.1,1096.0 156.1,1096.1 157.1,1096.1 158.1,1096.1 159.1,1096.2 160.1,1096.2 161.1,1096.2 162.1,1096.3 163.1,1096.3 164.1,1096.3 165.1,1096.3 166.1,1096.4 167.1,1096.4 168.1,1096.4 169.1,1096.5 170.1,1096.5 171.1,1096.5 172.1,1096.5 173.1,1096.6 174.1,1096.6 175.1,1096.6 176.1,1096.6 177.1,1096.7 178.1,1096.7 179.1,1096.7 180.1,1096.7 181.1,1096.8 182.1,1096.8 183.1,1096.8 184.1,1096.8 185.1,1096.8 186.1,1096.9 187.1,1096.9 188.1,1096.9 189.1,1096.9 190.1,1096.9 191.1,1096.9 192.1,1097.0 193.1,1097.0 194.1,1097.0 195.1,1097.0 196.1,1097.0 197.1,1097.0 198.1,1097.0 199.1,1097.0 200.1,1097.0 201.1,1097.1 202.1,1097.1 203.1,1097.1 204.1,1097.1 205.1,1097.1 206.1,1097.1 207.1,1097.1 208.1,1097.1 209.1,1097.1 210.1,1097.1 211.1,1097.1 212.1,1097.1 213.1,1097.1 214.1,1097.1 215.1,1097.1 216.1,1097.1 217.1,1097.1 218.1,1097.1 219.1,1097.1 220.1,1097.1 221.1,1097.1 222.1,1097.1 223.1,1097.1 224.1,1097.1 225.1,1097.1 226.1,1097.1 227.1,1097.1 228.1,1097.1 229.1,1097.1 230.1,1097.1 231.1,1097.1 232.1,1097.1 233.1,1097.1 234.1,1097.1 235.1,1097.1 236.1,1097.1 237.1,1097.1 238.1,1097.1 239.1,1097.1 240.1,1097.1 241.1,1097.1 242.1,1097.1 243.1,1097.1 244.1,1097.1 245.1,1097.1 246.1,1097.1 247.1,1097.1 248.1,1097.1 249.1,1097.1 250.1,1097.1 251.1,1097.1 252.1,1097.1 253.1,1097.1 254.1,1097.1 255.1,1097.1 256.1,1097.1 257.1,1097.1 258.1,1097.1 259.1,1097.1 260.1,1097.1 261.1,1097.1 262.1,1097.1 263.1,1097.1 264.1,1097.1 265.1,1097.1 266.1,1097.1 267.1,1097.1 268.1,1097.1 269.1,1097.1 270.1,1097.1 271.1,1097.1 272.1,1097.1 273.1,1097.1 274.1,1097.1 275.1,1097.1 276.1,1097.1 277.1,1097.1 278.1,1097.1 279.1,1097.1 280.1,1097.1 281.1,1097.1 282.1,1097.1 283.1,1097.1 284.1,1097.1 285.1,1097.1 286.1,1097.1 287.1,1097.1 288.1,1097.1 289.1,1097.1 290.1,1097.1 291.1,1097.1 292.1,1097.1 293.1,1097.1 294.1,1097.1 295.1,1097.1 296.1,1097.1 297.1,1097.1 298.1,1097.1 299.1,1097.1 300.1,1097.1 301.1,1097.1 302.1,1097.1 303.1,1097.1 304.1,1097.1 305.1,1097.1 306.1,1097.1 307.1,1097.1 308.1,1097.1 309.1,1097.1 310.1,1097.1 311.1,1097.1 312.1,1097.1 313.1,1097.2 314.1,1097.2 315.1,1097.3 316.1,1097.3 317.1,1097.4 318.1,1097.4 319.1,1097.5 320.1,1097.6 321.1,1097.7 322.1,1097.7 323.1,1097.8 324.1,1097.9 325.1,1098.0 326.1,1098.1 327.1,1098.2 328.1,1098.3 329.1,1098.5 330.1,1098.6 331.1,1098.7 332.1,1098.8 333.1,1098.9 334.1,1099.1 335.1,1099.2 336.1,1099.3 337.1,1099.5 338.1,1099.6 339.1,1099.7 340.1,1099.9 341.1,1100.0 342.1,1100.1 343.1,1100.3 344.1,1100.4 345.1,1100.5 346.1,1100.6 347.1,1100.8 348.1,1100.9 349.1,1101.0 350.1,1101.2 351.1,1101.3 352.1,1101.4 353.1,1101.5 354.1,1101.6 355.1,1101.7 356.1,1101.9 357.1,1102.0 358.1,1102.1 359.1,1102.2 360.1,1102.4 361.1,1102.5 362.1,1102.6 363.1,1102.7 364.1,1102.9 365.1,1103.0 366.1,1103.2 367.1,1103.3 368.1,1103.5 369.1,1103.6 370.1,1103.8 371.1,1104.0 372.1,1104.1 373.1,1104.3 374.1,1104.5 375.1,1104.7 376.1,1104.9 377.1,1105.1 378.1,1105.4 379.1,1105.6 380.1,1105.9 381.1,1106.2 382.1,1106.5 383.1,1106.9 384.1,1107.3 385.1,1107.8 386.1,1108.2 387.1,1108.7 388.1,1109.2 389.1,1109.7 390.1,1110.2 391.1,1110.7 392.1,1111.2 393.1,1111.7 394.1,1112.2 395.1,1112.7 396.1,1113.2 397.1,1113.7 398.1,1114.1 399.1,1114.5 400.1,1114.9 401.1,1115.3 402.1,1115.7 403.1,1116.1 404.1,1116.5 405.1,1116.9 406.1,1117.3 407.1,1117.7 408.1,1118.2 409.1,1118.6 410.1,1119.0 411.1,1119.4 412.1,1119.8 413.1,1120.1 414.1,1120.5 415.1,1120.8 416.1,1121.1 417.1,1121.4 418.1,1121.6 419.1,1121.8 420.1,1121.9 421.1,1122.0 422.1,1122.1 423.1,1122.1 424.1,1122.1 425.1,1122.0 426.1,1122.0 427.1,1121.9 428.1,1121.8 429.1,1121.7 430.1,1121.6 431.1,1121.4 432.1,1121.3 433.1,1121.1 434.1,1120.9 435.1,1120.7 436.1,1120.5 437.1,1120.3 438.1,1120.1 439.1,1119.9 440.1,1119.7 441.1,1119.5 442.1,1119.3 443.1,1119.1 444.1,1118.9 445.1,1118.6 446.1,1118.4 447.1,1118.1 448.1,1117.7 449.1,1117.4 450.1,1117.1 451.1,1116.7 452.1,1116.3 453.1,1115.9 454.1,1115.5 455.1,1115.1 456.1,1114.7 457.1,1114.3 458.1,1113.9 459.1,1113.5 460.1,1113.1 461.1,1112.7 462.1,1112.3 463.1,1111.9 464.1,1111.6 465.1,1111.2 466.1,1110.9 467.1,1110.5 468.1,1110.2 469.1,1109.9 470.1,1109.6 471.1,1109.4 472.1,1109.1 473.1,1108.8 474.1,1108.6 475.1,1108.3 476.1,1108.1 477.1,1107.8 478.1,1107.6 479.1,1107.4 480.1,1107.1 481.1,1106.9 482.1,1106.6 483.1,1106.4 484.1,1106.2 485.1,1106.0 486.1,1105.7 487.1,1105.5 488.1,1105.3 489.1,1105.1 490.1,1104.9 491.1,1104.7 492.1,1104.5 493.1,1104.3 494.1,1104.1 495.1,1104.0 496.1,1103.8 497.1,1103.6 498.1,1103.4 499.1,1103.3 500.1,1103.1 501.1,1103.0 502.1,1102.8 503.1,1102.7 504.1,1102.5 505.1,1102.4 506.1,1102.3 507.1,1102.1 508.1,1102.0 509.1,1101.8 510.1,1101.7 511.1,1101.6 512.1,1101.4 513.1,1101.3 514.1,1101.2 515.1,1101.0 516.1,1100.9 517.1,1100.8 518.1,1100.6 519.1,1100.5 520.1,1100.4 521.1,1100.3 522.1,1100.1 523.1,1100.0 524.1,1099.9 525.1,1099.8 526.1,1099.7 527.1,1099.6 528.1,1099.5 529.1,1099.4 530.1,1099.3 531.1,1099.2 532.1,1099.1 533.1,1099.0 534.1,1098.9 535.1,1098.9 536.1,1098.8 537.1,1098.7 538.1,1098.7 539.1,1098.6 540.1,1098.6 541.1,1098.5 542.1,1098.5 543.1,1098.5 544.1,1098.4 545.1,1098.4 546.1,1098.4 547.1,1098.4 548.1,1098.4 549.1,1098.3 550.1,1098.3 551.1,1098.3 552.1,1098.3 553.1,1098.3 554.1,1098.3 555.1,1098.2 556.1,1098.2 557.1,1098.2 558.1,1098.2 559.1,1098.2 560.1,1098.2 561.1,1098.2 562.1,1098.2 563.1,1098.1 564.1,1098.1 565.1,1098.1 566.1,1098.1 567.1,1098.1 568.1,1098.1 569.1,1098.1 570.1,1098.1 571.1,1098.0 572.1,1098.0 573.1,1098.0 574.1,1098.0 575.1,1098.0 576.1,1098.0 577.1,1098.0 578.1,1098.0 579.1,1098.0 580.1,1098.0 581.1,1098.0 582.1,1098.0 583.1,1098.0 584.1,1097.9 585.1,1097.9 586.1,1097.9 587.1,1097.9 588.1,1097.9 589.1,1097.9 590.1,1097.9 591.1,1097.9 592.1,1097.9 593.1,1097.9 594.1,1097.9 595.1,1097.9 596.1,1097.9 597.1,1097.9 598.1,1097.9 599.1,1097.9 600.1,1097.9 601.1,1097.9 602.1,1097.9 603.1,1097.9 604.1,1097.9 605.1,1097.9 606.1,1097.9 607.1,1097.9 608.1,1097.9 609.1,1097.9 610.1,1097.9 611.1,1097.9 612.1,1097.9 613.1,1097.9 614.1,1097.9 615.1,1097.9 616.1,1097.9 617.1,1097.9 618.1,1097.9 619.1,1097.9 620.1,1097.9 621.1,1097.9 622.1,1097.9 623.1,1097.9 624.1,1097.9 625.1,1097.9 626.1,1097.9 627.1,1097.9 628.1,1097.9 629.1,1097.9 630.1,1097.9 631.1,1097.9 632.1,1097.9 633.1,1098.0 634.1,1098.0 635.1,1098.0 636.1,1098.0 637.1,1098.0 638.1,1098.0 639.1,1098.0 640.1,1098.0 641.1,1098.0 642.1,1098.0 643.1,1098.0 644.1,1098.0 645.1,1098.0 646.1,1098.0 647.1,1098.0 648.1,1098.0 649.1,1098.0 650.1,1098.0 651.1,1098.0 652.1,1098.1 653.1,1098.1 654.1,1098.1 655.1,1098.1 656.1,1098.1 657.1,1098.1 658.1,1098.1 659.1,1098.1 660.1,1098.1 661.1,1098.1 662.1,1098.1 663.1,1098.1 664.1,1098.2 665.1,1098.2 666.1,1098.2 667.1,1098.2 668.1,1098.2 669.1,1098.2 670.1,1098.2 671.1,1098.2 672.1,1098.2 673.1,1098.2 674.1,1098.3 675.1,1098.3 676.1,1098.3 677.1,1098.3 678.1,1098.3 679.1,1098.3 680.1,1098.3 681.1,1098.4 682.1,1098.4 683.1,1098.4 684.1,1098.4 685.1,1098.4 686.1,1098.5 687.1,1098.5 688.1,1098.6 689.1,1098.8 690.1,1098.9 691.1,1099.1 692.1,1099.3 693.1,1099.5 694.1,1099.7 695.1,1099.9 696.1,1100.1 697.1,1100.4 698.1,1100.7 699.1,1101.0 700.1,1101.4 701.1,1101.8 702.1,1102.3 703.1,1102.9 704.1,1103.6 705.1,1104.3 706.1,1105.0 707.1,1105.9 708.1,1106.9 709.1,1108.3 710.1,1109.9 711.1,1111.7 712.1,1113.8 713.1,1116.1 714.1,1119.0 715.1,1122.5 716.1,1126.6 717.1,1131.2 718.1,1136.4 719.1,1142.8 720.1,1150.0 721.1,1157.5 722.1,1165.5 723.1,1174.1 724.1,1182.7 725.1,1191.4 726.1,1200.8 727.1,1209.3 728.1,1215.4 729.1,1220.6 730.1,1224.8 731.1,1227.2 732.1,1225.8 733.1,1219.5 734.1,1211.1 735.1,1201.3 736.1,1188.0 737.1,1175.5 738.1,1165.8 739.1,1157.9 740.1,1155.1 741.1,1153.7 742.1,1152.8 743.1,1152.5 744.1,1153.3 745.1,1155.3 746.1,1158.2 747.1,1161.5 748.1,1166.3 749.1,1173.1 750.1,1179.4 751.1,1185.3 752.1,1191.2 753.1,1195.1 754.1,1195.7 755.1,1195.7 756.1,1195.7 757.1,1195.7 758.1,1195.2 759.1,1193.9 760.1,1192.4 761.1,1191.3 762.1,1191.0 763.1,1191.5 764.1,1192.4 765.1,1193.7 766.1,1195.1 767.1,1196.8 768.1,1199.4 769.1,1202.5 770.1,1205.6 771.1,1208.4 772.1,1210.8 773.1,1213.3 774.1,1215.6 775.1,1217.3 776.1,1218.0 777.1,1218.2 778.1,1218.4 779.1,1218.5 780.1,1218.6 781.1,1218.7 782.1,1218.9 783.1,1219.2 784.1,1220.2 785.1,1221.8 786.1,1223.7 787.1,1225.5 788.1,1227.0 789.1,1228.7 790.1,1230.5 791.1,1231.9 792.1,1232.9 793.1,1233.1 794.1,1232.5 795.1,1231.5 796.1,1229.9 797.1,1228.0 798.1,1223.9 799.1,1217.7 800.1,1210.7 801.1,1203.2 802.1,1194.2 803.1,1185.3 804.1,1178.2 805.1,1172.6 806.1,1167.7 807.1,1163.1 808.1,1158.8 809.1,1154.6 810.1,1150.7 811.1,1147.1 812.1,1143.5 813.1,1140.0 814.1,1136.7 815.1,1133.8 816.1,1131.4 817.1,1129.1 818.1,1127.0 819.1,1125.1 820.1,1123.5 821.1,1122.4 822.1,1121.6 823.1,1121.0 824.1,1120.4 825.1,1120.0 826.1,1119.6 827.1,1119.3 828.1,1119.0 829.1,1118.7 830.1,1118.4 831.1,1118.2 832.1,1118.0 833.1,1117.8 834.1,1117.6 835.1,1117.4 836.1,1117.2 837.1,1117.0 838.1,1116.7 839.1,1116.5 840.1,1116.2 841.1,1115.9 842.1,1115.6 843.1,1115.3 844.1,1114.9 845.1,1114.6 846.1,1114.2 847.1,1113.8 848.1,1113.3 849.1,1112.9 850.1,1112.5 851.1,1112.1 852.1,1111.6 853.1,1111.2 854.1,1110.8 855.1,1110.5 856.1,1110.1 857.1,1109.8 858.1,1109.5 859.1,1109.1 860.1,1108.8 861.1,1108.5 862.1,1108.2 863.1,1107.9 864.1,1107.7 865.1,1107.4 866.1,1107.1 867.1,1106.9 868.1,1106.6 869.1,1106.4 870.1,1106.1 871.1,1105.9 872.1,1105.7 873.1,1105.5 874.1,1105.2 875.1,1105.1 876.1,1104.9 877.1,1104.7 878.1,1104.6 879.1,1104.5 880.1,1104.3 881.1,1104.2 882.1,1104.1 883.1,1104.1 884.1,1104.0 885.1,1103.9 886.1,1103.8 887.1,1103.7 888.1,1103.7 889.1,1103.6 890.1,1103.5 891.1,1103.5 892.1,1103.4 893.1,1103.3 894.1,1103.3 895.1,1103.2 896.1,1103.2 897.1,1103.1 898.1,1103.0 899.1,1103.0 900.1,1102.9 901.1,1102.8 902.1,1102.7 903.1,1102.7 904.1,1102.6 905.1,1102.5 906.1,1102.4 907.1,1102.4 908.1,1102.3 909.1,1102.2 910.1,1102.1 911.1,1102.0 912.1,1101.9 913.1,1101.9 914.1,1101.8 915.1,1101.7 916.1,1101.6 917.1,1101.5 918.1,1101.4 919.1,1101.3 920.1,1101.2 921.1,1101.2 922.1,1101.1 923.1,1101.0 924.1,1100.9 925.1,1100.8 926.1,1100.7 927.1,1100.6 928.1,1100.5 929.1,1100.4 930.1,1100.4 931.1,1100.3 932.1,1100.2 933.1,1100.1 934.1,1100.0 935.1,1099.9 936.1,1099.8 937.1,1099.8 938.1,1099.7 939.1,1099.6 940.1,1099.5 941.1,1099.4 942.1,1099.3 943.1,1099.3 944.1,1099.2 945.1,1099.1 946.1,1099.0 947.1,1099.0 948.1,1098.9 949.1,1098.8 950.1,1098.8 951.1,1098.7 952.1,1098.6 953.1,1098.6 954.1,1098.5 955.1,1098.4 956.1,1098.4 957.1,1098.3 958.1,1098.3 959.1,1098.2 960.1,1098.2 961.1,1098.1 962.1,1098.1 963.1,1098.0 964.1,1098.0 965.1,1097.9 966.1,1097.9 967.1,1097.9 968.1,1097.8 969.1,1097.8 970.1,1097.8 971.1,1097.8 972.1,1097.8 973.1,1097.7 974.1,1097.7 975.1,1097.7 976.1,1097.7 977.1,1097.7 978.1,1097.7 979.1,1097.7 980.1,1097.7 981.1,1097.7 982.1,1097.7 983.1,1097.7 984.1,1097.7 985.1,1097.7 986.1,1097.7 987.1,1097.7 988.1,1097.7 989.1,1097.7 990.1,1097.7 991.1,1097.7 992.1,1097.7 993.1,1097.7 994.1,1097.7 995.1,1097.7 996.1,1097.7 997.1,1097.7 998.1,1097.7 999.1,1097.7 1000.1,1097.7 1001.1,1097.7 1002.1,1097.7 1003.1,1097.7 1004.1,1097.7 1005.1,1097.7 1006.1,1097.7 1007.1,1097.7 1008.1,1097.7 1009.1,1097.7 1010.1,1097.7 1011.1,1097.7 1012.1,1097.7 1013.1,1097.7 1014.1,1097.7 1015.1,1097.7 1016.1,1097.7 1017.1,1097.7 1018.1,1097.7 1019.1,1097.7 1020.1,1097.7 1021.1,1097.7 1022.1,1097.7 1023.1,1097.7 1024.1,1097.7 1025.1,1097.7 1026.1,1097.7 1027.1,1097.7 1028.1,1097.7 1029.1,1097.7 1030.1,1097.7 1031.1,1097.7 1032.1,1097.7 1033.1,1097.7 1034.1,1097.7 1035.1,1097.7 1036.1,1097.7 1037.1,1097.7 1038.1,1097.7 1039.1,1097.7 1040.1,1097.7 1041.1,1097.7 1042.1,1097.7 1043.1,1097.7 1044.1,1097.7 1045.1,1097.7 1046.1,1097.7 1047.1,1097.7 1048.1,1097.7 1049.1,1097.7 1050.1,1097.7 1051.1,1097.7 1052.1,1097.7 1053.1,1097.7 1054.1,1097.7 1055.1,1097.7 1056.1,1097.7 1057.1,1097.7 1058.1,1097.7 1059.1,1097.7 1060.1,1097.7 1061.1,1097.7 1062.1,1097.7 1063.1,1097.7 1064.1,1097.7 1065.1,1097.7 1066.1,1097.7 1067.1,1097.7 1068.1,1097.7 1069.1,1097.7 1070.1,1097.7 1071.1,1097.7 1072.1,1097.7 1073.1,1097.7 1074.1,1097.7 1075.1,1097.7 1076.1,1097.7 1077.1,1097.7 1078.1,1097.7 1079.1,1097.7 1080.1,1097.7 1081.1,1097.7 1082.1,1097.7 1083.1,1097.9 1084.1,1098.4 1085.1,1099.0 1086.1,1099.9 1087.1,1100.8 1088.1,1101.9 1089.1,1103.0 1090.1,1104.1 1091.1,1105.2 1092.1,1106.3 1093.1,1107.2 1094.1,1108.1 1095.1,1108.7 1096.1,1109.2 1097.1,1109.4 1098.1,1109.4 1099.1,1109.2 1100.1,1109.0 1101.1,1108.6 1102.1,1108.3 1103.1,1107.9 1104.1,1107.6 1105.1,1107.2 1106.1,1107.0 1107.1,1106.8 1108.1,1106.8 1109.1,1107.0 1110.1,1107.3 1111.1,1107.8 1112.1,1108.3 1113.1,1108.8 1114.1,1109.1 1115.1,1109.4 1116.1,1109.4 1117.1,1109.2 1118.1,1109.0 1119.1,1108.6 1120.1,1108.2 1121.1,1107.6 1122.1,1107.0 1123.1,1106.4 1124.1,1105.7 1125.1,1105.0 1126.1,1104.3 1127.1,1103.6 1128.1,1102.9 1129.1,1102.3 1130.1,1101.7 1131.1,1101.2 1132.1,1100.8 1133.1,1100.5 1134.1,1100.2 1135.1,1100.1 1136.1,1099.9 1137.1,1099.8 1138.1,1099.6 1139.1,1099.4 1140.1,1099.3 1141.1,1099.2 1142.1,1099.0 1143.1,1098.9 1144.1,1098.8 1145.1,1098.7 1146.1,1098.5 1147.1,1098.4 1148.1,1098.3 1149.1,1098.2 1150.1,1098.2 1151.1,1098.1 1152.1,1098.0 1153.1,1097.9 1154.1,1097.9 1155.1,1097.8 1156.1,1097.8 1157.1,1097.8 1158.1,1097.7 1159.1,1097.7 1160.1,1097.7 1161.1,1097.7 1162.1,1097.7 1163.1,1097.7 1164.1,1097.6 1165.1,1097.6 1166.1,1097.6 1167.1,1097.6 1168.1,1097.6 1169.1,1097.6 1170.1,1097.6 1171.1,1097.6 1172.1,1097.6 1173.1,1097.6 1174.1,1097.5 1175.1,1097.5 1176.1,1097.5 1177.1,1097.5 1178.1,1097.5 1179.1,1097.5 1180.1,1097.5 1181.1,1097.5 1182.1,1097.5 1183.1,1097.5 1184.1,1097.5 1185.1,1097.4 1186.1,1097.4 1187.1,1097.4 1188.1,1097.4 1189.1,1097.4 1190.1,1097.4 1191.1,1097.4 1192.1,1097.4 1193.1,1097.4 1194.1,1097.4 1195.1,1097.4 1196.1,1097.4 1197.1,1097.3 1198.1,1097.3 1199.1,1097.3 1200.1,1097.3 1201.1,1097.3 1202.1,1097.3 1203.1,1097.3 1204.1,1097.3 1205.1,1097.3 1206.1,1097.3 1207.1,1097.3 1208.1,1097.3 1209.1,1097.3 1210.1,1097.3 1211.1,1097.3 1212.1,1097.2 1213.1,1097.2 1214.1,1097.2 1215.1,1097.2 1216.1,1097.2 1217.1,1097.2 1218.1,1097.2 1219.1,1097.2 1220.1,1097.2 1221.1,1097.2 1222.1,1097.2 1223.1,1097.2 1224.1,1097.2 1225.1,1097.2 1226.1,1097.2 1227.1,1097.2 1228.1,1097.2 1229.1,1097.2 1230.1,1097.1 1231.1,1097.1 1232.1,1097.1 1233.1,1097.1 1234.1,1097.1 1235.1,1097.1 1236.1,1097.1 1237.1,1097.1 1238.1,1097.1 1239.1,1097.1 1240.1,1097.1 1241.1,1097.1 1242.1,1097.1 1243.1,1097.1 1244.1,1097.1 1245.1,1097.1 1246.1,1097.1 1247.1,1097.1 1248.1,1097.1 1249.1,1097.1 1250.1,1097.1 1251.1,1097.1 1252.1,1097.1 1253.1,1097.1 1254.1,1097.1 1255.1,1097.0 1256.1,1097.0 1257.1,1097.0 1258.1,1097.0 1259.1,1097.0 1260.1,1097.0 1261.1,1097.0 1262.1,1097.0 1263.1,1097.0 1264.1,1097.0 1265.1,1097.0 1266.1,1097.0 1267.1,1097.0 1268.1,1097.0 1269.1,1097.0 1270.1,1097.0 1271.1,1097.0 1272.1,1097.0 1273.1,1097.0 1274.1,1097.0 1275.1,1097.0 1276.1,1097.0 1277.1,1097.0 1278.1,1097.0 1279.1,1097.0 1280.1,1097.0 1281.1,1097.0 1282.1,1097.0 1283.1,1097.0 1284.1,1097.0 1285.1,1097.0 1286.1,1097.0 1287.1,1097.0 1288.1,1097.0 1289.1,1097.0 1290.1,1097.0 1291.1,1097.0 1292.1,1097.0 1293.1,1097.0 1294.1,1097.0 1295.1,1097.0 1296.1,1097.0 1297.1,1096.9 1298.1,1096.9 1299.1,1096.9 1300.1,1096.9 1301.1,1096.9 1302.1,1096.9 1303.1,1096.9 1304.1,1096.9 1305.1,1096.9 1306.1,1096.9 1307.1,1096.9 1308.1,1096.9 1309.1,1096.9 1310.1,1096.9 1311.1,1096.9 1312.1,1096.9 1313.1,1096.9 1314.1,1096.9 1315.1,1096.9 1316.1,1096.9 1317.1,1096.9 1318.1,1096.9 1319.1,1096.9 1320.1,1096.9 1321.1,1096.9 1322.1,1096.9 1323.1,1096.9 1324.1,1096.9 1325.1,1096.9 1326.1,1096.9 1327.1,1096.9 1328.1,1096.9 1329.1,1096.9 1330.1,1096.9 1331.1,1096.9 1332.1,1096.9 1333.1,1096.9 1334.1,1096.9 1335.1,1096.9 1336.1,1096.9 1337.1,1096.9 1338.1,1096.9 1339.1,1096.9 1340.1,1096.9 1341.1,1096.9 1342.1,1096.9 1343.1,1096.9 1344.1,1096.9 1345.1,1096.9 1346.1,1096.9 1347.1,1096.9 1348.1,1096.9 1349.1,1096.9 1350.1,1096.9 1351.1,1096.9 1352.1,1096.8 1353.1,1096.8 1354.1,1096.8 1355.1,1096.8 1356.1,1096.8 1357.1,1096.8 1358.1,1096.8 1359.1,1096.8 1360.1,1096.8 1361.1,1096.8 1362.1,1096.8 1363.1,1096.8 1364.1,1096.8 1365.1,1096.8 1366.1,1096.8 1367.1,1096.8 1368.1,1096.8 1369.1,1096.8 1370.1,1096.8 1371.1,1096.8 1372.1,1096.8 1373.1,1096.8 1374.1,1096.8 1375.1,1096.8 1376.1,1096.8 1377.1,1096.8 1378.1,1096.8 1379.1,1096.8 1380.1,1096.8 1381.1,1096.8 1382.1,1096.8 1383.1,1096.8 1384.1,1096.8 1385.1,1096.8 1386.1,1096.8 1387.1,1096.7 1388.1,1096.7 1389.1,1096.7 1390.1,1096.7 1391.1,1096.7 1392.1,1096.7 1393.1,1096.7 1394.1,1096.7 1395.1,1096.7 1396.1,1096.7 1397.1,1096.7 1398.1,1096.7 1399.1,1096.7 1400.1,1096.7 1401.1,1096.7 1402.1,1096.7 1403.1,1096.7 1404.1,1096.7 1405.1,1096.7 1406.1,1096.7 1407.1,1096.7 1408.1,1096.7 1409.1,1096.6 1410.1,1096.6 1411.1,1096.6 1412.1,1096.6 1413.1,1096.6 1414.1,1096.6 1415.1,1096.6 1416.1,1096.6 1417.1,1096.6 1418.1,1096.6 1419.1,1096.6 1420.1,1096.6 1421.1,1096.6 1422.1,1096.6 1423.1,1096.6 1424.1,1096.6 1425.1,1096.6 1426.1,1096.5 1427.1,1096.5 1428.1,1096.5 1429.1,1096.5 1430.1,1096.5 1431.1,1096.5 1432.1,1096.5 1433.1,1096.5 1434.1,1096.5 1435.1,1096.5 1436.1,1096.5 1437.1,1096.5 1438.1,1096.5 1439.1,1096.5 1440.1,1096.4 1441.1,1096.4 1442.1,1096.4 1443.1,1096.4 1444.1,1096.4 1445.1,1096.4 1446.1,1096.4 1447.1,1096.4 1448.1,1096.4 1449.1,1096.3 1450.1,1096.3 1451.1,1096.3 1452.1,1096.3 1453.1,1096.3 1454.1,1096.2 1455.1,1096.2 1456.1,1096.2 1457.1,1096.2 1458.1,1096.2 1459.1,1096.2 1460.1,1096.3 1461.1,1096.4 1462.1,1096.6 1463.1,1096.8 1464.1,1097.0 1465.1,1097.2 1466.1,1097.4 1467.1,1097.7 1468.1,1097.9 1469.1,1098.2 1470.1,1098.5 1471.1,1098.7 1472.1,1098.9 1473.1,1099.2 1474.1,1099.6 1475.1,1100.0 1476.1,1100.4 1477.1,1100.8 1478.1,1101.1 1479.1,1101.3 1480.1,1101.5 1481.1,1101.5 1482.1,1101.3 1483.1,1101.0 1484.1,1100.6 1485.1,1100.1 1486.1,1099.6 1487.1,1099.0 1488.1,1098.5 1489.1,1098.1 1490.1,1097.7 1491.1,1097.4 1492.1,1096.9 1493.1,1096.5 1494.1,1096.2 1495.1,1095.8 1496.1,1095.6 1497.1,1095.4 1498.1,1095.3 1499.1,1095.3 1500.1,1095.3 1501.1,1095.3 1502.1,1095.3 1503.1,1095.3 1504.1,1095.3 1505.1,1095.4 1506.1,1095.4 1507.1,1095.4 1508.1,1095.4 1509.1,1095.4 1510.1,1095.5 1511.1,1095.5 1512.1,1095.5 1513.1,1095.6 1514.1,1095.6 1515.1,1095.6 1516.1,1095.6 1517.1,1095.7 1518.1,1095.7 1519.1,1095.7 1520.1,1095.8 1521.1,1095.8 1522.1,1095.8 1523.1,1095.9 1524.1,1095.9 1525.1,1095.9 1526.1,1096.0 1527.1,1096.0 1528.1,1096.0 1529.1,1096.0 1530.1,1096.1 1531.1,1096.1 1532.1,1096.1 1533.1,1096.1 1534.1,1096.1 1535.1,1096.2 1536.1,1096.2 1537.1,1096.2 1538.1,1096.2 1539.1,1096.2 1540.1,1096.2 1541.1,1096.2 1542.1,1096.1 1543.1,1096.1 1544.1,1096.0 1545.1,1095.9 1546.1,1095.8 1547.1,1095.6 1548.1,1095.5 1549.1,1095.3 1550.1,1095.2 1551.1,1095.1 1552.1,1094.9 1553.1,1094.8 1554.1,1094.7 1555.1,1094.6 1556.1,1094.5 1557.1,1094.5 1558.1,1094.5 1559.1,1094.5 1560.1,1094.5 1561.1,1094.5 1562.1,1094.5 1563.1,1094.5 1564.1,1094.5 1565.1,1094.5 1566.1,1094.5 1567.1,1094.5 1568.1,1094.6 1569.1,1094.6 1570.1,1094.6 1571.1,1094.6 1572.1,1094.6 1573.1,1094.6 1574.1,1094.7 1575.1,1094.7 1576.1,1094.7 1577.1,1094.7 1578.1,1094.7 1579.1,1094.8 1580.1,1094.8 1581.1,1094.8 1582.1,1094.9 1583.1,1094.9 1584.1,1094.9 1585.1,1095.0 1586.1,1095.0 1587.1,1095.0 1588.1,1095.1 1589.1,1095.1 1590.1,1095.2 1591.1,1095.2 1592.1,1095.3 1593.1,1095.3 1594.1,1095.4 1595.1,1095.7 1596.1,1096.0 1597.1,1096.3 1598.1,1096.5 1599.1,1096.7 1600.1,1096.8 1601.1,1096.8 1602.1,1096.9 1603.1,1096.9 1604.1,1096.9 1605.1,1096.9 1606.1,1096.9 1607.1,1096.9 1608.1,1096.9 1609.1,1097.0 1610.1,1097.0 1611.1,1097.1 1612.1,1097.3 1613.1,1097.6 1614.1,1098.1 1615.1,1098.7 1616.1,1099.4 1617.1,1100.2 1618.1,1101.1 1619.1,1102.0 1620.1,1102.9 1621.1,1103.9 1622.1,1105.2 1623.1,1106.8 1624.1,1108.7 1625.1,1110.9 1626.1,1113.3 1627.1,1116.5 1628.1,1120.7 1629.1,1125.6 1630.1,1130.6 1631.1,1135.2 1632.1,1139.1 1633.1,1142.6 1634.1,1145.9 1635.1,1149.2 1636.1,1152.2 1637.1,1155.1 1638.1,1157.6 1639.1,1160.0 1640.1,1162.2 1641.1,1164.4 1642.1,1166.6 1643.1,1168.5 1644.1,1170.0 1645.1,1170.8 1646.1,1170.8 1647.1,1168.3 1648.1,1163.9 1649.1,1158.3 1650.1,1152.4 1651.1,1146.9 1652.1,1141.9 1653.1,1136.2 1654.1,1130.6 1655.1,1125.9 1656.1,1123.0 1657.1,1121.3 1658.1,1119.8 1659.1,1118.6 1660.1,1117.6 1661.1,1116.8 1662.1,1116.4 1663.1,1116.5 1664.1,1117.5 1665.1,1119.1 1666.1,1121.2 1667.1,1123.7 1668.1,1126.1 1669.1,1128.4 1670.1,1130.6 1671.1,1133.0 1672.1,1135.6 1673.1,1138.0 1674.1,1140.3 1675.1,1142.2 1676.1,1143.8 1677.1,1145.1 1678.1,1146.2 1679.1,1147.4 1680.1,1148.8 1681.1,1150.4 1682.1,1152.5 1683.1,1155.3 1684.1,1159.0 1685.1,1163.8 1686.1,1169.7 1687.1,1178.9 1688.1,1192.8 1689.1,1206.1 1690.1,1217.2 1691.1,1227.4 1692.1,1235.7 1693.1,1243.5 1694.1,1246.8 1695.1,1242.5 1696.1,1234.2 1697.1,1219.2 1698.1,1200.6 1699.1,1185.4 1700.1,1172.7 1701.1,1164.9 1702.1,1158.8 1703.1,1156.3 1704.1,1157.5 1705.1,1160.2 1706.1,1163.2 1707.1,1167.6 1708.1,1171.9 1709.1,1173.3 1710.1,1173.9 1711.1,1174.2 1712.1,1174.4 1713.1,1174.4 1714.1,1171.5 1715.1,1166.6 1716.1,1162.4 1717.1,1158.3 1718.1,1154.6 1719.1,1152.0 1720.1,1149.4 1721.1,1147.1 1722.1,1145.3 1723.1,1144.2 1724.1,1144.0 1725.1,1144.3 1726.1,1144.8 1727.1,1145.5 1728.1,1146.4 1729.1,1147.5 1730.1,1148.8 1731.1,1150.2 1732.1,1152.0 1733.1,1155.3 1734.1,1158.9 1735.1,1161.3 1736.1,1163.3 1737.1,1165.1 1738.1,1166.6 1739.1,1167.4 1740.1,1167.3 1741.1,1166.1 1742.1,1164.1 1743.1,1161.9 1744.1,1159.9 1745.1,1157.7 1746.1,1155.4 1747.1,1153.7 1748.1,1152.7 1749.1,1151.8 1750.1,1151.0 1751.1,1150.2 1752.1,1149.7 1753.1,1149.3 1754.1,1149.1 1755.1,1149.2 1756.1,1149.4 1757.1,1149.9 1758.1,1150.5 1759.1,1151.1 1760.1,1151.6 1761.1,1152.1 1762.1,1152.5 1763.1,1152.6 1764.1,1152.3 1765.1,1151.6 1766.1,1150.5 1767.1,1149.1 1768.1,1147.4 1769.1,1145.6 1770.1,1143.7 1771.1,1141.8 1772.1,1139.9 1773.1,1137.7 1774.1,1135.0 1775.1,1132.1 1776.1,1129.2 1777.1,1126.4 1778.1,1124.2 1779.1,1122.5 1780.1,1121.1 1781.1,1119.8 1782.1,1118.5 1783.1,1117.2 1784.1,1116.1 1785.1,1115.1 1786.1,1114.2 1787.1,1113.4 1788.1,1112.8 1789.1,1112.5 1790.1,1112.3 1791.1,1112.4 1792.1,1112.7 1793.1,1113.1 1794.1,1113.8 1795.1,1114.5 1796.1,1115.4 1797.1,1116.4 1798.1,1117.4 1799.1,1118.6 1800.1,1120.3 1801.1,1122.3 1802.1,1124.8 1803.1,1127.7 1804.1,1131.0 1805.1,1134.7 1806.1,1140.1 1807.1,1148.0 1808.1,1156.6 1809.1,1164.4 1810.1,1171.9 1811.1,1179.4 1812.1,1186.9 1813.1,1194.5 1814.1,1202.2 1815.1,1209.7 1816.1,1216.8 1817.1,1223.8 1818.1,1230.7 1819.1,1237.3 1820.1,1243.7 1821.1,1249.6 1822.1,1255.2 1823.1,1260.6 1824.1,1265.8 1825.1,1270.6 1826.1,1274.9 1827.1,1278.6 1828.1,1281.9 1829.1,1284.9 1830.1,1287.9 1831.1,1291.4 1832.1,1295.3 1833.1,1299.6 1834.1,1304.3 1835.1,1309.4 1836.1,1315.0 1837.1,1321.2 1838.1,1328.7 1839.1,1337.2 1840.1,1346.2 1841.1,1354.9 1842.1,1363.1 1843.1,1371.4 1844.1,1379.6 1845.1,1387.9 1846.1,1396.2 1847.1,1404.5 1848.1,1413.4 1849.1,1422.6 1850.1,1431.5 1851.1,1439.8 1852.1,1447.1 1853.1,1453.4 1854.1,1459.3 1855.1,1464.8 1856.1,1469.6 1857.1,1473.7 1858.1,1476.9 1859.1,1479.7 1860.1,1482.4 1861.1,1484.7 1862.1,1486.4 1863.1,1487.3 1864.1,1487.2 1865.1,1486.1 1866.1,1484.3 1867.1,1481.9 1868.1,1479.0 1869.1,1476.0 1870.1,1471.8 1871.1,1465.9 1872.1,1459.0 1873.1,1451.2 1874.1,1443.1 1875.1,1434.9 1876.1,1425.3 1877.1,1414.8 1878.1,1403.9 1879.1,1393.2 1880.1,1383.5 1881.1,1374.6 1882.1,1366.0 1883.1,1358.0 1884.1,1350.9 1885.1,1345.0 1886.1,1339.2 1887.1,1332.3 1888.1,1322.6 1889.1,1308.5 1890.1,1291.8 1891.1,1275.3 1892.1,1258.0 1893.1,1240.7 1894.1,1228.4 1895.1,1218.8 1896.1,1211.0 1897.1,1205.8 1898.1,1203.0 1899.1,1200.8 1900.1,1199.4 1901.1,1199.2 1902.1,1201.1 1903.1,1204.6 1904.1,1209.1 1905.1,1213.6 1906.1,1218.9 1907.1,1225.5 1908.1,1231.2 1909.1,1234.2 1910.1,1236.3 1911.1,1237.8 1912.1,1238.5 1913.1,1234.7 1914.1,1224.3 1915.1,1211.8 1916.1,1201.2 1917.1,1190.5 1918.1,1179.9 1919.1,1170.9 1920.1,1163.4 1921.1,1156.4 1922.1,1150.3 1923.1,1145.5 1924.1,1142.3 1925.1,1139.8 1926.1,1137.6 1927.1,1136.0 1928.1,1134.9 1929.1,1134.0 1930.1,1133.3 1931.1,1132.6 1932.1,1132.1 1933.1,1131.7 1934.1,1131.6 1935.1,1131.7 1936.1,1132.0 1937.1,1132.6 1938.1,1133.2 1939.1,1134.1 1940.1,1135.0 1941.1,1136.6 1942.1,1139.3 1943.1,1142.8 1944.1,1146.8 1945.1,1151.0 1946.1,1155.2 1947.1,1160.0 1948.1,1165.3 1949.1,1170.8 1950.1,1176.0 1951.1,1180.8 1952.1,1185.7 1953.1,1190.5 1954.1,1195.1 1955.1,1199.0 1956.1,1202.0 1957.1,1204.5 1958.1,1207.0 1959.1,1209.2 1960.1,1211.2 1961.1,1212.7 1962.1,1213.7 1963.1,1214.0 1964.1,1212.6 1965.1,1209.4 1966.1,1205.5 1967.1,1201.6 1968.1,1198.6 1969.1,1196.9 1970.1,1195.8 1971.1,1194.9 1972.1,1194.0 1973.1,1193.0 1974.1,1191.7 1975.1,1189.9 1976.1,1186.0 1977.1,1179.0 1978.1,1171.2 1979.1,1162.7 1980.1,1153.5 1981.1,1144.4 1982.1,1134.6 1983.1,1128.3 1984.1,1126.2 1985.1,1124.5 1986.1,1123.3 1987.1,1122.4 1988.1,1122.0 1989.1,1122.3 1990.1,1123.7 1991.1,1126.2 1992.1,1129.3 1993.1,1133.6 1994.1,1142.4 1995.1,1151.3 1996.1,1155.3 1997.1,1157.2 1998.1,1158.7 1999.1,1159.9 2000.1,1160.7 2001.1,1161.0 2002.1,1160.4 2003.1,1158.6 2004.1,1156.5 2005.1,1154.8 2006.1,1153.8 2007.1,1152.9 2008.1,1152.2 2009.1,1151.7 2010.1,1151.5 2011.1,1152.7 2012.1,1155.0 2013.1,1157.1 2014.1,1157.8 2015.1,1157.8 2016.1,1157.8 2017.1,1157.8 2018.1,1157.8 2019.1,1156.5 2020.1,1153.9 2021.1,1150.8 2022.1,1147.9 2023.1,1145.9 2024.1,1144.3 2025.1,1142.8 2026.1,1141.2 2027.1,1139.3 2028.1,1136.8 2029.1,1133.5 2030.1,1129.8 2031.1,1126.2 2032.1,1123.1 2033.1,1120.4 2034.1,1117.9 2035.1,1115.6 2036.1,1113.5 2037.1,1111.5 2038.1,1109.7 2039.1,1108.0 2040.1,1106.4 2041.1,1105.0 2042.1,1103.7 2043.1,1102.6 2044.1,1101.6 2045.1,1100.8 2046.1,1100.0 2047.1,1099.2 2048.1,1098.6 2049.1,1098.0 2050.1,1097.6 2051.1,1097.1 2052.1,1096.7 2053.1,1096.2 2054.1,1095.9 2055.1,1095.5 2056.1,1095.2 2057.1,1095.0 2058.1,1094.8 2059.1,1094.7 2060.1,1094.6 2061.1,1094.5 2062.1,1094.4 2063.1,1094.3 2064.1,1094.3 2065.1,1094.2 2066.1,1094.2 2067.1,1094.1 2068.1,1094.1 2069.1,1094.0 2070.1,1094.0 2071.1,1093.9 2072.1,1093.9 2073.1,1093.9 2074.1,1093.9 2075.1,1093.9 2076.1,1093.9 2077.1,1093.9 2078.1,1093.9 2079.1,1093.9 2080.1,1093.9 2081.1,1093.9 2082.1,1093.9 2083.1,1093.9 2084.1,1093.9 2085.1,1093.9 2086.1,1093.9 2087.1,1093.9 2088.1,1093.9 2089.1,1093.9 2090.1,1093.9 2091.1,1093.9 2092.1,1093.9 2093.1,1093.9 2094.1,1094.0 2095.1,1094.0 2096.1,1094.0 2097.1,1094.1 2098.1,1094.1 2099.1,1094.2 2100.1,1094.3 2101.1,1094.4 2102.1,1094.4 2103.1,1094.5 2104.1,1094.6 2105.1,1094.8 2106.1,1095.0 2107.1,1095.4 2108.1,1095.9 2109.1,1096.5 2110.1,1097.1 2111.1,1097.7 2112.1,1098.4 2113.1,1099.0 2114.1,1099.9 2115.1,1100.9 2116.1,1101.9 2117.1,1102.9 2118.1,1103.7 2119.1,1104.1 2120.1,1104.2 2121.1,1103.8 2122.1,1103.2 2123.1,1102.4 2124.1,1101.6 2125.1,1100.7 2126.1,1099.9 2127.1,1099.3 2128.1,1098.8 2129.1,1098.3 2130.1,1097.7 2131.1,1097.2 2132.1,1096.8 2133.1,1096.4 2134.1,1096.0 2135.1,1095.7 2136.1,1095.5 2137.1,1095.4 2138.1,1095.2 2139.1,1095.1 2140.1,1095.0 2141.1,1094.9 2142.1,1094.8 2143.1,1094.8 2144.1,1094.7 2145.1,1094.7 2146.1,1094.7 2147.1,1094.7 2148.1,1094.8 2149.1,1094.8 2150.1,1094.9 2151.1,1095.0 2152.1,1095.1 2153.1,1095.2 2154.1,1095.3 2155.1,1095.5 2156.1,1095.8 2157.1,1096.3 2158.1,1097.0 2159.1,1097.9 2160.1,1098.8 2161.1,1099.7 2162.1,1100.4 2163.1,1101.1 2164.1,1101.6 2165.1,1102.2 2166.1,1102.7 2167.1,1103.3 2168.1,1103.8 2169.1,1104.2 2170.1,1104.6 2171.1,1104.9 2172.1,1105.0 2173.1,1105.0 2174.1,1104.9 2175.1,1104.9 2176.1,1104.8 2177.1,1104.6 2178.1,1104.5 2179.1,1104.3 2180.1,1104.2 2181.1,1104.0 2182.1,1103.8 2183.1,1103.7 2184.1,1103.5 2185.1,1103.4 2186.1,1103.3 2187.1,1103.2 2188.1,1103.1 2189.1,1103.0 2190.1,1102.9 2191.1,1102.8 2192.1,1102.7 2193.1,1102.6 2194.1,1102.5 2195.1,1102.4 2196.1,1102.3 2197.1,1102.2 2198.1,1102.1 2199.1,1102.0 2200.1,1101.9 2201.1,1101.8 2202.1,1101.7 2203.1,1101.6 2204.1,1101.5 2205.1,1101.4 2206.1,1101.3 2207.1,1101.1 2208.1,1101.0 2209.1,1100.8 2210.1,1100.6 2211.1,1100.4 2212.1,1100.2 2213.1,1099.6 2214.1,1098.8 2215.1,1097.8 2216.1,1096.8 2217.1,1096.0 2218.1,1095.2 2219.1,1094.5 2219.9,1093.9"/>
<line x1="107.5" y1="1644" x2="2222" y2="1644" stroke="#000" stroke-width="6"/>
<line x1="110.0" y1="1641" x2="110.0" y2="1677" stroke="#000" stroke-width="5"/>
<text x="110.0" y="1744.5" text-anchor="middle" font-family="Liberation Sans, Arial, sans-serif" font-weight="bold" font-size="64">4000</text>
<line x1="260.7" y1="1641" x2="260.7" y2="1661" stroke="#000" stroke-width="5"/>
<line x1="411.4" y1="1641" x2="411.4" y2="1677" stroke="#000" stroke-width="5"/>
<text x="411.4" y="1744.5" text-anchor="middle" font-family="Liberation Sans, Arial, sans-serif" font-weight="bold" font-size="64">3500</text>
<line x1="562.0" y1="1641" x2="562.0" y2="1661" stroke="#000" stroke-width="5"/>
<line x1="712.7" y1="1641" x2="712.7" y2="1677" stroke="#000" stroke-width="5"/>
<text x="712.7" y="1744.5" text-anchor="middle" font-family="Liberation Sans, Arial, sans-serif" font-weight="bold" font-size="64">3000</text>
<line x1="863.4" y1="1641" x2="863.4" y2="1661" stroke="#000" stroke-width="5"/>
<line x1="1014.1" y1="1641" x2="1014.1" y2="1677" stroke="#000" stroke-width="5"/>
<text x="1014.1" y="1744.5" text-anchor="middle" font-family="Liberation Sans, Arial, sans-serif" font-weight="bold" font-size="64">2500</text>
<line x1="1164.8" y1="1641" x2="1164.8" y2="1661" stroke="#000" stroke-width="5"/>
<line x1="1315.4" y1="1641" x2="1315.4" y2="1677" stroke="#000" stroke-width="5"/>
<text x="1315.4" y="1744.5" text-anchor="middle" font-family="Liberation Sans, Arial, sans-serif" font-weight="bold" font-size="64">2000</text>
<line x1="1466.1" y1="1641" x2="1466.1" y2="1661" stroke="#000" stroke-width="5"/>
<line x1="1616.8" y1="1641" x2="1616.8" y2="1677" stroke="#000" stroke-width="5"/>
<text x="1616.8" y="1744.5" text-anchor="middle" font-family="Liberation Sans, Arial, sans-serif" font-weight="bold" font-size="64" clip-path="url(#no1base)">1500</text>
<line x1="1767.5" y1="1641" x2="1767.5" y2="1661" stroke="#000" stroke-width="5"/>
<line x1="1918.1" y1="1641" x2="1918.1" y2="1677" stroke="#000" stroke-width="5"/>
<text x="1918.1" y="1744.5" text-anchor="middle" font-family="Liberation Sans, Arial, sans-serif" font-weight="bold" font-size="64" clip-path="url(#no1base)">1000</text>
<line x1="2068.8" y1="1641" x2="2068.8" y2="1661" stroke="#000" stroke-width="5"/>
<line x1="2219.5" y1="1641" x2="2219.5" y2="1677" stroke="#000" stroke-width="5"/>
<text x="2219.5" y="1744.5" text-anchor="middle" font-family="Liberation Sans, Arial, sans-serif" font-weight="bold" font-size="64">500</text>
<text x="112.0" y="77.6" font-family="Liberation Serif, Times New Roman, serif" font-weight="bold" font-size="54.22">PBF</text>
<text x="112.0" y="338.0" font-family="Liberation Serif, Times New Roman, serif" font-weight="bold" font-size="52.47">PBF-<tspan font-style="italic">co</tspan>-PPOF-90/10</text>
<text x="111.0" y="643.6" font-family="Liberation Serif, Times New Roman, serif" font-weight="bold" font-size="52.45">PBF-<tspan font-style="italic">co</tspan>-PPOF-80/20</text>
<text x="111.5" y="875.9" font-family="Liberation Serif, Times New Roman, serif" font-weight="bold" font-size="52.16">PBF-<tspan font-style="italic">co</tspan>-PPOF-50/50</text>
<text x="115.0" y="1075.7" font-family="Liberation Serif, Times New Roman, serif" font-weight="bold" font-size="54.01">PPO</text>
<text transform="translate(361.92,1168.3) scale(1.239,1)" x="0" y="0" font-family="Liberation Serif, Times New Roman, serif" font-style="italic" font-size="47.03">υ</text>
<text x="408.3" y="1168.2" font-family="Liberation Sans, Arial, sans-serif" font-weight="bold" font-size="46.6">O-H</text>
<text transform="translate(624.53,1315.8) scale(1.133,1)" x="0" y="0" font-family="Liberation Serif, Times New Roman, serif" font-style="italic" font-size="46.12">υ</text>
<text x="657.3" y="1334.6" font-family="Liberation Sans, Arial, sans-serif" font-weight="bold" font-size="44.68">sym</text>
<text x="758.4" y="1314.8" font-family="Liberation Sans, Arial, sans-serif" font-weight="bold" font-size="45.39">C-H</text>
<text x="852.1" y="1314.8" font-family="Liberation Sans, Arial, sans-serif" font-weight="bold" font-size="44.68">and</text>
<text transform="translate(947.57,1316.2) scale(1.163,1)" x="0" y="0" font-family="Liberation Serif, Times New Roman, serif" font-style="italic" font-size="49.5">υ</text>
<text x="982.6" y="1332.4" font-family="Liberation Sans, Arial, sans-serif" font-weight="bold" font-size="45.28">asym</text>
<text x="1108.9" y="1314.5" font-family="Liberation Sans, Arial, sans-serif" font-weight="bold" font-size="46.18">C-H</text>
<text transform="translate(115.64,1445.9) scale(1.179,1)" x="0" y="0" font-family="Liberation Serif, Times New Roman, serif" font-style="italic" font-size="49.95">υ</text>
<text x="148.0" y="1457.6" font-family="Liberation Sans, Arial, sans-serif" font-weight="bold" font-size="45.74">sym</text>
<text x="249.7" y="1443.7" font-family="Liberation Sans, Arial, sans-serif" font-weight="bold" font-size="46.17">=C-H</text>
<text x="355.8" y="1458.2" font-family="Liberation Sans, Arial, sans-serif" font-weight="bold" font-size="46.82">ring</text>
<text x="456.6" y="1445.1" font-family="Liberation Sans, Arial, sans-serif" font-weight="bold" font-size="44.76">and</text>
<text transform="translate(551.36,1445.5) scale(1.168,1)" x="0" y="0" font-family="Liberation Serif, Times New Roman, serif" font-style="italic" font-size="48.83">υ</text>
<text x="585.9" y="1455.5" font-family="Liberation Sans, Arial, sans-serif" font-weight="bold" font-size="44.39">asym</text>
<text x="711.0" y="1444.7" font-family="Liberation Sans, Arial, sans-serif" font-weight="bold" font-size="46.03">=C-H</text>
<text x="817.7" y="1457.8" font-family="Liberation Sans, Arial, sans-serif" font-weight="bold" font-size="45.97">ring</text>
<text transform="translate(1302.07,1296.4) scale(1.163,1)" x="0" y="0" font-family="Liberation Serif, Times New Roman, serif" font-style="italic" font-size="49.72">υ</text>
<text x="1347.9" y="1293.7" font-family="Liberation Sans, Arial, sans-serif" font-weight="bold" font-size="46.31">C=O</text>
<text transform="translate(1488.78,1222.4) scale(1.211,1)" x="0" y="0" font-family="Liberation Serif, Times New Roman, serif" font-style="italic" font-size="48.15">υ</text>
<text x="1535.7" y="1219.7" font-family="Liberation Sans, Arial, sans-serif" font-weight="bold" font-size="45.0">C=C;</text>
<text transform="translate(1489.48,1280.4) scale(1.225,1)" x="0" y="0" font-family="Liberation Serif, Times New Roman, serif" font-style="italic" font-size="45.15">δ</text>
<text x="1533.1" y="1278.8" font-family="Liberation Sans, Arial, sans-serif" font-weight="bold" font-size="46.12">CH</text>
<text x="1597.4" y="1297.7" font-family="Liberation Sans, Arial, sans-serif" font-weight="bold" font-size="46.94">2</text>
<text transform="translate(1540.51,1391.0) scale(1.247,1)" x="0" y="0" font-family="Liberation Serif, Times New Roman, serif" font-style="italic" font-size="48.38">υ</text>
<text x="1575.6" y="1413.7" font-family="Liberation Sans, Arial, sans-serif" font-weight="bold" font-size="45.0">asym</text>
<text x="1701.7" y="1388.8" font-family="Liberation Sans, Arial, sans-serif" font-weight="bold" font-size="46.29">C-O-C</text>
<text x="1919.7" y="1419.0" font-family="Liberation Sans, Arial, sans-serif" font-weight="bold" font-size="45.53">2,5-disubstituted ring</text>
<text transform="translate(1046.08,1882.3) scale(1.162,1)" x="0" y="0" font-family="Liberation Serif, Times New Roman, serif" font-size="65.59">λ</text>
<text x="1101.5" y="1882.6" font-family="Liberation Sans, Arial, sans-serif" font-size="69.5">/</text>
<text x="1141.1" y="1884.0" font-family="Liberation Sans, Arial, sans-serif" font-weight="bold" font-size="71.51">cm</text>
<text x="1246.0" y="1841.5" font-family="Liberation Sans, Arial, sans-serif" font-weight="bold" font-size="43.2">-</text>
<text x="1259.1" y="1842.1" font-family="Liberation Sans, Arial, sans-serif" font-weight="bold" font-size="44.28" clip-path="url(#no1base)">1</text>
<line x1="607.3" y1="1158.0" x2="489.6" y2="1403.4" stroke="#3a3a3a" stroke-width="1.8"/><polygon fill="#000" points="621.8,1127.8 597.2,1155.9 607.3,1158.0 615.2,1164.6"/>
<line x1="1450.4" y1="1090.9" x2="1377.2" y2="1236.4" stroke="#3a3a3a" stroke-width="1.8"/><polygon fill="#000" points="1465.5,1061.0 1440.4,1088.7 1450.4,1090.9 1458.2,1097.7"/>
<line x1="1940.6" y1="1115.7" x2="2115.5" y2="1373.0" stroke="#3a3a3a" stroke-width="1.8"/><polygon fill="#000" points="1921.8,1088.0 1933.8,1123.4 1940.6,1115.7 1950.3,1112.2"/>
<line x1="2031.5" y1="1036.3" x2="2115.5" y2="1373.0" stroke="#3a3a3a" stroke-width="1.8"/><polygon fill="#000" points="2023.4,1003.8 2022.4,1041.1 2031.5,1036.3 2041.8,1036.3"/>
<line x1="2064.3" y1="1060.5" x2="2115.5" y2="1373.0" stroke="#3a3a3a" stroke-width="1.8"/><polygon fill="#000" points="2058.9,1027.5 2054.9,1064.6 2064.3,1060.5 2074.6,1061.4"/>
</svg>
</body></html>
